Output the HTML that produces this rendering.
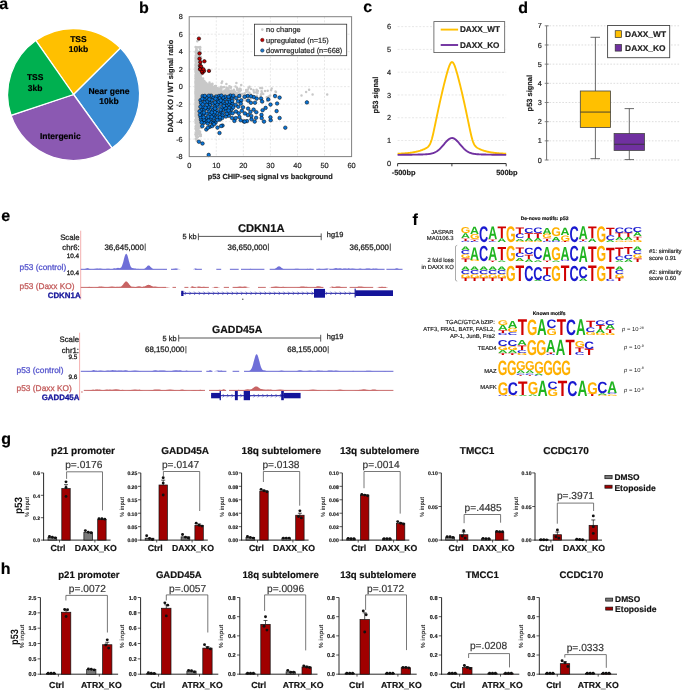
<!DOCTYPE html>
<html><head><meta charset="utf-8"><style>
html,body{margin:0;padding:0;background:#fff;}
svg{display:block;font-family:"Liberation Sans", sans-serif;will-change:transform;text-rendering:geometricPrecision;}
.bd{fill:#0A74D6;stroke:#000;stroke-width:0.5px;}
.rd{fill:#C00000;stroke:#000;stroke-width:0.6px;}
</style></head><body>
<svg width="685" height="690" viewBox="0 0 685 690">
<rect x="0" y="0" width="685" height="690" fill="#fff"/>
<text x="-0.80" y="9.00" font-size="16.0" font-weight="bold" fill="#000" stroke="#000" stroke-width="0.18">a</text>
<text x="139.00" y="12.80" font-size="16.0" font-weight="bold" fill="#000" stroke="#000" stroke-width="0.18">b</text>
<text x="363.30" y="12.40" font-size="16.0" font-weight="bold" fill="#000" stroke="#000" stroke-width="0.18">c</text>
<text x="518.30" y="13.10" font-size="16.0" font-weight="bold" fill="#000" stroke="#000" stroke-width="0.18">d</text>
<text x="1.30" y="221.40" font-size="16.0" font-weight="bold" fill="#000" stroke="#000" stroke-width="0.18">e</text>
<text x="412.60" y="224.60" font-size="16.0" font-weight="bold" fill="#000" stroke="#000" stroke-width="0.18">f</text>
<text x="1.20" y="443.90" font-size="16.0" font-weight="bold" fill="#000" stroke="#000" stroke-width="0.18">g</text>
<text x="0.80" y="574.10" font-size="16.0" font-weight="bold" fill="#000" stroke="#000" stroke-width="0.18">h</text>
<path d="M73.6,94.5 L35.74,40.44 A66.0,66.0 0 0 1 120.51,48.08 Z" fill="#FFC000" stroke="#fff" stroke-width="1.3" stroke-linejoin="round"/>
<path d="M73.6,94.5 L120.51,48.08 A66.0,66.0 0 0 1 112.11,148.10 Z" fill="#3A8DD4" stroke="#fff" stroke-width="1.3" stroke-linejoin="round"/>
<path d="M73.6,94.5 L112.11,148.10 A66.0,66.0 0 0 1 10.97,115.33 Z" fill="#8B59B2" stroke="#fff" stroke-width="1.3" stroke-linejoin="round"/>
<path d="M73.6,94.5 L10.97,115.33 A66.0,66.0 0 0 1 35.74,40.44 Z" fill="#00B050" stroke="#fff" stroke-width="1.3" stroke-linejoin="round"/>
<text x="78.40" y="42.30" font-size="8.5" font-weight="bold" text-anchor="middle" fill="#000" stroke="#000" stroke-width="0.18">TSS</text>
<text x="78.40" y="51.80" font-size="8.5" font-weight="bold" text-anchor="middle" fill="#000" stroke="#000" stroke-width="0.18">10kb</text>
<text x="35.20" y="80.00" font-size="8.5" font-weight="bold" text-anchor="middle" fill="#000" stroke="#000" stroke-width="0.18">TSS</text>
<text x="35.20" y="90.50" font-size="8.5" font-weight="bold" text-anchor="middle" fill="#000" stroke="#000" stroke-width="0.18">3kb</text>
<text x="109.00" y="94.30" font-size="8.5" font-weight="bold" text-anchor="middle" fill="#000" stroke="#000" stroke-width="0.18">Near gene</text>
<text x="109.00" y="104.00" font-size="8.5" font-weight="bold" text-anchor="middle" fill="#000" stroke="#000" stroke-width="0.18">10kb</text>
<text x="60.30" y="138.70" font-size="8.5" font-weight="bold" text-anchor="middle" fill="#000" stroke="#000" stroke-width="0.18">Intergenic</text>
<line x1="216.27" y1="16.70" x2="216.27" y2="156.60" stroke="#d9d9d9" stroke-width="0.6" stroke-dasharray="2,1.6"/>
<line x1="243.33" y1="16.70" x2="243.33" y2="156.60" stroke="#d9d9d9" stroke-width="0.6" stroke-dasharray="2,1.6"/>
<line x1="270.40" y1="16.70" x2="270.40" y2="156.60" stroke="#d9d9d9" stroke-width="0.6" stroke-dasharray="2,1.6"/>
<line x1="297.47" y1="16.70" x2="297.47" y2="156.60" stroke="#d9d9d9" stroke-width="0.6" stroke-dasharray="2,1.6"/>
<line x1="324.53" y1="16.70" x2="324.53" y2="156.60" stroke="#d9d9d9" stroke-width="0.6" stroke-dasharray="2,1.6"/>
<line x1="189.20" y1="139.11" x2="351.60" y2="139.11" stroke="#d9d9d9" stroke-width="0.6" stroke-dasharray="2,1.6"/>
<line x1="189.20" y1="121.63" x2="351.60" y2="121.63" stroke="#d9d9d9" stroke-width="0.6" stroke-dasharray="2,1.6"/>
<line x1="189.20" y1="104.14" x2="351.60" y2="104.14" stroke="#d9d9d9" stroke-width="0.6" stroke-dasharray="2,1.6"/>
<line x1="189.20" y1="86.65" x2="351.60" y2="86.65" stroke="#d9d9d9" stroke-width="0.6" stroke-dasharray="2,1.6"/>
<line x1="189.20" y1="69.16" x2="351.60" y2="69.16" stroke="#d9d9d9" stroke-width="0.6" stroke-dasharray="2,1.6"/>
<line x1="189.20" y1="51.67" x2="351.60" y2="51.67" stroke="#d9d9d9" stroke-width="0.6" stroke-dasharray="2,1.6"/>
<line x1="189.20" y1="34.19" x2="351.60" y2="34.19" stroke="#d9d9d9" stroke-width="0.6" stroke-dasharray="2,1.6"/>
<path d="M199.6 85.6h0M201.5 88.0h0M198.8 57.0h0M200.8 68.5h0M196.7 118.7h0M215.6 88.2h0M195.5 82.1h0M212.2 92.0h0M198.9 105.1h0M197.2 79.2h0M198.6 84.7h0M197.3 82.2h0M200.8 114.4h0M201.8 89.5h0M206.6 83.6h0M196.7 94.4h0M214.2 89.9h0M199.8 79.9h0M197.5 82.2h0M200.7 107.8h0M195.9 97.6h0M202.7 88.2h0M200.0 109.1h0M208.5 95.2h0M198.3 102.1h0M198.5 104.6h0M202.5 94.0h0M198.6 119.2h0M195.6 83.2h0M197.2 72.2h0M201.5 85.7h0M199.2 79.0h0M203.7 100.3h0M195.5 68.9h0M200.8 114.3h0M196.9 127.9h0M197.5 77.5h0M213.7 92.5h0M203.8 95.3h0M218.0 89.8h0M205.8 97.3h0M208.8 91.7h0M196.3 108.2h0M197.2 111.0h0M196.8 103.1h0M202.3 80.6h0M202.7 99.1h0M196.2 115.0h0M197.7 88.8h0M201.8 88.4h0M195.8 69.1h0M196.0 89.4h0M200.6 80.5h0M206.6 100.3h0M211.5 87.2h0M199.6 100.1h0M203.2 98.4h0M200.0 118.1h0M201.0 98.5h0M196.3 102.0h0M210.3 87.2h0M200.7 103.1h0M200.6 83.0h0M195.6 103.6h0M201.9 102.7h0M201.7 100.4h0M201.8 95.9h0M198.8 85.0h0M203.5 89.8h0M204.8 91.7h0M199.3 111.3h0M197.5 101.9h0M205.5 97.1h0M199.4 97.2h0M199.9 113.3h0M196.1 89.7h0M196.9 82.3h0M207.6 93.6h0M199.8 91.1h0M195.6 104.9h0M203.3 86.4h0M198.4 63.1h0M213.0 95.5h0M200.4 89.7h0M201.2 96.3h0M198.0 90.9h0M195.5 67.2h0M227.5 95.0h0M198.2 76.6h0M207.7 90.0h0M196.3 112.5h0M211.8 89.1h0M195.5 58.0h0M200.5 87.7h0M196.0 122.5h0M196.5 70.2h0M204.9 95.0h0M211.2 95.3h0M199.5 72.9h0M204.1 87.8h0M201.9 97.8h0M198.3 72.1h0M208.7 95.2h0M206.4 96.0h0M197.5 61.8h0M202.3 101.7h0M202.3 99.0h0M195.9 80.0h0M226.9 93.2h0M195.5 88.9h0M203.8 97.8h0M203.1 93.0h0M199.5 108.0h0M197.6 100.3h0M195.5 105.9h0M200.2 74.9h0M202.6 95.3h0M202.3 97.6h0M222.0 96.9h0M196.4 93.2h0M196.6 70.1h0M198.9 71.5h0M196.7 92.0h0M198.7 116.7h0M212.1 90.3h0M203.4 85.2h0M199.0 77.2h0M199.9 99.0h0M230.3 94.8h0M198.7 85.3h0M202.2 94.2h0M206.6 94.1h0M202.9 89.6h0M202.6 90.9h0M205.3 96.6h0M196.9 87.0h0M199.0 63.5h0M203.6 87.3h0M199.5 81.6h0M208.6 96.8h0M196.1 135.4h0M198.7 128.4h0M197.5 107.9h0M201.8 99.1h0M198.3 86.8h0M216.9 90.8h0M200.8 85.0h0M211.4 89.7h0M205.5 95.5h0M202.3 88.4h0M202.7 91.9h0M199.0 93.7h0M197.4 88.2h0M197.0 101.7h0M196.1 77.5h0M209.2 99.0h0M199.2 62.0h0M197.2 105.2h0M203.3 89.0h0M200.9 64.3h0M210.1 87.2h0M196.8 96.2h0M200.7 109.2h0M196.0 113.4h0M197.9 72.7h0M199.2 98.9h0M197.1 117.7h0M195.5 85.3h0M197.5 92.8h0M205.8 96.2h0M203.1 96.4h0M198.7 105.5h0M196.7 105.5h0M208.5 89.1h0M203.5 93.0h0M218.8 90.1h0M198.2 101.6h0M208.4 97.2h0M195.7 73.9h0M195.7 67.1h0M195.6 96.0h0M195.7 92.4h0M198.1 73.7h0M195.8 105.1h0M204.7 86.2h0M195.6 96.4h0M198.4 99.4h0M196.7 100.8h0M200.4 75.3h0M195.6 102.8h0M198.7 77.9h0M212.6 93.0h0M202.1 92.7h0M197.6 93.6h0M204.9 99.7h0M199.6 84.8h0M196.4 52.6h0M205.8 90.4h0M195.9 89.2h0M205.0 93.7h0M207.3 88.9h0M201.3 116.9h0M197.5 82.0h0M207.3 88.9h0M196.1 115.8h0M198.1 56.8h0M203.6 91.4h0M201.3 85.2h0M200.4 127.4h0M225.6 99.8h0M200.0 86.7h0M196.8 96.7h0M199.2 80.3h0M204.3 103.2h0M196.3 107.8h0M204.4 98.9h0M212.2 94.6h0M200.5 97.0h0M195.9 101.2h0M197.1 112.2h0M198.0 86.6h0M199.8 83.0h0M198.5 72.7h0M206.7 96.0h0M201.2 103.6h0M197.0 78.2h0M195.6 92.3h0M197.0 90.3h0M197.1 118.9h0M204.3 100.6h0M197.7 118.6h0M210.1 93.8h0M201.0 101.3h0M202.4 95.5h0M205.0 86.2h0M195.5 74.9h0M201.0 91.4h0M196.3 77.9h0M200.8 114.7h0M205.0 92.4h0M198.7 81.1h0M197.4 79.2h0M203.7 95.0h0M198.8 104.8h0M196.8 94.6h0M198.1 114.5h0M199.0 94.5h0M196.0 70.7h0M200.9 82.1h0M212.5 92.8h0M198.3 88.6h0M195.6 91.1h0M203.9 82.3h0M196.8 90.6h0M195.9 112.1h0M196.2 50.4h0M195.6 51.9h0M198.2 90.4h0M200.2 79.7h0M197.1 83.5h0M203.9 92.0h0M200.3 65.9h0M197.7 111.2h0M199.7 85.5h0M203.6 96.1h0M197.5 110.3h0M199.0 83.7h0M196.6 91.7h0M197.3 93.4h0M221.6 82.9h0M200.7 82.3h0M210.7 93.3h0M196.1 54.9h0M206.6 98.6h0M208.9 85.7h0M197.2 78.0h0M203.9 105.9h0M207.1 92.2h0M208.3 94.1h0M201.8 88.3h0M195.9 113.9h0M196.1 78.5h0M215.7 90.9h0M205.4 88.2h0M220.7 89.4h0M200.7 118.0h0M205.1 99.2h0M195.7 78.2h0M202.7 92.2h0M197.8 91.3h0M199.6 98.4h0M196.2 50.3h0M209.5 91.9h0M200.1 116.9h0M199.0 78.1h0M199.1 96.1h0M195.6 97.8h0M212.3 96.5h0M199.0 84.7h0M197.7 106.4h0M197.6 74.9h0M205.5 93.9h0M198.6 110.1h0M197.0 85.3h0M217.2 93.1h0M199.1 72.8h0M196.7 91.4h0M203.7 94.1h0M204.3 90.0h0M198.4 90.7h0M197.2 98.1h0M225.5 97.1h0M197.4 77.2h0M198.1 61.3h0M213.9 92.6h0M197.9 66.4h0M197.4 103.6h0M208.7 93.5h0M199.9 110.9h0M201.3 72.2h0M198.2 54.0h0M205.5 94.1h0M196.2 96.5h0M206.5 95.8h0M196.9 91.5h0M197.5 80.2h0M195.6 96.2h0M206.9 98.6h0M206.0 93.2h0M208.9 95.9h0M197.4 92.5h0M196.6 77.8h0M205.8 89.1h0M198.3 87.9h0M205.1 89.7h0M198.3 105.6h0M195.6 96.8h0M204.7 96.1h0M197.7 69.0h0M196.0 86.1h0M202.5 81.7h0M199.4 109.0h0M197.9 79.9h0M206.4 91.1h0M197.8 92.3h0M200.9 80.0h0M197.2 67.9h0M203.4 87.9h0M211.4 91.2h0M204.2 91.1h0M198.5 82.0h0M209.9 93.1h0M201.6 98.4h0M196.6 112.0h0M196.8 86.9h0M196.5 91.5h0M205.2 89.8h0M238.6 92.3h0M205.7 97.0h0M195.7 105.2h0M200.4 112.6h0M209.4 92.8h0M199.2 69.4h0M195.6 114.8h0M197.4 109.1h0M197.5 126.0h0M196.5 79.5h0M197.3 83.0h0M208.1 96.4h0M202.8 101.2h0M199.3 69.6h0M207.6 88.7h0M208.8 94.5h0M198.8 98.1h0M200.9 82.6h0M197.6 76.6h0M196.7 109.9h0M199.4 86.9h0M195.8 93.4h0M199.6 64.2h0M196.1 105.8h0M199.0 64.6h0M200.8 125.4h0M198.6 80.1h0M206.0 92.7h0M198.9 118.2h0M199.0 104.0h0M196.4 93.3h0M200.6 104.4h0M209.6 97.9h0M208.3 97.0h0M196.1 111.6h0M205.9 87.5h0M203.4 85.5h0M206.9 91.6h0M209.6 96.5h0M201.9 93.5h0M200.5 63.9h0M206.9 91.5h0M203.6 90.2h0M197.8 130.6h0M203.0 97.1h0M197.9 84.8h0M202.6 92.2h0M199.3 99.4h0M197.6 110.4h0M198.0 96.3h0M195.5 100.1h0M207.0 90.6h0M199.2 126.1h0M197.8 91.1h0M199.2 95.5h0M203.3 94.6h0M200.0 100.8h0M197.9 91.9h0M202.2 92.1h0M201.1 72.7h0M209.8 92.8h0M196.0 92.9h0M201.2 107.9h0M200.5 88.2h0M203.0 96.8h0M195.8 87.3h0M197.5 125.8h0M196.4 91.3h0M198.4 71.4h0M208.0 92.5h0M196.7 49.7h0M202.5 99.2h0M209.1 93.1h0M201.2 112.5h0M200.7 84.5h0M210.9 84.4h0M205.7 96.8h0M199.6 79.2h0M206.8 92.4h0M199.5 84.0h0M198.5 83.3h0M201.9 85.5h0M205.1 88.1h0M198.6 85.9h0M202.9 99.0h0M200.5 87.7h0M199.5 90.0h0M207.1 96.1h0M196.8 50.5h0M196.1 84.2h0M202.6 94.2h0M200.4 83.5h0M223.9 92.5h0M201.2 89.5h0M208.6 96.5h0M199.3 105.6h0M195.7 89.4h0M201.8 85.7h0M196.9 72.2h0M198.6 80.2h0M215.0 93.5h0M199.0 90.5h0M199.1 130.7h0M198.8 120.6h0M209.6 88.4h0M196.3 111.2h0M198.8 60.4h0M197.0 89.7h0M198.0 126.5h0M202.2 94.9h0M198.9 95.4h0M207.6 89.1h0M202.8 94.9h0M198.1 99.3h0M198.8 55.4h0M198.3 88.2h0M200.5 106.4h0M205.1 86.0h0M217.8 96.3h0M196.6 93.8h0M204.0 94.9h0M197.1 137.4h0M207.0 91.3h0M202.4 88.5h0M198.4 104.3h0M200.7 60.6h0M207.1 96.5h0M197.7 73.2h0M207.3 86.7h0M200.9 134.5h0M210.9 87.7h0M205.3 93.7h0M201.2 92.7h0M199.2 100.6h0M205.6 86.2h0M206.6 86.8h0M196.3 109.9h0M205.2 84.6h0M198.1 118.1h0M200.3 94.0h0M195.7 101.1h0M215.5 93.8h0M199.1 85.5h0M201.7 98.1h0M208.6 93.9h0M200.5 66.8h0M197.7 94.0h0M197.5 84.1h0M206.7 88.2h0M197.8 57.4h0M196.9 92.7h0M207.3 94.4h0M196.5 82.0h0M204.1 93.3h0M197.6 127.1h0M195.7 77.1h0M208.2 89.7h0M212.0 97.1h0M205.5 88.1h0M198.7 84.4h0M196.0 107.3h0M197.2 131.8h0M198.7 126.6h0M206.3 90.9h0M229.2 92.6h0M198.0 85.0h0M197.7 85.2h0M197.3 80.2h0M202.5 90.9h0M198.5 91.9h0M197.0 97.8h0M197.8 58.9h0M206.2 94.4h0M197.6 135.1h0M201.0 100.3h0M195.9 86.3h0M196.4 106.0h0M196.6 110.5h0M196.8 121.1h0M196.7 54.4h0M203.7 92.5h0M195.8 94.7h0M196.2 92.5h0M198.1 111.6h0M202.1 90.6h0M195.5 71.3h0M200.0 110.7h0M198.3 71.3h0M197.6 78.4h0M206.2 96.5h0M196.6 90.4h0M198.4 108.3h0M198.3 79.5h0M202.2 91.4h0M203.6 98.3h0M198.3 96.9h0M208.7 92.2h0M203.5 94.2h0M197.2 105.2h0M195.5 92.9h0M206.2 92.2h0M204.3 97.6h0M201.3 88.7h0M196.0 116.1h0M201.9 94.9h0M198.4 88.2h0M196.5 94.4h0M201.4 94.9h0M195.5 103.0h0M213.3 88.0h0M201.1 77.8h0M198.8 92.1h0M197.8 89.6h0M197.5 83.1h0M204.9 90.4h0M202.6 91.9h0M197.9 96.9h0M202.2 98.6h0M195.7 132.3h0M198.4 113.7h0M199.9 67.1h0M197.6 80.1h0M195.8 99.1h0M196.5 90.5h0M196.7 101.3h0M200.8 84.0h0M196.6 89.2h0M196.5 81.7h0M201.8 94.8h0M205.8 94.0h0M203.4 100.8h0M196.8 105.9h0M195.4 119.9h0M200.2 89.5h0M202.5 99.5h0M196.8 108.4h0M202.4 87.3h0M215.2 100.9h0M198.8 123.8h0M199.5 75.6h0M201.9 96.8h0M201.0 108.1h0M201.1 74.3h0M197.1 117.4h0M197.2 71.1h0M196.6 96.9h0M197.5 116.0h0M195.5 91.5h0M201.7 89.6h0M198.1 82.0h0M197.0 73.5h0M200.5 74.4h0M198.0 79.7h0M196.1 75.8h0M199.6 90.1h0M210.9 93.8h0M196.3 102.3h0M205.7 89.8h0M199.1 103.9h0M198.3 64.0h0M200.1 52.0h0M208.8 92.6h0M204.5 97.1h0M197.4 59.3h0M214.7 97.4h0M206.8 86.3h0M195.8 63.3h0M211.9 94.1h0M200.1 82.2h0M197.4 51.6h0M212.5 87.0h0M200.4 96.5h0M206.0 95.0h0M199.6 107.9h0M203.9 94.2h0M200.8 88.5h0M197.1 101.1h0M196.8 115.5h0M199.2 127.8h0M197.6 80.5h0M197.2 93.1h0M206.6 88.8h0M197.6 84.5h0M211.9 95.7h0M213.0 94.9h0M200.3 74.2h0M198.1 113.5h0M198.7 109.8h0M197.1 87.2h0M197.7 58.3h0M214.0 90.5h0M198.4 109.6h0M202.4 97.0h0M196.9 62.4h0M199.4 47.3h0M206.0 91.4h0M201.7 91.4h0M195.4 91.5h0M198.7 112.0h0M197.9 112.5h0M202.1 89.6h0M197.5 70.8h0M199.9 75.7h0M209.0 98.7h0M199.3 69.2h0M197.9 90.6h0M209.8 94.5h0M198.8 86.0h0M196.8 113.2h0M204.5 90.0h0M197.0 111.2h0M196.3 105.0h0M199.8 121.8h0M201.0 72.9h0M200.4 125.2h0M201.5 89.0h0M200.1 84.5h0M202.2 85.7h0M215.2 94.0h0M198.5 109.8h0M199.7 87.4h0M195.7 58.7h0M198.6 75.6h0M202.0 100.3h0M199.4 102.4h0M203.0 95.1h0M201.1 83.5h0M198.9 84.9h0M199.3 67.1h0M200.8 93.0h0M198.0 97.7h0M196.1 104.6h0M205.3 89.7h0M207.6 94.5h0M208.5 95.1h0M195.8 81.2h0M205.6 95.2h0M201.5 104.1h0M196.5 105.4h0M197.8 84.7h0M198.0 71.8h0M195.9 95.1h0M198.9 59.6h0M197.9 65.1h0M197.9 131.3h0M201.0 90.1h0M196.4 90.8h0M196.8 81.6h0M197.2 71.0h0M198.0 100.9h0M207.0 85.7h0M200.8 98.4h0M196.4 88.8h0M201.7 89.2h0M202.7 93.2h0M234.3 96.6h0M196.0 116.0h0M202.9 91.5h0M200.2 72.2h0M219.5 95.1h0M195.4 81.2h0M208.5 94.7h0M197.1 51.0h0M202.4 91.5h0M199.4 100.3h0M200.0 124.9h0M196.8 69.0h0M195.9 68.9h0M196.9 90.9h0M195.7 95.0h0M203.0 89.3h0M197.1 73.9h0M201.1 126.1h0M199.7 123.9h0M197.1 70.1h0M197.6 87.7h0M196.0 67.7h0M202.1 95.9h0M198.7 84.5h0M196.6 83.4h0M197.1 107.0h0M197.8 80.2h0M199.1 94.3h0M198.8 64.7h0M210.0 90.0h0M196.6 99.7h0M201.0 85.8h0M199.4 101.7h0M197.5 95.8h0M202.8 98.3h0M205.4 90.6h0M209.8 86.2h0M197.4 68.2h0M207.9 94.5h0M198.1 105.2h0M195.8 56.6h0M206.9 97.5h0M204.8 84.9h0M197.0 96.4h0M200.1 79.8h0M195.7 123.6h0M199.0 111.6h0M203.1 78.4h0M217.3 93.4h0M195.7 114.0h0M205.9 94.9h0M202.3 100.7h0M195.8 96.9h0M201.6 89.0h0M199.0 101.5h0M197.8 110.6h0M207.3 100.0h0M201.8 90.2h0M204.8 98.2h0M232.7 94.1h0M209.3 89.4h0M209.4 95.8h0M213.6 89.9h0M206.7 95.6h0M196.7 66.4h0M199.8 96.0h0M199.6 88.0h0M199.9 119.7h0M204.5 88.3h0M201.0 108.4h0M199.4 51.4h0M205.8 92.5h0M198.4 104.9h0M200.0 132.4h0M200.2 49.4h0M200.7 91.6h0M195.8 107.5h0M196.9 73.4h0M195.8 84.8h0M208.4 94.1h0M199.6 90.8h0M202.5 84.1h0M200.2 96.6h0M199.1 78.1h0M198.8 109.5h0M199.0 113.9h0M202.0 86.9h0M204.7 97.9h0M197.1 87.7h0M197.9 92.2h0M196.5 102.5h0M197.2 71.4h0M196.0 118.8h0M210.6 95.5h0M216.8 90.9h0M198.2 74.7h0M202.1 90.5h0M195.8 79.3h0M200.3 108.3h0M209.3 94.0h0M196.5 115.1h0M196.0 71.4h0M200.0 107.5h0M203.6 99.8h0M196.2 72.3h0M198.5 90.9h0M195.9 111.8h0M220.9 92.2h0M196.2 88.6h0M197.5 71.3h0M196.4 67.5h0M208.5 94.6h0M199.5 95.2h0M198.7 91.8h0M204.1 91.3h0M202.9 93.9h0M196.1 97.9h0M199.7 119.6h0M204.6 92.6h0M198.1 100.5h0M199.0 88.2h0M195.7 122.0h0M195.4 82.8h0M195.8 74.7h0M196.7 82.3h0M195.7 111.7h0M201.5 99.1h0M203.4 95.3h0M196.3 87.7h0M195.6 94.8h0M214.9 90.7h0M205.5 91.8h0M195.9 86.0h0M201.1 111.7h0M195.7 83.9h0M198.4 99.9h0M210.1 84.7h0M200.3 96.1h0M197.8 114.1h0M195.6 57.3h0M196.6 79.7h0M195.5 89.7h0M195.7 94.9h0M197.0 89.9h0M195.7 85.5h0M196.4 130.8h0M206.7 87.8h0M200.2 66.2h0M201.3 108.2h0M196.5 110.9h0M197.8 102.0h0M202.2 86.8h0M198.5 131.0h0M207.4 91.6h0M196.3 119.0h0M196.6 96.1h0M198.8 121.2h0M208.6 88.8h0M200.2 80.4h0M195.4 92.2h0M202.7 99.6h0M196.1 84.5h0M208.2 90.0h0M199.5 61.9h0M205.6 98.8h0M196.1 99.1h0M198.2 78.5h0M195.6 58.4h0M199.1 77.1h0M201.8 95.3h0M197.2 76.3h0M212.7 96.3h0M197.0 78.3h0M198.9 61.7h0M201.7 84.8h0M195.6 89.5h0M196.9 80.7h0M198.5 74.1h0M200.1 73.2h0M213.0 93.3h0M211.2 97.8h0M200.9 95.2h0M196.8 83.6h0M198.4 56.7h0M197.4 65.0h0M198.5 75.1h0M195.5 94.5h0M196.6 85.2h0M204.9 84.9h0M205.8 101.0h0M195.8 105.7h0M201.2 100.0h0M196.9 99.5h0M204.1 89.4h0M207.7 88.8h0M203.3 94.9h0M197.5 119.2h0M195.7 75.4h0M200.6 70.3h0M205.0 102.5h0M198.2 118.6h0M208.5 94.6h0M208.9 92.7h0M197.3 93.2h0M212.1 90.3h0M195.5 116.2h0M202.1 100.6h0M197.9 137.1h0M196.2 63.9h0M201.9 89.7h0M208.9 95.9h0M196.4 75.3h0M200.3 109.2h0M201.7 87.8h0M195.5 70.7h0M197.6 98.5h0M196.3 84.3h0M209.8 86.4h0M199.5 87.5h0M196.1 111.9h0M198.0 102.9h0M213.6 92.6h0M199.1 62.8h0M200.8 102.2h0M212.3 98.1h0M200.7 100.7h0M200.2 112.5h0M201.9 95.1h0M200.0 95.2h0M211.0 90.6h0M199.2 98.7h0M210.2 98.3h0M202.4 86.8h0M198.6 73.0h0M209.7 100.0h0M195.8 133.1h0M204.7 97.0h0M201.9 86.1h0M199.0 92.6h0M195.6 77.3h0M201.6 94.8h0M202.0 90.3h0M199.5 134.0h0M197.2 65.8h0M199.8 94.6h0M201.5 96.9h0M203.7 95.3h0M207.5 88.3h0M198.4 111.6h0M208.5 104.6h0M197.2 129.7h0M207.9 99.9h0M199.1 78.3h0M199.0 75.5h0M202.2 89.9h0M195.9 77.8h0M207.3 99.3h0M199.1 119.6h0M197.0 75.0h0M201.3 114.0h0M209.7 96.2h0M206.9 92.0h0M196.2 75.3h0M195.9 116.7h0M202.2 95.9h0M197.7 109.9h0M200.9 57.1h0M206.1 95.3h0M197.1 66.1h0M202.7 96.6h0M197.2 113.2h0M196.4 82.3h0M200.5 91.4h0M208.5 88.0h0M201.2 119.2h0M205.5 92.9h0M200.2 78.5h0M196.7 104.8h0M198.1 126.6h0M228.1 92.9h0M196.8 83.5h0M201.0 100.9h0M198.4 113.0h0M204.1 89.4h0M198.9 84.0h0M196.7 90.7h0M205.0 100.9h0M196.0 102.3h0M204.1 90.0h0M217.8 92.3h0M195.5 76.6h0M198.1 82.4h0M196.5 94.0h0M196.3 86.4h0M207.4 94.6h0M201.2 71.5h0M198.3 100.1h0M195.7 93.8h0M203.1 93.7h0M210.0 89.0h0M198.5 96.8h0M198.3 102.0h0M199.8 59.9h0M198.4 80.7h0M200.1 111.4h0M205.5 90.5h0M199.8 88.6h0M198.8 93.0h0M198.1 86.7h0M196.3 85.9h0M202.4 103.0h0M203.0 98.5h0M196.4 108.0h0M198.8 85.1h0M204.1 96.0h0M199.0 107.3h0M198.0 119.8h0M201.5 98.8h0M206.0 86.8h0M200.8 69.0h0M206.1 87.2h0M200.6 93.8h0M207.8 95.4h0M199.9 80.2h0M203.0 93.0h0M199.1 70.1h0M198.6 86.6h0M197.6 86.2h0M202.0 100.1h0M197.5 88.9h0M195.9 51.6h0M208.8 96.6h0M196.0 87.6h0M203.1 103.9h0M196.4 122.2h0M198.0 95.5h0M195.7 71.7h0M199.8 70.2h0M201.8 89.3h0M198.1 71.5h0M210.4 94.7h0M202.3 96.8h0M198.2 77.8h0M203.7 91.9h0M195.5 76.1h0M200.7 94.8h0M198.3 90.6h0M196.1 66.9h0M199.0 108.6h0M198.2 116.2h0M199.2 82.4h0M196.1 130.1h0M217.8 94.0h0M195.6 87.1h0M197.2 117.7h0M216.2 91.3h0M197.3 89.2h0M196.3 79.8h0M205.6 95.6h0M200.0 115.5h0M210.3 98.0h0M203.0 90.0h0M203.9 93.3h0M196.2 109.3h0M207.9 92.9h0M207.5 86.8h0M210.4 89.3h0M200.9 127.3h0M196.6 83.8h0M213.0 91.7h0M201.6 90.4h0M214.3 93.7h0M195.6 64.6h0M211.3 93.3h0M197.6 53.5h0M196.9 70.0h0M199.6 111.2h0M198.2 99.7h0M201.3 86.9h0M224.2 87.0h0M195.6 93.2h0M197.7 98.3h0M214.2 94.2h0M200.3 108.8h0M204.5 95.4h0M198.2 113.4h0M201.3 72.7h0M196.7 103.4h0M204.4 94.9h0M210.0 96.5h0M209.1 97.0h0M195.6 46.9h0M206.3 89.9h0M203.0 88.9h0M203.1 101.5h0M199.4 115.8h0M218.9 90.5h0M200.8 92.3h0M212.3 93.3h0M198.7 122.3h0M202.3 89.6h0M203.4 100.6h0M200.3 98.8h0M226.8 95.1h0M206.3 91.9h0M202.6 87.2h0M197.2 89.2h0M202.0 93.0h0M213.9 90.2h0M197.7 86.0h0M201.9 99.1h0M196.8 92.9h0M205.3 94.8h0M195.5 71.9h0M196.0 94.4h0M203.8 82.9h0M198.5 65.2h0M205.6 92.6h0M197.4 114.7h0M200.9 74.6h0M201.4 98.2h0M197.3 126.7h0M197.7 61.9h0M201.0 95.1h0M200.6 103.1h0M200.9 136.1h0M197.2 100.2h0M205.3 82.3h0M196.2 89.4h0M199.3 64.2h0M202.5 95.3h0M208.4 93.6h0M196.9 75.2h0M201.4 104.7h0M209.0 92.6h0M204.9 91.2h0M196.7 91.0h0M198.8 97.7h0M196.2 102.0h0M201.4 108.5h0M196.1 87.9h0M206.7 96.4h0M196.6 131.8h0M196.7 82.9h0M209.3 90.4h0M208.9 95.9h0M197.6 57.0h0M195.4 78.7h0M198.5 130.7h0M195.7 92.1h0M201.0 104.1h0M196.7 77.3h0M214.2 87.3h0M200.7 124.7h0M197.7 81.3h0M197.2 89.4h0M209.0 84.3h0M196.6 83.0h0M197.5 104.0h0M196.3 93.5h0M217.0 91.8h0M197.8 59.6h0M197.3 101.6h0M203.9 91.8h0M196.5 81.9h0M202.4 89.2h0M196.8 56.1h0M195.5 87.5h0M219.2 95.9h0M203.3 102.2h0M202.5 96.9h0M198.0 101.6h0M195.8 138.8h0M196.0 128.0h0M198.9 103.8h0M195.6 114.1h0M206.9 89.3h0M206.0 94.8h0M201.9 91.7h0M211.9 99.9h0M195.7 85.3h0M195.9 69.1h0M205.0 93.9h0M198.7 79.0h0M201.9 90.4h0M196.5 92.0h0M198.9 79.1h0M196.3 92.7h0M198.8 122.5h0M198.6 59.9h0M207.3 94.7h0M214.5 98.1h0M203.4 85.5h0M199.3 115.8h0M196.3 112.5h0M207.3 98.4h0M225.4 93.4h0M195.6 114.0h0M200.6 112.2h0M197.7 93.3h0M203.6 89.0h0M198.1 118.5h0M203.5 100.1h0M206.5 94.0h0M207.6 86.9h0M199.8 105.2h0M196.7 115.2h0M203.8 87.7h0M196.0 78.0h0M209.5 90.7h0M199.3 86.5h0M196.8 94.2h0M196.3 91.1h0M198.7 72.4h0M197.9 108.3h0M202.8 91.0h0M213.1 96.9h0M202.9 84.2h0M198.1 103.7h0M200.9 118.2h0M195.6 84.2h0M196.4 86.0h0M198.9 103.6h0M203.6 91.1h0M198.0 92.6h0M205.5 86.3h0M215.5 88.7h0M196.3 99.2h0M204.0 85.9h0M202.0 81.8h0M198.1 101.0h0M200.5 69.3h0M201.1 80.4h0M200.1 46.9h0M197.1 95.4h0M199.0 72.4h0M195.9 113.7h0M200.2 118.6h0M198.9 117.8h0M205.0 99.2h0M197.3 111.7h0M200.2 77.4h0M197.1 114.4h0M196.8 131.9h0M206.3 101.2h0M199.6 80.1h0M218.6 89.8h0M196.5 117.1h0M198.7 81.8h0M199.7 106.3h0M200.5 115.2h0M196.8 84.0h0M197.1 113.6h0M205.6 95.5h0M207.2 90.7h0M214.6 96.7h0M207.1 93.6h0M195.9 117.0h0M198.1 75.4h0M198.5 107.7h0M196.5 100.3h0M202.6 96.2h0M204.4 90.4h0M214.3 92.3h0M199.8 77.4h0M203.4 96.1h0M204.0 93.6h0M203.3 93.3h0M197.2 111.5h0M206.1 88.7h0M201.4 73.5h0M199.0 95.4h0M195.5 83.5h0M214.7 89.0h0M200.5 97.1h0M198.3 56.4h0M196.3 110.5h0M199.5 106.3h0M205.6 92.9h0M205.2 92.0h0M197.4 127.9h0M207.3 88.8h0M195.8 106.2h0M199.7 102.2h0M196.0 73.2h0M201.5 103.3h0M197.1 99.9h0M197.4 84.7h0M196.4 81.7h0M197.5 91.5h0M201.6 98.6h0M201.6 88.6h0M197.1 52.1h0M199.2 96.4h0M202.6 86.7h0M200.5 97.0h0M216.0 86.1h0M214.1 88.3h0M196.2 65.0h0M204.7 87.2h0M208.0 89.9h0M208.3 91.4h0M209.4 92.0h0M199.0 102.5h0M199.4 89.8h0M197.6 98.9h0M196.5 98.9h0M211.8 91.9h0M203.7 90.9h0M199.1 108.3h0M197.2 105.2h0M195.6 98.0h0M200.8 65.2h0M201.0 108.8h0M232.0 91.5h0M201.6 95.3h0M196.6 94.3h0M196.0 50.8h0M209.4 93.7h0M196.4 113.2h0M198.4 79.8h0M195.7 92.3h0M196.0 79.1h0M203.0 102.5h0M199.0 97.1h0M201.8 98.4h0M208.8 92.3h0M199.2 107.7h0M203.7 83.4h0M204.6 89.3h0M197.5 91.2h0M212.7 89.6h0M206.8 89.6h0M204.6 87.0h0M198.9 96.5h0M210.5 91.9h0M201.8 93.2h0M203.7 111.3h0M198.6 91.7h0M198.4 103.1h0M198.8 67.3h0M196.3 64.6h0M200.2 83.1h0M196.7 63.7h0M200.4 99.2h0M205.7 92.3h0M198.9 71.3h0M200.6 68.5h0M214.3 90.9h0M198.0 95.0h0M201.8 87.1h0M198.7 103.2h0M200.7 77.5h0M196.8 96.3h0M197.1 75.8h0M215.6 90.3h0M213.3 93.8h0M205.5 90.8h0M197.0 77.2h0M199.4 109.0h0M197.4 96.3h0M196.0 74.2h0M199.8 94.3h0M197.8 58.1h0M205.7 95.5h0M198.5 61.8h0M198.3 131.2h0M231.7 91.6h0M197.8 94.1h0M207.1 88.5h0M206.6 90.8h0M202.4 94.4h0M199.5 83.5h0M196.4 86.1h0M198.2 98.4h0M196.1 91.4h0M198.1 116.1h0M203.2 85.6h0M222.6 93.5h0M200.8 94.5h0M196.8 91.5h0M199.3 107.4h0M195.6 105.2h0M195.5 128.8h0M201.2 72.8h0M198.1 104.8h0M197.9 112.0h0M196.4 134.5h0M201.5 95.8h0M210.0 95.1h0M195.6 75.0h0M201.5 98.5h0M196.1 103.3h0M204.5 102.8h0M199.7 62.3h0M200.7 104.3h0M199.4 112.9h0M200.2 93.5h0M202.4 81.9h0M197.9 137.1h0M196.0 99.0h0M200.9 61.7h0M196.6 69.5h0M196.6 106.4h0M196.2 103.5h0M197.9 73.4h0M200.9 80.2h0M209.3 90.7h0M216.2 93.6h0M199.4 96.3h0M199.4 110.2h0M201.8 92.1h0M197.9 107.1h0M199.8 102.1h0M196.2 105.7h0M209.0 91.1h0M195.6 84.9h0M197.0 89.4h0M199.1 97.3h0M214.5 89.2h0M207.3 90.3h0M221.9 91.4h0M198.2 101.6h0M196.8 90.5h0M198.3 83.6h0M197.5 90.4h0M201.9 90.2h0M208.7 98.8h0M196.4 107.0h0M197.9 97.0h0M210.7 93.6h0M212.7 95.6h0M203.1 88.9h0M196.9 123.2h0M197.4 113.3h0M198.3 100.4h0M196.7 90.0h0M196.6 92.7h0M199.0 87.2h0M195.5 69.9h0M196.7 59.1h0M215.3 90.5h0M201.3 108.2h0M197.8 83.6h0M196.9 47.6h0M201.9 89.0h0M212.5 93.5h0M196.6 74.0h0M197.4 80.3h0M215.1 88.8h0M206.1 86.3h0M201.0 100.9h0M195.7 89.7h0M207.2 86.9h0M200.3 111.6h0M197.5 71.7h0M197.5 93.4h0M196.3 126.6h0M198.4 84.9h0M195.8 110.3h0M199.3 103.0h0M196.1 90.2h0M199.9 57.0h0M196.0 105.3h0M196.2 58.5h0M215.3 93.7h0M195.6 60.8h0M197.8 96.7h0M202.5 92.2h0M203.6 97.2h0M204.9 97.3h0M200.0 75.1h0M205.0 94.8h0M198.7 100.5h0M198.2 63.0h0M201.3 104.1h0M201.1 118.4h0M196.1 67.4h0M202.6 97.7h0M196.1 112.9h0M202.9 89.8h0M208.2 92.4h0M197.7 65.2h0M198.4 65.6h0M210.9 90.5h0M210.5 96.9h0M202.9 91.2h0M197.6 119.3h0M200.9 90.2h0M197.1 108.8h0M208.8 92.4h0M201.6 90.6h0M199.2 90.0h0M197.7 65.3h0M198.1 133.5h0M197.1 107.6h0M215.1 91.0h0M200.0 86.1h0M200.0 49.1h0M197.5 53.9h0M210.8 96.2h0M195.4 109.9h0M218.5 90.9h0M198.0 122.2h0M196.4 114.0h0M197.1 105.6h0M198.4 119.4h0M197.4 81.1h0M195.5 102.3h0M199.9 96.1h0M197.9 76.1h0M198.9 78.6h0M198.7 53.4h0M207.1 85.6h0M199.3 94.0h0M196.8 107.1h0M197.8 90.8h0M200.0 96.1h0M199.2 102.1h0M202.4 104.8h0M196.0 62.7h0M208.0 88.0h0M203.3 91.1h0M201.2 67.3h0M207.0 88.6h0M196.8 109.3h0M199.7 102.0h0M198.5 113.7h0M197.6 71.5h0M197.6 58.2h0M198.9 99.1h0M197.2 93.2h0M200.7 99.2h0M202.8 99.1h0M203.5 90.9h0M198.3 89.1h0M209.9 88.6h0M204.3 91.2h0M202.9 88.3h0M195.8 77.9h0M205.2 92.1h0M200.5 96.2h0M196.9 67.7h0M197.2 83.8h0M197.0 105.9h0M195.5 65.2h0M214.3 91.7h0M199.0 106.6h0M217.7 90.0h0M196.5 92.9h0M205.9 92.3h0M207.5 86.1h0M196.2 59.4h0M202.2 85.1h0M197.8 74.9h0M196.7 107.8h0M198.0 109.3h0M198.0 91.6h0M197.7 76.0h0M213.2 103.1h0M208.3 91.6h0M231.0 98.3h0M196.9 108.8h0M202.4 92.1h0M198.3 124.7h0M205.3 91.9h0M197.6 128.3h0M199.8 91.2h0M200.4 105.8h0M200.6 99.5h0M199.4 109.8h0M204.0 94.6h0M201.8 95.2h0M200.9 112.0h0M197.1 101.2h0M202.4 101.0h0M200.4 99.3h0M201.4 87.0h0M195.6 98.4h0M201.8 92.6h0M200.8 52.7h0M195.5 82.9h0M201.4 87.8h0M198.3 88.3h0M199.6 100.9h0M197.7 72.1h0M195.6 95.6h0M210.4 92.1h0M204.3 81.0h0M197.1 87.6h0M197.3 89.0h0M196.6 88.6h0M197.7 67.2h0M205.1 93.8h0M221.8 92.2h0M220.2 92.9h0M207.9 94.3h0M195.5 113.7h0M196.2 59.1h0M201.4 81.2h0M197.7 110.4h0M203.6 84.7h0M203.0 96.8h0M221.4 92.9h0M195.9 112.5h0M196.4 86.5h0M197.7 108.7h0M210.7 91.3h0M196.5 71.8h0M199.0 118.4h0M198.2 98.0h0M197.4 113.4h0M200.2 95.9h0M196.5 102.2h0M198.6 115.1h0M195.6 61.4h0M198.4 123.1h0M197.0 84.6h0M201.2 96.8h0M202.4 95.5h0M196.6 140.5h0M195.6 115.5h0M198.1 94.9h0M198.8 82.4h0M203.5 89.0h0M199.2 98.3h0M200.3 68.6h0M197.7 81.6h0M197.9 99.2h0M209.8 96.1h0M201.3 97.7h0M196.8 74.0h0M198.0 75.2h0M198.1 81.2h0M196.7 107.4h0M204.6 96.9h0M196.0 76.0h0M198.1 113.8h0M198.1 100.7h0M206.4 85.7h0M198.8 127.1h0M196.9 91.7h0M201.9 91.9h0M207.7 89.8h0M199.3 98.5h0M199.4 125.7h0M196.3 75.5h0M199.1 69.2h0M202.2 92.6h0M195.7 85.5h0M200.4 104.1h0M199.5 125.3h0M206.0 91.6h0M198.5 54.3h0M202.2 93.1h0M196.5 113.2h0M198.8 84.4h0M195.7 78.7h0M196.0 127.9h0M200.8 89.3h0M221.6 94.0h0M199.3 58.3h0M200.6 56.8h0M197.5 104.5h0M196.1 115.1h0M195.6 126.6h0M204.9 84.0h0M195.6 83.1h0M200.9 99.9h0M200.4 80.1h0M195.5 68.3h0M213.7 94.4h0M196.7 66.9h0M200.5 81.2h0M197.2 135.2h0M200.9 117.8h0M196.4 121.7h0M212.9 99.0h0M199.0 83.7h0M199.0 115.2h0M199.5 120.1h0M200.0 107.1h0M198.3 75.5h0M236.7 94.7h0M198.8 78.5h0M196.9 114.3h0M196.0 103.3h0M212.1 91.7h0M217.9 98.8h0M196.6 77.6h0M199.6 118.5h0M201.7 92.7h0M206.6 95.0h0M199.3 93.5h0M198.2 100.2h0M196.0 136.2h0M205.5 97.4h0M209.4 91.0h0M195.8 77.7h0M201.4 101.0h0M207.5 92.4h0M195.5 100.4h0M196.9 93.9h0M210.1 94.1h0M196.6 91.7h0M205.2 97.2h0M219.4 89.9h0M195.9 68.4h0M206.8 85.4h0M208.6 96.3h0M205.0 87.8h0M199.1 91.9h0M202.9 91.4h0M197.4 102.9h0M199.3 126.3h0M196.3 86.4h0M211.2 90.8h0M196.8 125.8h0M197.7 75.4h0M202.9 100.3h0M209.0 92.9h0M200.7 66.6h0M201.0 84.5h0M201.5 94.8h0M199.9 110.5h0M197.6 98.0h0M222.7 93.7h0M199.4 77.0h0M208.1 91.9h0M199.2 94.4h0M213.4 91.2h0M209.5 94.5h0M216.8 89.1h0M199.8 111.0h0M196.7 53.7h0M199.2 93.0h0M197.5 104.9h0M195.9 81.2h0M202.2 91.2h0M198.6 92.4h0M198.1 101.8h0M195.8 75.9h0M210.3 93.0h0M196.1 126.0h0M200.0 64.1h0M208.8 86.2h0M205.1 91.6h0M200.3 116.3h0M196.7 76.9h0M200.5 81.1h0M215.2 91.2h0M199.3 113.6h0M199.3 120.7h0M202.1 83.5h0M197.0 114.3h0M201.7 84.0h0M202.3 85.8h0M202.0 96.9h0M198.8 111.2h0M199.6 69.2h0M198.9 72.6h0M197.8 92.2h0M206.5 97.3h0M196.4 113.2h0M195.6 100.5h0M203.2 99.5h0M204.1 84.8h0M195.8 106.4h0M202.8 94.6h0M203.0 92.8h0M199.4 76.2h0M213.6 93.8h0M200.0 91.2h0M196.1 78.5h0M200.1 131.5h0M202.0 79.3h0M213.4 89.6h0M199.0 85.3h0M199.6 111.2h0M217.6 93.8h0M197.0 103.9h0M202.6 101.3h0M196.9 80.8h0M195.5 91.5h0M195.8 95.9h0M197.6 115.5h0M196.2 84.0h0M222.2 95.3h0M202.1 89.7h0M202.0 95.4h0M197.2 98.4h0M197.7 93.6h0M207.5 94.1h0M196.5 100.6h0M201.7 95.3h0M203.5 88.2h0M198.9 77.3h0M206.2 88.3h0M198.5 77.1h0M198.9 84.1h0M197.4 89.2h0M196.1 91.6h0M207.2 93.7h0M203.4 94.7h0M202.1 93.0h0M198.7 113.7h0M211.1 99.6h0M201.3 122.8h0M215.8 91.9h0M196.5 69.7h0M197.8 84.8h0M201.8 96.4h0M204.1 98.7h0M198.9 91.1h0M197.4 90.4h0M200.0 79.5h0M199.3 89.9h0M200.7 100.8h0M211.7 98.8h0M196.6 62.1h0M197.5 84.9h0M208.9 96.4h0M195.8 106.7h0M204.4 88.8h0M199.4 110.3h0M198.7 91.6h0M199.2 83.2h0M200.0 99.2h0M196.5 99.7h0M195.5 104.7h0M196.7 104.8h0M202.2 95.8h0M197.7 69.1h0M198.5 89.4h0M210.9 100.5h0M198.1 101.7h0M198.0 127.6h0M197.0 90.4h0M200.8 107.4h0M199.5 95.0h0M203.9 97.2h0M201.2 80.1h0M200.1 69.0h0M196.9 79.5h0M206.3 91.8h0M206.1 97.2h0M205.9 88.5h0M201.8 91.7h0M203.4 98.2h0M196.1 73.5h0M196.9 91.0h0M205.5 89.8h0M198.0 121.3h0M199.9 73.8h0M204.2 88.4h0M195.9 84.9h0M202.1 87.9h0M210.5 87.2h0M195.8 58.5h0M201.6 81.2h0M200.1 56.5h0M200.9 108.8h0M211.1 88.8h0M202.3 90.8h0M196.6 88.9h0M201.7 83.9h0M198.7 105.3h0M202.0 89.7h0M196.1 105.9h0M196.1 99.3h0M197.1 85.2h0M195.9 55.5h0M204.2 86.8h0M199.0 69.9h0M213.1 88.4h0M204.2 94.7h0M201.4 88.1h0M211.8 91.7h0M208.7 93.3h0M201.4 95.8h0M201.9 96.0h0M207.2 93.9h0M199.4 81.9h0M214.1 92.8h0M217.3 92.4h0M203.1 90.9h0M215.4 90.4h0M195.8 93.9h0M207.0 99.3h0M195.9 129.2h0M201.1 127.0h0M195.9 63.5h0M198.3 60.5h0M202.7 82.0h0M202.0 88.8h0M204.4 96.4h0M202.7 89.7h0M209.5 94.4h0M197.5 116.4h0M197.8 102.2h0M204.9 92.9h0M197.1 89.1h0M195.7 99.6h0M199.8 118.9h0M196.5 86.0h0M199.6 71.4h0M201.7 80.7h0M197.8 93.3h0M203.6 99.7h0M199.3 132.8h0M197.5 60.2h0M197.1 69.8h0M196.2 118.0h0M196.8 99.1h0M203.0 85.9h0M200.5 105.7h0M200.8 94.3h0M196.0 115.4h0M208.3 92.3h0M199.3 84.0h0M224.0 96.4h0M199.8 124.9h0M196.8 111.0h0M199.6 100.0h0M199.3 111.7h0M203.2 102.4h0M195.9 86.4h0M197.3 51.0h0M199.4 80.7h0M197.1 68.5h0M197.3 85.3h0M202.2 94.2h0M200.8 68.9h0M196.7 93.8h0M195.8 97.1h0M195.6 77.2h0M210.5 95.6h0M198.8 101.0h0M197.3 99.9h0M197.2 109.4h0M197.3 91.4h0M200.2 93.9h0M195.7 82.9h0M206.8 97.7h0M201.3 103.9h0M203.2 93.6h0M201.7 96.5h0M200.5 59.5h0M197.4 97.7h0M208.1 93.6h0M195.5 64.5h0M205.0 90.4h0M195.5 70.9h0M196.5 90.7h0M208.8 99.1h0M203.8 89.5h0M198.5 125.7h0M208.3 95.0h0M201.0 68.1h0M204.1 88.9h0M207.7 97.2h0M197.1 119.0h0M197.9 82.6h0M202.1 87.0h0M198.3 92.5h0M199.8 127.5h0M202.0 86.3h0M205.8 88.6h0M197.8 91.4h0M201.9 90.6h0M197.0 82.8h0M200.9 100.9h0M197.3 102.6h0M197.2 95.9h0M197.2 76.7h0M195.8 85.8h0M198.1 87.5h0M197.9 82.0h0M197.1 66.9h0M200.7 74.9h0M198.1 69.7h0M199.8 109.1h0M195.5 87.4h0M209.1 92.2h0M217.0 92.4h0M203.0 86.9h0M210.0 89.7h0M197.6 120.8h0M197.4 88.9h0M206.7 85.1h0M217.1 91.4h0M196.7 67.9h0M197.4 91.4h0M195.6 119.7h0M219.7 89.6h0M199.0 96.3h0M195.5 86.7h0M203.7 85.1h0M204.8 95.6h0M195.5 82.8h0M205.0 100.0h0M197.0 99.4h0M201.3 96.1h0M200.5 84.4h0M202.3 93.8h0M200.8 99.6h0M195.7 72.4h0M195.9 77.4h0M219.4 102.9h0M197.6 96.8h0M203.2 91.3h0M199.7 63.4h0M198.9 102.7h0M209.3 92.0h0M205.4 94.1h0M197.7 81.0h0M196.7 117.9h0M197.4 92.9h0M200.8 66.5h0M196.8 56.9h0M195.5 108.8h0M196.1 68.0h0M196.9 113.6h0M202.8 91.8h0M200.3 119.3h0M196.2 90.5h0M197.3 98.1h0M200.1 70.7h0M202.8 88.9h0M219.8 95.7h0M198.1 115.5h0M199.6 87.0h0M200.5 83.7h0M203.3 86.6h0M202.3 92.5h0M197.5 83.9h0M203.5 80.9h0M195.8 67.6h0M199.9 87.1h0M197.0 81.9h0M203.3 100.4h0M197.9 76.8h0M197.5 62.8h0M200.3 85.7h0M200.3 82.4h0M198.8 97.5h0M201.7 93.1h0M210.3 88.8h0M200.5 65.9h0M203.3 90.4h0M217.8 93.2h0M207.8 99.0h0M200.6 74.3h0M201.0 74.9h0M208.0 87.5h0M197.4 70.1h0M217.7 91.6h0M195.8 99.5h0M198.9 80.2h0M201.6 98.0h0M203.9 94.6h0M196.2 91.2h0M206.3 92.1h0M201.2 75.1h0M199.8 85.8h0M199.3 88.3h0M196.6 138.2h0M195.8 84.4h0M202.9 85.9h0M206.0 97.2h0M201.3 73.8h0M195.7 127.1h0M214.9 93.7h0M200.1 77.9h0M207.2 95.9h0M230.9 87.1h0M195.7 105.9h0M197.0 111.4h0M207.5 90.9h0M205.3 85.6h0M202.2 93.6h0M209.7 89.2h0M207.0 96.3h0M202.9 100.4h0M202.0 84.5h0M197.3 126.6h0M201.3 109.2h0M196.3 98.7h0M197.7 76.8h0M198.7 86.1h0M196.6 68.8h0M201.1 58.2h0M196.1 105.8h0M197.0 81.8h0M201.9 104.9h0M214.8 91.8h0M195.5 106.4h0M199.4 107.1h0M198.6 97.8h0M195.6 92.3h0M196.9 111.8h0M213.2 95.5h0M196.4 90.6h0M221.2 89.5h0M201.5 91.2h0M197.0 84.3h0M207.5 93.0h0M218.9 91.6h0M240.9 90.2h0M197.1 101.1h0M195.8 106.2h0M207.7 91.4h0M208.4 102.0h0M196.7 82.0h0M196.1 112.2h0M205.8 84.7h0M197.9 95.7h0M199.9 65.7h0M199.0 95.8h0M198.9 89.3h0M196.9 90.9h0M196.0 86.7h0M217.4 93.4h0M195.5 108.1h0M203.7 87.4h0M207.5 93.8h0M205.9 91.6h0M197.8 88.4h0M199.2 106.0h0M202.0 96.0h0M201.8 89.6h0M198.8 113.3h0M197.7 104.3h0M211.1 92.8h0M206.2 91.8h0M198.2 103.6h0M197.4 117.4h0M200.2 92.2h0M209.5 98.6h0M198.5 114.3h0M218.5 90.7h0M196.9 85.9h0M202.6 95.4h0M196.0 121.6h0M199.0 83.9h0M196.1 56.1h0M198.0 86.0h0M196.9 89.4h0M196.2 108.7h0M200.1 127.3h0M198.6 83.0h0M209.5 92.2h0M196.2 95.3h0M199.4 112.3h0M206.0 92.9h0M197.4 102.3h0M203.4 89.0h0M221.4 96.0h0M201.9 89.9h0M204.8 95.7h0M203.6 90.5h0M201.1 87.2h0M195.9 106.8h0M196.6 88.6h0M201.5 87.8h0M201.2 101.6h0M202.4 92.3h0M195.4 134.6h0M198.3 104.8h0M197.5 126.2h0M197.5 107.5h0M200.3 47.6h0M207.9 92.2h0M197.7 79.2h0M200.7 61.7h0M196.2 117.3h0M196.9 107.0h0M210.1 87.8h0M196.3 106.4h0M201.8 91.4h0M201.8 89.3h0M202.1 86.7h0M205.1 91.3h0M196.4 101.5h0M197.0 76.1h0M202.2 94.9h0M196.4 101.4h0M196.8 114.2h0M202.3 96.3h0M201.8 103.1h0M196.4 123.1h0M195.6 60.1h0M200.9 96.7h0M197.0 69.2h0M201.4 91.8h0M197.0 106.5h0M199.0 108.1h0M195.9 125.9h0M196.9 83.2h0M207.8 94.7h0M207.9 94.7h0M199.6 94.2h0M201.8 85.1h0M199.4 82.0h0M199.8 122.5h0M197.1 76.0h0M199.5 105.1h0M195.7 99.3h0M195.5 109.5h0M202.4 91.3h0M200.3 86.7h0M200.8 80.4h0M196.9 110.3h0M199.2 126.3h0M200.6 105.0h0M196.8 93.8h0M205.5 99.0h0M211.5 92.6h0M198.6 82.6h0M200.0 110.1h0M200.1 78.8h0M197.9 110.9h0M199.2 78.6h0M196.9 108.8h0M203.2 100.4h0M195.6 122.7h0M195.5 108.4h0M201.8 104.5h0M197.8 96.6h0M208.6 87.6h0M203.0 80.3h0M204.4 94.0h0M209.1 89.2h0M197.2 103.0h0M203.9 97.5h0M209.2 87.1h0M224.7 94.1h0M195.7 98.5h0M195.9 104.5h0M196.3 68.9h0M198.4 119.4h0M197.9 121.5h0M204.1 96.3h0M196.3 48.5h0M197.2 113.4h0M200.1 136.0h0M197.6 63.8h0M198.7 119.4h0M197.6 76.6h0M197.1 104.3h0M197.5 104.0h0M201.5 106.0h0M207.9 89.9h0M207.0 95.6h0M196.4 118.5h0M197.3 108.4h0M201.0 98.1h0M203.1 87.1h0M199.2 105.5h0M196.3 114.0h0M196.0 112.8h0M200.6 83.8h0M201.7 97.6h0M198.5 123.7h0M212.1 94.0h0M196.9 61.7h0M198.2 97.9h0M199.5 71.8h0M205.0 90.8h0M202.9 97.4h0M208.7 91.6h0M198.8 106.6h0M197.8 83.2h0M197.7 74.4h0M197.4 105.3h0M195.8 112.6h0M217.5 95.9h0M199.0 102.2h0M221.4 89.5h0M199.4 93.8h0M198.8 64.4h0M201.8 91.4h0M198.4 77.3h0M201.3 102.0h0M196.7 79.2h0M200.1 70.7h0M219.4 90.5h0M200.3 113.6h0M203.8 89.3h0M208.4 92.7h0M197.8 92.9h0M200.7 112.0h0M197.7 68.1h0M200.3 84.1h0M202.7 85.0h0M196.3 99.2h0M199.8 70.2h0M202.6 91.5h0M218.1 94.3h0M197.1 96.1h0M205.3 88.4h0M197.8 100.8h0M196.8 116.2h0M199.1 81.2h0M201.3 108.5h0M195.9 94.6h0M196.7 88.7h0M195.8 110.3h0M202.7 96.9h0M197.1 71.2h0M202.3 84.8h0M198.9 71.7h0M197.9 93.2h0M216.4 91.3h0M196.6 58.5h0M206.5 97.3h0M196.8 95.2h0M197.5 70.7h0M206.1 89.4h0M202.2 99.2h0M197.1 88.2h0M210.2 97.9h0M198.4 94.0h0M208.0 92.3h0M196.5 58.1h0M197.9 99.3h0M205.3 85.0h0M202.2 96.0h0M207.3 95.0h0M197.4 71.9h0M204.2 91.6h0M207.6 91.1h0M202.5 92.0h0M202.1 93.8h0M198.0 107.3h0M204.1 90.8h0M206.6 92.4h0M200.5 106.9h0M201.9 96.0h0M212.2 96.3h0M196.4 115.9h0M201.0 65.1h0M198.5 78.6h0M196.7 99.8h0M198.1 89.2h0M207.2 92.8h0M196.8 74.4h0M201.6 90.6h0M201.4 96.5h0M197.9 120.4h0M196.0 52.1h0M200.6 84.4h0M200.8 77.1h0M196.2 96.8h0M200.2 102.2h0M199.5 97.0h0M198.9 101.5h0M218.2 98.6h0M210.1 91.4h0M232.8 91.9h0M195.9 99.4h0M195.7 103.6h0M199.3 96.2h0M234.1 100.0h0M206.4 93.5h0M200.8 108.3h0M205.4 91.1h0M199.7 82.1h0M199.3 89.6h0M196.2 106.2h0M196.1 97.2h0M204.3 96.8h0M198.0 82.8h0M196.0 80.0h0M196.1 97.5h0M195.9 92.7h0M208.8 100.6h0M199.2 117.8h0M198.7 62.7h0M198.9 76.9h0M198.7 74.0h0M195.9 80.6h0M199.2 103.4h0M203.4 90.4h0M201.4 92.7h0M195.5 92.8h0M198.6 94.9h0M212.6 94.6h0M203.8 93.2h0M201.2 74.4h0M205.0 91.6h0M205.8 92.8h0M196.9 89.8h0M201.5 89.1h0M213.6 92.8h0M198.3 117.1h0M198.3 59.0h0M197.6 119.1h0M218.6 88.6h0M207.9 94.1h0M198.2 96.3h0M203.1 89.5h0M211.0 91.5h0M214.4 88.8h0M195.8 89.8h0M199.0 113.4h0M212.3 92.2h0M199.2 111.7h0M196.5 83.2h0M203.8 102.6h0M195.8 96.5h0M214.6 92.0h0M204.5 95.2h0M228.0 99.8h0M196.5 117.4h0M201.0 94.1h0M196.8 79.9h0M199.7 76.4h0M200.4 84.6h0M196.6 104.1h0M197.3 87.0h0M195.4 93.6h0M196.6 102.6h0M200.9 71.9h0M196.8 89.7h0M195.5 90.1h0M199.5 76.7h0M198.5 102.1h0M199.5 93.9h0M207.8 98.0h0M200.0 74.2h0M198.0 57.9h0M197.3 83.9h0M209.0 97.1h0M196.1 111.9h0M203.6 92.6h0M198.2 100.7h0M205.5 90.5h0M197.1 103.4h0M208.3 89.5h0M196.6 92.7h0M205.3 82.8h0M197.1 105.1h0M202.6 103.4h0M198.7 96.5h0M199.5 85.5h0M199.4 67.4h0M196.1 83.0h0M226.8 87.7h0M201.3 88.1h0M197.5 120.8h0M197.9 85.7h0M200.0 109.6h0M200.6 94.5h0M202.9 93.7h0M198.5 90.1h0M198.9 119.1h0M220.4 96.1h0M204.4 91.3h0M201.3 87.0h0M200.0 107.7h0M198.2 105.1h0M218.2 95.5h0M197.9 91.1h0M212.4 83.7h0M209.0 100.6h0M196.9 96.8h0M198.1 99.3h0M198.8 66.9h0M196.6 93.4h0M204.3 99.6h0M199.2 101.8h0M198.6 76.2h0M196.4 82.7h0M196.2 90.2h0M199.3 80.5h0M198.3 94.9h0M196.5 90.7h0M205.1 96.6h0M206.3 85.6h0M208.2 94.6h0M200.2 88.5h0M208.3 88.2h0M195.9 53.2h0M205.9 93.8h0M199.6 90.0h0M198.4 82.8h0M211.9 97.0h0M196.2 66.9h0M195.9 95.9h0M203.6 94.5h0M205.0 82.8h0M199.0 67.4h0M199.8 107.8h0M200.2 80.6h0M207.6 99.7h0M201.0 80.2h0M196.0 88.3h0M197.0 101.8h0M210.0 95.0h0M201.0 97.7h0M198.6 93.3h0M195.7 91.1h0M195.6 112.3h0M195.7 55.5h0M200.0 118.6h0M208.6 88.1h0M202.1 91.6h0M196.7 103.9h0M201.7 93.0h0M195.5 82.1h0M206.7 94.6h0M212.3 95.1h0M196.1 81.3h0M197.0 112.7h0M195.4 99.9h0M195.8 85.0h0M198.1 119.6h0M198.9 69.8h0M196.6 82.6h0M204.6 95.3h0M202.2 95.3h0M195.8 102.0h0M197.7 92.6h0M199.4 112.2h0M195.6 79.2h0M198.0 92.4h0M209.8 93.0h0M198.8 79.9h0M202.3 100.8h0M205.3 99.0h0M201.3 90.4h0M206.4 91.2h0M197.4 63.4h0M195.8 71.8h0M195.7 78.7h0M202.1 84.7h0M196.1 84.9h0M196.4 98.1h0M198.1 112.6h0M200.8 80.0h0M202.0 87.7h0M195.8 120.2h0M197.6 71.6h0M196.4 112.1h0M195.7 87.9h0M197.0 62.1h0M195.7 85.1h0M199.9 109.8h0M199.6 87.3h0M199.8 98.0h0M196.9 88.3h0M205.7 86.4h0M198.5 111.8h0M203.6 93.0h0M199.2 103.0h0M198.2 99.3h0M197.2 87.7h0M198.9 96.9h0M195.5 71.8h0M196.2 76.2h0M196.7 99.4h0M197.0 114.7h0M201.2 127.7h0M205.1 94.7h0M196.6 115.3h0M212.2 96.6h0M217.1 94.8h0M228.5 88.3h0M231.3 90.4h0M231.3 93.2h0M224.2 98.8h0M206.6 95.0h0M206.2 96.0h0M206.6 87.7h0M212.0 94.3h0M226.4 84.0h0M211.2 91.6h0M206.3 96.5h0M224.2 93.0h0M213.8 97.1h0M211.9 91.8h0M210.3 101.9h0M208.8 88.9h0M207.7 92.8h0M209.1 90.6h0M243.0 98.6h0M207.6 84.6h0M250.9 98.6h0M209.8 98.7h0M223.6 95.0h0M208.2 92.4h0M208.5 99.5h0M209.7 94.3h0M215.0 91.9h0M212.7 97.7h0M246.1 90.1h0M211.2 94.4h0M220.7 98.4h0M218.1 96.4h0M227.0 97.1h0M263.2 94.0h0M216.7 91.2h0M215.3 93.8h0M211.1 92.5h0M217.5 93.8h0M233.4 91.6h0M227.0 89.3h0M208.9 99.9h0M234.4 93.2h0M251.0 94.5h0M217.0 87.9h0M238.7 89.7h0M209.2 98.9h0M223.9 95.9h0M227.9 100.9h0M206.8 92.2h0M209.5 92.7h0M274.5 95.0h0M249.2 99.7h0M206.9 92.1h0M221.7 97.4h0M232.6 91.2h0M217.3 97.2h0M207.3 85.6h0M205.5 88.1h0M210.0 88.2h0M220.3 101.0h0M219.2 89.7h0M216.2 89.1h0M243.3 96.6h0M240.9 93.9h0M206.4 95.6h0M227.6 90.4h0M206.0 84.9h0M218.8 98.2h0M209.1 98.8h0M208.3 91.7h0M211.3 97.8h0M224.7 90.7h0M207.5 95.1h0M216.0 91.9h0M219.4 90.1h0M213.7 92.9h0M228.0 89.8h0M211.1 97.8h0M209.4 98.3h0M212.5 93.0h0M222.7 98.1h0M210.2 93.9h0M218.6 91.6h0M230.4 93.8h0M214.6 92.1h0M210.5 92.6h0M223.9 103.4h0M206.3 94.6h0M218.9 95.6h0M237.1 88.2h0M216.3 88.6h0M205.9 95.9h0M207.3 90.0h0M237.3 94.7h0M240.0 91.1h0M221.6 98.8h0M211.7 91.0h0M226.6 90.7h0M207.7 99.5h0M215.2 91.9h0M226.5 88.3h0M220.3 94.0h0M251.0 89.0h0M209.5 97.4h0M206.7 97.9h0M205.8 98.9h0M253.5 90.1h0M213.7 102.2h0M227.7 90.9h0M217.4 94.2h0M215.2 92.7h0M210.5 95.5h0M213.8 90.9h0M256.6 89.7h0M216.1 89.1h0M226.2 89.4h0M224.4 90.4h0M211.4 95.9h0M219.4 94.4h0M208.5 100.1h0M206.5 94.7h0M208.6 94.5h0M262.1 88.3h0M210.5 86.4h0M206.7 98.3h0M213.1 100.3h0M206.2 96.5h0M211.9 92.8h0M211.3 86.5h0M207.1 98.8h0M217.6 99.0h0M207.1 98.6h0M210.8 88.7h0M206.5 96.3h0M217.0 95.0h0M209.7 98.4h0M217.6 91.5h0M260.8 95.2h0M213.9 93.8h0M230.2 96.6h0M222.8 96.1h0M211.6 89.0h0M213.4 96.0h0M246.2 91.1h0M230.5 95.5h0M221.0 98.1h0M210.5 92.5h0M230.3 97.4h0M211.6 93.5h0M213.0 89.6h0M210.1 94.9h0M247.0 96.5h0M210.3 89.4h0M213.0 94.3h0M223.5 96.6h0M219.2 93.8h0M210.4 90.9h0M216.2 92.3h0M228.0 91.7h0M235.6 94.0h0M208.6 98.5h0M216.7 93.8h0M207.3 100.8h0M213.4 92.0h0M222.9 97.8h0M206.8 87.8h0M218.2 93.0h0M214.3 93.1h0M217.7 95.2h0M223.1 93.5h0M238.4 96.6h0M256.8 95.8h0M208.5 93.8h0M211.4 93.7h0M213.4 104.6h0M205.7 88.5h0M209.1 96.6h0M221.0 90.3h0M205.7 89.1h0M254.0 92.4h0M216.2 95.7h0M209.1 91.6h0M215.0 95.5h0M215.2 98.1h0M232.0 104.1h0M216.5 91.2h0M225.5 93.4h0M260.3 88.1h0M242.5 94.1h0M217.3 92.8h0M209.4 93.2h0M245.4 95.0h0M209.1 91.8h0M210.6 91.7h0M220.4 91.7h0M245.2 97.5h0M206.4 94.9h0M205.8 86.5h0M220.7 93.1h0M224.8 96.4h0M229.5 99.6h0M207.9 88.8h0M227.6 89.7h0M222.3 92.3h0M217.5 95.5h0M209.9 91.3h0M228.6 89.4h0M206.4 93.3h0M215.5 93.7h0M217.0 93.8h0M210.8 97.3h0M218.3 92.7h0M266.7 97.3h0M209.2 96.4h0M218.1 98.3h0M239.2 95.4h0M212.6 94.8h0M224.6 95.7h0M208.2 93.6h0M230.7 93.4h0M240.5 89.7h0M233.8 94.2h0M210.2 92.2h0M209.9 88.8h0M208.8 98.8h0M244.8 97.5h0M206.0 98.2h0M227.4 94.9h0M221.6 92.4h0M252.6 96.0h0M213.2 94.3h0M213.7 93.4h0M239.3 102.6h0M237.1 88.7h0M246.8 91.7h0M218.6 95.8h0M214.2 90.9h0M222.8 91.9h0M218.7 92.5h0M215.0 93.0h0M236.2 92.8h0M218.2 96.4h0M237.1 95.3h0M237.0 93.6h0M221.1 86.8h0M229.8 91.5h0M231.2 98.3h0M212.3 93.9h0M218.6 93.4h0M231.8 91.7h0M263.0 102.2h0M205.7 96.5h0M230.9 87.8h0M206.2 92.9h0M216.3 87.8h0M206.0 93.0h0M226.4 94.1h0M221.2 96.8h0M223.5 96.3h0M206.1 95.2h0M216.4 89.4h0M213.9 89.9h0M210.4 88.8h0M217.1 94.1h0M211.1 96.1h0M213.4 92.5h0M216.4 92.5h0M209.7 91.8h0M275.5 91.6h0M247.4 91.3h0M209.5 82.5h0M214.7 93.3h0M271.7 88.5h0M271.1 90.2h0M209.6 92.7h0M225.5 90.4h0M239.9 97.1h0M215.8 98.3h0M219.2 91.0h0M230.5 91.0h0M238.8 97.3h0M206.3 91.5h0M217.2 94.5h0M256.6 91.0h0M210.7 96.7h0M216.3 96.0h0M217.2 91.7h0M207.7 88.6h0M234.5 95.2h0M208.4 86.7h0M261.9 92.7h0M206.4 93.6h0M217.9 89.4h0M215.1 97.1h0M214.8 95.1h0M216.7 93.0h0M210.2 91.4h0M237.2 89.9h0M221.1 100.9h0M233.9 89.7h0M229.5 95.5h0M209.4 96.7h0M215.5 97.7h0M213.6 93.6h0M207.1 93.7h0M205.7 98.6h0M211.7 95.8h0M205.9 95.4h0M214.0 100.0h0M268.6 96.5h0M208.1 89.9h0M267.7 90.7h0M218.1 95.1h0M225.7 90.8h0M221.5 94.7h0M218.9 97.3h0M212.6 94.0h0M218.2 96.8h0M208.4 90.4h0M213.6 96.8h0M209.5 93.0h0M210.4 89.4h0M212.8 94.2h0M208.4 96.9h0M237.9 90.2h0M276.0 92.1h0M207.1 89.4h0M206.2 94.3h0M218.2 92.2h0M206.8 94.5h0M208.2 91.8h0M261.3 93.7h0M247.1 95.4h0M222.3 98.4h0M208.0 96.8h0M231.2 95.4h0M220.4 92.0h0M224.8 94.6h0M205.6 90.7h0M208.8 93.0h0M206.2 95.5h0M221.1 87.8h0M206.8 95.8h0M249.4 92.7h0M211.3 96.4h0M228.4 95.6h0M211.5 92.9h0M206.5 93.6h0M214.7 86.3h0M235.7 98.1h0M207.8 96.5h0M211.2 93.6h0M261.6 91.2h0M239.9 88.7h0M216.0 97.4h0M248.6 87.7h0M220.2 98.3h0M217.1 93.0h0M206.6 94.0h0M219.2 88.4h0M245.5 100.4h0M215.1 90.4h0M274.1 95.0h0M207.9 93.5h0M205.9 92.8h0M216.3 96.6h0M221.0 94.0h0M232.5 96.6h0M230.0 93.5h0M218.6 88.6h0M209.4 96.9h0M206.4 89.9h0M213.8 88.6h0M213.2 94.7h0M223.1 87.2h0M257.5 93.0h0M237.1 88.1h0M235.7 94.4h0M215.7 95.2h0M206.9 90.3h0M244.9 93.3h0M211.1 95.7h0M256.2 92.6h0M218.9 94.1h0M214.1 96.4h0M228.1 96.2h0M257.9 90.9h0M214.6 86.8h0M224.3 91.0h0M212.9 99.0h0M236.7 95.0h0M206.3 94.7h0M207.0 88.1h0M206.4 96.1h0M250.0 99.7h0M206.7 90.2h0M211.3 97.6h0M205.9 100.5h0M208.2 93.4h0M233.2 97.0h0M216.8 88.1h0M211.4 95.8h0M229.9 93.1h0M212.2 94.1h0M208.7 96.3h0M206.3 99.7h0M223.8 92.7h0M214.2 97.0h0M249.5 86.7h0M235.1 91.7h0M209.5 96.0h0M228.3 98.2h0M211.1 93.9h0M260.6 96.4h0M217.1 98.7h0M218.7 91.3h0M212.0 96.8h0M223.3 91.5h0M221.4 96.0h0M211.9 92.3h0M216.6 92.7h0M210.6 89.5h0M207.5 90.3h0M221.5 97.4h0M216.0 90.2h0M229.4 86.2h0M224.2 97.1h0M253.6 90.8h0M243.9 94.0h0M208.0 92.1h0M236.4 83.0h0M209.6 103.3h0M234.6 97.7h0M217.3 93.3h0M213.3 98.0h0M229.7 94.4h0M220.2 90.0h0M213.9 93.7h0M206.6 97.5h0M247.8 89.7h0M205.9 91.9h0M206.7 96.8h0M207.6 91.7h0M220.5 101.9h0M267.1 101.0h0M216.9 92.9h0M233.6 94.7h0M240.5 89.0h0M244.4 94.1h0M213.7 100.3h0M212.4 84.4h0M209.0 93.5h0M226.1 92.9h0M221.0 99.3h0M235.5 86.4h0M209.2 87.4h0M237.1 87.9h0M235.0 91.7h0M208.3 89.7h0M215.0 90.2h0M209.2 99.2h0M208.6 88.2h0M205.8 98.5h0M211.1 91.0h0M216.7 103.3h0M211.4 90.2h0M228.6 100.4h0M210.2 89.7h0M205.8 91.7h0M211.2 92.1h0M260.9 94.9h0M219.6 92.6h0M218.1 89.9h0M208.8 96.8h0M233.4 98.0h0M217.7 89.4h0M219.3 102.3h0M213.6 88.9h0M208.0 102.4h0M240.6 94.0h0M216.9 88.4h0M208.2 88.8h0M218.3 99.4h0M270.2 95.5h0M205.7 94.4h0M233.4 99.8h0M205.7 91.8h0M210.7 97.6h0M215.7 86.0h0M205.5 96.5h0M211.0 85.9h0M219.3 91.2h0M207.9 89.4h0M198.1 47.3h0M197.3 41.2h0M301.5 95.4h0M306.1 91.9h0M309.1 89.7h0M312.6 94.5h0M327.2 94.5h0M222.2 81.4h0M241.2 84.9h0M265.0 91.0h0M196.8 130.4h0M196.5 139.1h0M198.7 126.0h0" stroke="#c8c8c8" stroke-width="2.5" stroke-linecap="round" fill="none"/>
<circle class="bd" cx="211.7" cy="107.7" r="1.8"/>
<circle class="bd" cx="214.1" cy="120.8" r="1.8"/>
<circle class="bd" cx="219.9" cy="119.6" r="1.8"/>
<circle class="bd" cx="206.1" cy="120.9" r="1.8"/>
<circle class="bd" cx="201.0" cy="119.7" r="1.8"/>
<circle class="bd" cx="220.9" cy="112.3" r="1.8"/>
<circle class="bd" cx="204.8" cy="99.4" r="1.8"/>
<circle class="bd" cx="220.6" cy="103.9" r="1.8"/>
<circle class="bd" cx="200.5" cy="100.2" r="1.8"/>
<circle class="bd" cx="219.2" cy="114.3" r="1.8"/>
<circle class="bd" cx="203.1" cy="115.1" r="1.8"/>
<circle class="bd" cx="228.8" cy="115.8" r="1.8"/>
<circle class="bd" cx="223.6" cy="109.5" r="1.8"/>
<circle class="bd" cx="232.0" cy="97.8" r="1.8"/>
<circle class="bd" cx="226.3" cy="111.1" r="1.8"/>
<circle class="bd" cx="224.1" cy="103.5" r="1.8"/>
<circle class="bd" cx="227.0" cy="105.6" r="1.8"/>
<circle class="bd" cx="209.4" cy="102.6" r="1.8"/>
<circle class="bd" cx="207.1" cy="101.6" r="1.8"/>
<circle class="bd" cx="232.3" cy="103.3" r="1.8"/>
<circle class="bd" cx="210.7" cy="122.0" r="1.8"/>
<circle class="bd" cx="201.0" cy="102.9" r="1.8"/>
<circle class="bd" cx="201.6" cy="113.2" r="1.8"/>
<circle class="bd" cx="219.0" cy="96.0" r="1.8"/>
<circle class="bd" cx="231.6" cy="109.3" r="1.8"/>
<circle class="bd" cx="217.4" cy="100.0" r="1.8"/>
<circle class="bd" cx="225.9" cy="116.5" r="1.8"/>
<circle class="bd" cx="201.5" cy="109.7" r="1.8"/>
<circle class="bd" cx="206.5" cy="113.6" r="1.8"/>
<circle class="bd" cx="222.9" cy="113.3" r="1.8"/>
<circle class="bd" cx="231.1" cy="106.2" r="1.8"/>
<circle class="bd" cx="208.1" cy="109.2" r="1.8"/>
<circle class="bd" cx="215.2" cy="116.3" r="1.8"/>
<circle class="bd" cx="207.7" cy="123.5" r="1.8"/>
<circle class="bd" cx="217.1" cy="117.5" r="1.8"/>
<circle class="bd" cx="212.7" cy="110.4" r="1.8"/>
<circle class="bd" cx="230.5" cy="95.6" r="1.8"/>
<circle class="bd" cx="212.9" cy="97.7" r="1.8"/>
<circle class="bd" cx="215.2" cy="106.1" r="1.8"/>
<circle class="bd" cx="213.4" cy="114.5" r="1.8"/>
<circle class="bd" cx="224.7" cy="99.2" r="1.8"/>
<circle class="bd" cx="229.2" cy="108.0" r="1.8"/>
<circle class="bd" cx="206.7" cy="97.6" r="1.8"/>
<circle class="bd" cx="225.2" cy="96.6" r="1.8"/>
<circle class="bd" cx="221.8" cy="107.7" r="1.8"/>
<circle class="bd" cx="204.4" cy="109.8" r="1.8"/>
<circle class="bd" cx="203.1" cy="107.0" r="1.8"/>
<circle class="bd" cx="230.3" cy="112.8" r="1.8"/>
<circle class="bd" cx="209.4" cy="111.5" r="1.8"/>
<circle class="bd" cx="203.9" cy="122.8" r="1.8"/>
<circle class="bd" cx="211.7" cy="100.1" r="1.8"/>
<circle class="bd" cx="228.9" cy="103.7" r="1.8"/>
<circle class="bd" cx="222.5" cy="115.6" r="1.8"/>
<circle class="bd" cx="227.1" cy="102.1" r="1.8"/>
<circle class="bd" cx="204.4" cy="102.5" r="1.8"/>
<circle class="bd" cx="219.9" cy="98.1" r="1.8"/>
<circle class="bd" cx="232.6" cy="113.2" r="1.8"/>
<circle class="bd" cx="209.9" cy="105.0" r="1.8"/>
<circle class="bd" cx="206.5" cy="117.9" r="1.8"/>
<circle class="bd" cx="223.1" cy="97.6" r="1.8"/>
<circle class="bd" cx="200.7" cy="117.2" r="1.8"/>
<circle class="bd" cx="200.4" cy="106.8" r="1.8"/>
<circle class="bd" cx="202.6" cy="96.1" r="1.8"/>
<circle class="bd" cx="217.8" cy="106.8" r="1.8"/>
<circle class="bd" cx="209.3" cy="99.3" r="1.8"/>
<circle class="bd" cx="210.5" cy="119.1" r="1.8"/>
<circle class="bd" cx="228.8" cy="99.4" r="1.8"/>
<circle class="bd" cx="203.9" cy="112.6" r="1.8"/>
<circle class="bd" cx="216.1" cy="96.5" r="1.8"/>
<circle class="bd" cx="220.6" cy="109.8" r="1.8"/>
<circle class="bd" cx="222.9" cy="101.5" r="1.8"/>
<circle class="bd" cx="213.1" cy="103.5" r="1.8"/>
<circle class="bd" cx="225.6" cy="108.0" r="1.8"/>
<circle class="bd" cx="216.8" cy="110.7" r="1.8"/>
<circle class="bd" cx="230.0" cy="101.7" r="1.8"/>
<circle class="bd" cx="211.1" cy="95.7" r="1.8"/>
<circle class="bd" cx="210.2" cy="114.6" r="1.8"/>
<circle class="bd" cx="208.8" cy="95.7" r="1.8"/>
<circle class="bd" cx="204.0" cy="119.8" r="1.8"/>
<circle class="bd" cx="222.2" cy="118.0" r="1.8"/>
<circle class="bd" cx="215.5" cy="122.7" r="1.8"/>
<circle class="bd" cx="217.2" cy="104.4" r="1.8"/>
<circle class="bd" cx="215.0" cy="108.6" r="1.8"/>
<circle class="bd" cx="215.1" cy="102.4" r="1.8"/>
<circle class="bd" cx="208.6" cy="120.5" r="1.8"/>
<circle class="bd" cx="213.5" cy="118.2" r="1.8"/>
<circle class="bd" cx="223.9" cy="106.0" r="1.8"/>
<circle class="bd" cx="208.3" cy="106.8" r="1.8"/>
<circle class="bd" cx="217.3" cy="120.1" r="1.8"/>
<circle class="bd" cx="215.4" cy="98.7" r="1.8"/>
<circle class="bd" cx="218.8" cy="101.8" r="1.8"/>
<circle class="bd" cx="213.1" cy="123.1" r="1.8"/>
<circle class="bd" cx="202.3" cy="98.8" r="1.8"/>
<circle class="bd" cx="217.0" cy="113.2" r="1.8"/>
<circle class="bd" cx="206.8" cy="105.1" r="1.8"/>
<circle class="bd" cx="233.3" cy="107.4" r="1.8"/>
<circle class="bd" cx="226.9" cy="113.8" r="1.8"/>
<circle class="bd" cx="221.4" cy="95.6" r="1.8"/>
<circle class="bd" cx="220.0" cy="117.3" r="1.8"/>
<circle class="bd" cx="208.5" cy="116.8" r="1.8"/>
<circle class="bd" cx="228.6" cy="96.8" r="1.8"/>
<circle class="bd" cx="228.6" cy="110.6" r="1.8"/>
<circle class="bd" cx="214.8" cy="112.2" r="1.8"/>
<circle class="bd" cx="211.7" cy="116.9" r="1.8"/>
<circle class="bd" cx="220.8" cy="100.5" r="1.8"/>
<circle class="bd" cx="204.8" cy="95.9" r="1.8"/>
<circle class="bd" cx="205.5" cy="107.8" r="1.8"/>
<circle class="bd" cx="199.6" cy="111.3" r="1.8"/>
<circle class="bd" cx="202.7" cy="104.4" r="1.8"/>
<circle class="bd" cx="201.6" cy="122.5" r="1.8"/>
<circle class="bd" cx="211.8" cy="112.5" r="1.8"/>
<circle class="bd" cx="232.2" cy="100.9" r="1.8"/>
<circle class="bd" cx="203.6" cy="117.3" r="1.8"/>
<circle class="bd" cx="233.3" cy="95.7" r="1.8"/>
<circle class="bd" cx="199.9" cy="114.9" r="1.8"/>
<circle class="bd" cx="238.3" cy="106.8" r="1.8"/>
<circle class="bd" cx="262.6" cy="110.2" r="1.8"/>
<circle class="bd" cx="275.1" cy="96.1" r="1.8"/>
<circle class="bd" cx="236.2" cy="98.1" r="1.8"/>
<circle class="bd" cx="239.4" cy="117.0" r="1.8"/>
<circle class="bd" cx="241.9" cy="110.8" r="1.8"/>
<circle class="bd" cx="247.0" cy="121.1" r="1.8"/>
<circle class="bd" cx="261.1" cy="98.5" r="1.8"/>
<circle class="bd" cx="253.6" cy="109.6" r="1.8"/>
<circle class="bd" cx="234.4" cy="120.9" r="1.8"/>
<circle class="bd" cx="243.9" cy="121.5" r="1.8"/>
<circle class="bd" cx="247.7" cy="95.9" r="1.8"/>
<circle class="bd" cx="240.7" cy="120.3" r="1.8"/>
<circle class="bd" cx="239.3" cy="95.9" r="1.8"/>
<circle class="bd" cx="256.1" cy="117.8" r="1.8"/>
<circle class="bd" cx="232.0" cy="118.0" r="1.8"/>
<circle class="bd" cx="279.6" cy="97.6" r="1.8"/>
<circle class="bd" cx="251.5" cy="119.3" r="1.8"/>
<circle class="bd" cx="236.0" cy="111.5" r="1.8"/>
<circle class="bd" cx="235.7" cy="118.1" r="1.8"/>
<circle class="bd" cx="247.8" cy="115.1" r="1.8"/>
<circle class="bd" cx="241.2" cy="100.4" r="1.8"/>
<circle class="bd" cx="240.8" cy="103.6" r="1.8"/>
<circle class="bd" cx="244.9" cy="113.4" r="1.8"/>
<circle class="bd" cx="253.8" cy="97.1" r="1.8"/>
<circle class="bd" cx="270.7" cy="120.2" r="1.8"/>
<circle class="bd" cx="238.0" cy="101.3" r="1.8"/>
<circle class="bd" cx="251.3" cy="116.0" r="1.8"/>
<circle class="bd" cx="238.7" cy="113.3" r="1.8"/>
<circle class="bd" cx="264.0" cy="121.6" r="1.8"/>
<circle class="bd" cx="248.1" cy="108.6" r="1.8"/>
<circle class="bd" cx="243.0" cy="107.3" r="1.8"/>
<circle class="bd" cx="250.9" cy="102.8" r="1.8"/>
<circle class="bd" cx="279.6" cy="118.0" r="1.8"/>
<circle class="bd" cx="248.1" cy="100.6" r="1.8"/>
<circle class="bd" cx="256.3" cy="112.2" r="1.8"/>
<circle class="bd" cx="244.7" cy="96.8" r="1.8"/>
<circle class="bd" cx="262.1" cy="101.5" r="1.8"/>
<circle class="bd" cx="256.7" cy="98.6" r="1.8"/>
<circle class="bd" cx="265.6" cy="107.9" r="1.8"/>
<circle class="bd" cx="270.5" cy="104.6" r="1.8"/>
<circle class="bd" cx="277.1" cy="103.5" r="1.8"/>
<circle class="bd" cx="235.6" cy="104.7" r="1.8"/>
<circle class="bd" cx="255.0" cy="102.7" r="1.8"/>
<circle class="bd" cx="268.3" cy="99.4" r="1.8"/>
<circle class="bd" cx="261.5" cy="114.9" r="1.8"/>
<circle class="bd" cx="250.9" cy="96.2" r="1.8"/>
<circle class="bd" cx="250.4" cy="111.9" r="1.8"/>
<circle class="bd" cx="202.3" cy="126.2" r="1.8"/>
<circle class="bd" cx="217.5" cy="127.6" r="1.8"/>
<circle class="bd" cx="222.5" cy="125.6" r="1.8"/>
<circle class="bd" cx="210.0" cy="126.7" r="1.8"/>
<circle class="bd" cx="198.9" cy="141.7" r="1.8"/>
<circle class="bd" cx="202.5" cy="143.5" r="1.8"/>
<circle class="bd" cx="208.7" cy="154.9" r="1.8"/>
<circle class="bd" cx="219.5" cy="133.0" r="1.8"/>
<circle class="bd" cx="221.1" cy="126.0" r="1.8"/>
<circle class="bd" cx="285.3" cy="127.7" r="1.8"/>
<circle class="bd" cx="306.9" cy="102.4" r="1.8"/>
<circle class="bd" cx="244.7" cy="121.6" r="1.8"/>
<circle class="bd" cx="254.7" cy="121.6" r="1.8"/>
<circle class="bd" cx="261.7" cy="118.1" r="1.8"/>
<circle class="bd" cx="270.4" cy="117.3" r="1.8"/>
<circle class="bd" cx="276.6" cy="111.1" r="1.8"/>
<circle class="bd" cx="206.3" cy="129.5" r="1.8"/>
<circle class="bd" cx="207.9" cy="127.7" r="1.8"/>
<circle class="bd" cx="212.2" cy="126.0" r="1.8"/>
<circle class="bd" cx="214.1" cy="124.2" r="1.8"/>
<circle class="rd" cx="198.9" cy="38.6" r="1.72"/>
<circle class="rd" cx="199.5" cy="53.4" r="1.72"/>
<circle class="rd" cx="199.5" cy="58.7" r="1.72"/>
<circle class="rd" cx="200.3" cy="62.2" r="1.72"/>
<circle class="rd" cx="204.4" cy="61.3" r="1.72"/>
<circle class="rd" cx="200.0" cy="65.7" r="1.72"/>
<circle class="rd" cx="200.6" cy="68.3" r="1.72"/>
<circle class="rd" cx="201.4" cy="70.0" r="1.72"/>
<circle class="rd" cx="202.5" cy="72.7" r="1.72"/>
<circle class="rd" cx="204.1" cy="70.9" r="1.72"/>
<circle class="rd" cx="209.0" cy="70.9" r="1.72"/>
<circle class="rd" cx="201.9" cy="71.3" r="1.72"/>
<circle class="rd" cx="201.1" cy="66.5" r="1.72"/>
<circle class="rd" cx="203.3" cy="69.2" r="1.72"/>
<circle class="rd" cx="200.0" cy="69.2" r="1.72"/>
<rect x="189.20" y="16.70" width="162.40" height="139.90" fill="none" stroke="#808080" stroke-width="1.0"/>
<text x="182.70" y="159.20" font-size="7.3" text-anchor="end" fill="#222" stroke="#222" stroke-width="0.18">-8</text>
<text x="182.70" y="141.71" font-size="7.3" text-anchor="end" fill="#222" stroke="#222" stroke-width="0.18">-6</text>
<text x="182.70" y="124.23" font-size="7.3" text-anchor="end" fill="#222" stroke="#222" stroke-width="0.18">-4</text>
<text x="182.70" y="106.74" font-size="7.3" text-anchor="end" fill="#222" stroke="#222" stroke-width="0.18">-2</text>
<text x="182.70" y="89.25" font-size="7.3" text-anchor="end" fill="#222" stroke="#222" stroke-width="0.18">0</text>
<text x="182.70" y="71.76" font-size="7.3" text-anchor="end" fill="#222" stroke="#222" stroke-width="0.18">2</text>
<text x="182.70" y="54.27" font-size="7.3" text-anchor="end" fill="#222" stroke="#222" stroke-width="0.18">4</text>
<text x="182.70" y="36.79" font-size="7.3" text-anchor="end" fill="#222" stroke="#222" stroke-width="0.18">6</text>
<text x="182.70" y="19.30" font-size="7.3" text-anchor="end" fill="#222" stroke="#222" stroke-width="0.18">8</text>
<text x="189.20" y="168.20" font-size="7.4" text-anchor="middle" fill="#222" stroke="#222" stroke-width="0.18">0</text>
<text x="216.27" y="168.20" font-size="7.4" text-anchor="middle" fill="#222" stroke="#222" stroke-width="0.18">10</text>
<text x="243.33" y="168.20" font-size="7.4" text-anchor="middle" fill="#222" stroke="#222" stroke-width="0.18">20</text>
<text x="270.40" y="168.20" font-size="7.4" text-anchor="middle" fill="#222" stroke="#222" stroke-width="0.18">30</text>
<text x="297.47" y="168.20" font-size="7.4" text-anchor="middle" fill="#222" stroke="#222" stroke-width="0.18">40</text>
<text x="324.53" y="168.20" font-size="7.4" text-anchor="middle" fill="#222" stroke="#222" stroke-width="0.18">50</text>
<text x="351.60" y="168.20" font-size="7.4" text-anchor="middle" fill="#222" stroke="#222" stroke-width="0.18">60</text>
<text x="270.30" y="178.60" font-size="7.36" font-weight="bold" text-anchor="middle" fill="#222" stroke="#222" stroke-width="0.18">p53 CHIP-seq signal vs background</text>
<text transform="translate(172.80,86.20) rotate(-90)" x="0" y="0" font-size="7.4" font-weight="bold" text-anchor="middle" fill="#222" stroke="#222" stroke-width="0.18">DAXX KO / WT signal ratio</text>
<rect x="254.40" y="24.20" width="92.30" height="31.50" fill="#fff" stroke="#333" stroke-width="0.8"/>
<circle cx="262.30" cy="29.60" r="1.3" fill="#c8c8c8" stroke="none" stroke-width="0.5"/>
<circle cx="262.30" cy="40.00" r="1.75" fill="#C00000" stroke="#300000" stroke-width="0.45"/>
<circle cx="262.30" cy="50.50" r="1.75" fill="#1F77C8" stroke="#102030" stroke-width="0.45"/>
<text x="266.10" y="32.20" font-size="7.4" fill="#222" stroke="#222" stroke-width="0.18">no change</text>
<text x="266.10" y="42.60" font-size="7.4" fill="#222" stroke="#222" stroke-width="0.18">upregulated (n=15)</text>
<text x="266.10" y="53.10" font-size="7.4" fill="#222" stroke="#222" stroke-width="0.18">downregulated (n=668)</text>
<line x1="397.60" y1="140.52" x2="506.20" y2="140.52" stroke="#d9d9d9" stroke-width="0.6" stroke-dasharray="2,1.6"/>
<line x1="397.60" y1="117.74" x2="506.20" y2="117.74" stroke="#d9d9d9" stroke-width="0.6" stroke-dasharray="2,1.6"/>
<line x1="397.60" y1="94.96" x2="506.20" y2="94.96" stroke="#d9d9d9" stroke-width="0.6" stroke-dasharray="2,1.6"/>
<line x1="397.60" y1="72.18" x2="506.20" y2="72.18" stroke="#d9d9d9" stroke-width="0.6" stroke-dasharray="2,1.6"/>
<line x1="397.60" y1="49.40" x2="506.20" y2="49.40" stroke="#d9d9d9" stroke-width="0.6" stroke-dasharray="2,1.6"/>
<line x1="397.60" y1="26.62" x2="506.20" y2="26.62" stroke="#d9d9d9" stroke-width="0.6" stroke-dasharray="2,1.6"/>
<text x="391.20" y="165.90" font-size="7.4" text-anchor="end" fill="#222" stroke="#222" stroke-width="0.18">0</text>
<text x="391.20" y="143.12" font-size="7.4" text-anchor="end" fill="#222" stroke="#222" stroke-width="0.18">1</text>
<text x="391.20" y="120.34" font-size="7.4" text-anchor="end" fill="#222" stroke="#222" stroke-width="0.18">2</text>
<text x="391.20" y="97.56" font-size="7.4" text-anchor="end" fill="#222" stroke="#222" stroke-width="0.18">3</text>
<text x="391.20" y="74.78" font-size="7.4" text-anchor="end" fill="#222" stroke="#222" stroke-width="0.18">4</text>
<text x="391.20" y="52.00" font-size="7.4" text-anchor="end" fill="#222" stroke="#222" stroke-width="0.18">5</text>
<text x="391.20" y="29.22" font-size="7.4" text-anchor="end" fill="#222" stroke="#222" stroke-width="0.18">6</text>
<path d="M397.60,153.71 L398.05,153.70 L398.50,153.68 L398.96,153.67 L399.41,153.65 L399.86,153.63 L400.31,153.61 L400.77,153.58 L401.22,153.56 L401.67,153.53 L402.12,153.51 L402.58,153.48 L403.03,153.45 L403.48,153.42 L403.94,153.38 L404.39,153.35 L404.84,153.32 L405.29,153.28 L405.75,153.24 L406.20,153.20 L406.65,153.16 L407.10,153.12 L407.56,153.07 L408.01,153.02 L408.46,152.98 L408.91,152.92 L409.37,152.87 L409.82,152.82 L410.27,152.76 L410.72,152.70 L411.18,152.64 L411.63,152.57 L412.08,152.50 L412.53,152.43 L412.99,152.36 L413.44,152.28 L413.89,152.20 L414.34,152.12 L414.80,152.03 L415.25,151.94 L415.70,151.85 L416.15,151.75 L416.61,151.65 L417.06,151.54 L417.51,151.43 L417.96,151.31 L418.42,151.19 L418.87,151.07 L419.32,150.93 L419.77,150.80 L420.23,150.66 L420.68,150.51 L421.13,150.35 L421.58,150.19 L422.04,150.02 L422.49,149.85 L422.94,149.67 L423.39,149.48 L423.85,149.28 L424.30,149.07 L424.75,148.86 L425.20,148.63 L425.66,148.40 L426.11,148.15 L426.56,147.89 L427.01,147.60 L427.47,147.27 L427.92,146.90 L428.37,146.47 L428.82,145.95 L429.28,145.33 L429.73,144.59 L430.18,143.71 L430.63,142.66 L431.09,141.44 L431.54,140.04 L431.99,138.48 L432.44,136.76 L432.89,134.91 L433.35,132.94 L433.80,130.90 L434.25,128.79 L434.71,126.64 L435.16,124.47 L435.61,122.29 L436.06,120.11 L436.51,117.94 L436.97,115.78 L437.42,113.63 L437.87,111.51 L438.32,109.39 L438.78,107.30 L439.23,105.22 L439.68,103.17 L440.13,101.13 L440.59,99.11 L441.04,97.11 L441.49,95.14 L441.94,93.18 L442.40,91.25 L442.85,89.34 L443.30,87.46 L443.75,85.60 L444.21,83.77 L444.66,81.96 L445.11,80.19 L445.56,78.44 L446.02,76.73 L446.47,75.06 L446.92,73.43 L447.38,71.84 L447.83,70.32 L448.28,68.86 L448.73,67.49 L449.19,66.22 L449.64,65.08 L450.09,64.09 L450.54,63.27 L451.00,62.64 L451.45,62.24 L451.90,62.07 L452.35,62.13 L452.81,62.44 L453.26,62.97 L453.71,63.70 L454.16,64.62 L454.62,65.70 L455.07,66.92 L455.52,68.25 L455.97,69.67 L456.43,71.16 L456.88,72.72 L457.33,74.33 L457.78,75.99 L458.24,77.68 L458.69,79.41 L459.14,81.17 L459.59,82.97 L460.05,84.79 L460.50,86.63 L460.95,88.51 L461.40,90.40 L461.86,92.33 L462.31,94.27 L462.76,96.24 L463.21,98.23 L463.67,100.24 L464.12,102.26 L464.57,104.31 L465.02,106.38 L465.48,108.47 L465.93,110.57 L466.38,112.69 L466.83,114.83 L467.28,116.98 L467.74,119.15 L468.19,121.33 L468.64,123.51 L469.10,125.68 L469.55,127.84 L470.00,129.97 L470.45,132.04 L470.90,134.04 L471.36,135.94 L471.81,137.72 L472.26,139.35 L472.72,140.82 L473.17,142.12 L473.62,143.25 L474.07,144.20 L474.52,145.01 L474.98,145.68 L475.43,146.24 L475.88,146.71 L476.33,147.11 L476.79,147.45 L477.24,147.76 L477.69,148.04 L478.14,148.29 L478.60,148.53 L479.05,148.76 L479.50,148.98 L479.95,149.19 L480.41,149.39 L480.86,149.58 L481.31,149.77 L481.76,149.95 L482.22,150.12 L482.67,150.28 L483.12,150.44 L483.57,150.59 L484.03,150.74 L484.48,150.87 L484.93,151.01 L485.38,151.14 L485.84,151.26 L486.29,151.38 L486.74,151.49 L487.19,151.60 L487.65,151.70 L488.10,151.80 L488.55,151.90 L489.00,151.99 L489.46,152.08 L489.91,152.17 L490.36,152.25 L490.81,152.33 L491.27,152.40 L491.72,152.47 L492.17,152.54 L492.62,152.61 L493.08,152.67 L493.53,152.73 L493.98,152.79 L494.44,152.85 L494.89,152.90 L495.34,152.95 L495.79,153.00 L496.25,153.05 L496.70,153.10 L497.15,153.14 L497.60,153.18 L498.06,153.22 L498.51,153.26 L498.96,153.30 L499.41,153.34 L499.87,153.37 L500.32,153.40 L500.77,153.43 L501.22,153.46 L501.68,153.49 L502.13,153.52 L502.58,153.55 L503.03,153.57 L503.49,153.60 L503.94,153.62 L504.39,153.64 L504.84,153.66 L505.29,153.67 L505.75,153.69 L506.20,153.70" fill="none" stroke="#FFC000" stroke-width="1.9" stroke-linejoin="round"/>
<path d="M397.60,154.86 L398.05,154.86 L398.50,154.85 L398.96,154.85 L399.41,154.85 L399.86,154.84 L400.31,154.84 L400.77,154.83 L401.22,154.83 L401.67,154.82 L402.12,154.82 L402.58,154.81 L403.03,154.81 L403.48,154.80 L403.94,154.80 L404.39,154.79 L404.84,154.79 L405.29,154.78 L405.75,154.78 L406.20,154.77 L406.65,154.76 L407.10,154.76 L407.56,154.75 L408.01,154.75 L408.46,154.74 L408.91,154.73 L409.37,154.73 L409.82,154.72 L410.27,154.71 L410.72,154.70 L411.18,154.70 L411.63,154.69 L412.08,154.68 L412.53,154.67 L412.99,154.67 L413.44,154.66 L413.89,154.65 L414.34,154.64 L414.80,154.63 L415.25,154.63 L415.70,154.62 L416.15,154.61 L416.61,154.60 L417.06,154.59 L417.51,154.58 L417.96,154.57 L418.42,154.56 L418.87,154.55 L419.32,154.54 L419.77,154.53 L420.23,154.51 L420.68,154.50 L421.13,154.49 L421.58,154.48 L422.04,154.46 L422.49,154.45 L422.94,154.43 L423.39,154.41 L423.85,154.39 L424.30,154.37 L424.75,154.35 L425.20,154.33 L425.66,154.30 L426.11,154.27 L426.56,154.24 L427.01,154.21 L427.47,154.17 L427.92,154.12 L428.37,154.07 L428.82,154.02 L429.28,153.96 L429.73,153.90 L430.18,153.82 L430.63,153.74 L431.09,153.65 L431.54,153.55 L431.99,153.43 L432.44,153.31 L432.89,153.17 L433.35,153.02 L433.80,152.86 L434.25,152.68 L434.71,152.48 L435.16,152.27 L435.61,152.03 L436.06,151.78 L436.51,151.51 L436.97,151.21 L437.42,150.90 L437.87,150.57 L438.32,150.21 L438.78,149.83 L439.23,149.44 L439.68,149.02 L440.13,148.58 L440.59,148.12 L441.04,147.65 L441.49,147.16 L441.94,146.66 L442.40,146.14 L442.85,145.62 L443.30,145.09 L443.75,144.55 L444.21,144.02 L444.66,143.48 L445.11,142.95 L445.56,142.43 L446.02,141.92 L446.47,141.43 L446.92,140.96 L447.38,140.51 L447.83,140.09 L448.28,139.70 L448.73,139.34 L449.19,139.02 L449.64,138.74 L450.09,138.50 L450.54,138.31 L451.00,138.17 L451.45,138.08 L451.90,138.04 L452.35,138.06 L452.81,138.13 L453.26,138.24 L453.71,138.41 L454.16,138.63 L454.62,138.89 L455.07,139.19 L455.52,139.53 L455.97,139.91 L456.43,140.32 L456.88,140.76 L457.33,141.22 L457.78,141.70 L458.24,142.21 L458.69,142.72 L459.14,143.25 L459.59,143.78 L460.05,144.32 L460.50,144.85 L460.95,145.38 L461.40,145.91 L461.86,146.43 L462.31,146.94 L462.76,147.44 L463.21,147.92 L463.67,148.38 L464.12,148.83 L464.57,149.25 L465.02,149.66 L465.48,150.05 L465.93,150.41 L466.38,150.76 L466.83,151.08 L467.28,151.38 L467.74,151.66 L468.19,151.92 L468.64,152.16 L469.10,152.39 L469.55,152.59 L470.00,152.78 L470.45,152.95 L470.90,153.11 L471.36,153.25 L471.81,153.38 L472.26,153.50 L472.72,153.60 L473.17,153.70 L473.62,153.79 L474.07,153.86 L474.52,153.93 L474.98,154.00 L475.43,154.05 L475.88,154.10 L476.33,154.15 L476.79,154.19 L477.24,154.23 L477.69,154.26 L478.14,154.29 L478.60,154.32 L479.05,154.34 L479.50,154.36 L479.95,154.39 L480.41,154.40 L480.86,154.42 L481.31,154.44 L481.76,154.45 L482.22,154.47 L482.67,154.48 L483.12,154.50 L483.57,154.51 L484.03,154.52 L484.48,154.53 L484.93,154.54 L485.38,154.55 L485.84,154.57 L486.29,154.58 L486.74,154.59 L487.19,154.59 L487.65,154.60 L488.10,154.61 L488.55,154.62 L489.00,154.63 L489.46,154.64 L489.91,154.65 L490.36,154.66 L490.81,154.66 L491.27,154.67 L491.72,154.68 L492.17,154.69 L492.62,154.69 L493.08,154.70 L493.53,154.71 L493.98,154.72 L494.44,154.72 L494.89,154.73 L495.34,154.74 L495.79,154.74 L496.25,154.75 L496.70,154.76 L497.15,154.76 L497.60,154.77 L498.06,154.77 L498.51,154.78 L498.96,154.78 L499.41,154.79 L499.87,154.80 L500.32,154.80 L500.77,154.81 L501.22,154.81 L501.68,154.82 L502.13,154.82 L502.58,154.83 L503.03,154.83 L503.49,154.84 L503.94,154.84 L504.39,154.84 L504.84,154.85 L505.29,154.85 L505.75,154.85 L506.20,154.86" fill="none" stroke="#7030A0" stroke-width="1.9" stroke-linejoin="round"/>
<line x1="397.60" y1="163.60" x2="506.20" y2="163.60" stroke="#222" stroke-width="1.0"/>
<line x1="397.60" y1="163.60" x2="397.60" y2="166.30" stroke="#222" stroke-width="0.9"/>
<line x1="451.90" y1="163.60" x2="451.90" y2="166.30" stroke="#222" stroke-width="0.9"/>
<line x1="506.20" y1="163.60" x2="506.20" y2="166.30" stroke="#222" stroke-width="0.9"/>
<text x="403.60" y="174.60" font-size="7.4" font-weight="bold" text-anchor="middle" fill="#222" stroke="#222" stroke-width="0.18">-500bp</text>
<text x="506.90" y="174.60" font-size="7.4" font-weight="bold" text-anchor="middle" fill="#222" stroke="#222" stroke-width="0.18">500bp</text>
<text transform="translate(377.80,95.10) rotate(-90)" x="0" y="0" font-size="7.5" font-weight="bold" text-anchor="middle" fill="#222" stroke="#222" stroke-width="0.18">p53 signal</text>
<rect x="433.90" y="21.60" width="70.80" height="31.00" fill="#fff" stroke="#555" stroke-width="0.8"/>
<line x1="440.70" y1="29.60" x2="458.10" y2="29.60" stroke="#FFC000" stroke-width="1.9"/>
<line x1="440.70" y1="45.00" x2="458.10" y2="45.00" stroke="#7030A0" stroke-width="1.9"/>
<text x="459.90" y="32.30" font-size="8.2" font-weight="bold" fill="#222" stroke="#222" stroke-width="0.18">DAXX_WT</text>
<text x="459.90" y="47.60" font-size="8.2" font-weight="bold" fill="#222" stroke="#222" stroke-width="0.18">DAXX_KO</text>
<line x1="546.30" y1="160.00" x2="680.00" y2="160.00" stroke="#cfcfcf" stroke-width="0.7" stroke-dasharray="1.6,1.6"/>
<line x1="544.70" y1="160.00" x2="548.70" y2="160.00" stroke="#666" stroke-width="0.8"/>
<text x="541.90" y="162.60" font-size="7.3" text-anchor="end" fill="#222" stroke="#222" stroke-width="0.18">0</text>
<line x1="546.30" y1="140.83" x2="680.00" y2="140.83" stroke="#cfcfcf" stroke-width="0.7" stroke-dasharray="1.6,1.6"/>
<line x1="544.70" y1="140.83" x2="548.70" y2="140.83" stroke="#666" stroke-width="0.8"/>
<text x="541.90" y="143.43" font-size="7.3" text-anchor="end" fill="#222" stroke="#222" stroke-width="0.18">1</text>
<line x1="546.30" y1="121.66" x2="680.00" y2="121.66" stroke="#cfcfcf" stroke-width="0.7" stroke-dasharray="1.6,1.6"/>
<line x1="544.70" y1="121.66" x2="548.70" y2="121.66" stroke="#666" stroke-width="0.8"/>
<text x="541.90" y="124.26" font-size="7.3" text-anchor="end" fill="#222" stroke="#222" stroke-width="0.18">2</text>
<line x1="546.30" y1="102.49" x2="680.00" y2="102.49" stroke="#cfcfcf" stroke-width="0.7" stroke-dasharray="1.6,1.6"/>
<line x1="544.70" y1="102.49" x2="548.70" y2="102.49" stroke="#666" stroke-width="0.8"/>
<text x="541.90" y="105.09" font-size="7.3" text-anchor="end" fill="#222" stroke="#222" stroke-width="0.18">3</text>
<line x1="546.30" y1="83.32" x2="680.00" y2="83.32" stroke="#cfcfcf" stroke-width="0.7" stroke-dasharray="1.6,1.6"/>
<line x1="544.70" y1="83.32" x2="548.70" y2="83.32" stroke="#666" stroke-width="0.8"/>
<text x="541.90" y="85.92" font-size="7.3" text-anchor="end" fill="#222" stroke="#222" stroke-width="0.18">4</text>
<line x1="546.30" y1="64.15" x2="680.00" y2="64.15" stroke="#cfcfcf" stroke-width="0.7" stroke-dasharray="1.6,1.6"/>
<line x1="544.70" y1="64.15" x2="548.70" y2="64.15" stroke="#666" stroke-width="0.8"/>
<text x="541.90" y="66.75" font-size="7.3" text-anchor="end" fill="#222" stroke="#222" stroke-width="0.18">5</text>
<line x1="546.30" y1="44.98" x2="680.00" y2="44.98" stroke="#cfcfcf" stroke-width="0.7" stroke-dasharray="1.6,1.6"/>
<line x1="544.70" y1="44.98" x2="548.70" y2="44.98" stroke="#666" stroke-width="0.8"/>
<text x="541.90" y="47.58" font-size="7.3" text-anchor="end" fill="#222" stroke="#222" stroke-width="0.18">6</text>
<line x1="546.30" y1="25.81" x2="680.00" y2="25.81" stroke="#cfcfcf" stroke-width="0.7" stroke-dasharray="1.6,1.6"/>
<line x1="544.70" y1="25.81" x2="548.70" y2="25.81" stroke="#666" stroke-width="0.8"/>
<text x="541.90" y="28.41" font-size="7.3" text-anchor="end" fill="#222" stroke="#222" stroke-width="0.18">7</text>
<line x1="546.60" y1="25.81" x2="546.60" y2="160.00" stroke="#707070" stroke-width="1.0"/>
<line x1="595.40" y1="37.31" x2="595.40" y2="158.66" stroke="#444" stroke-width="0.8"/>
<line x1="590.50" y1="37.31" x2="600.00" y2="37.31" stroke="#444" stroke-width="0.8"/>
<line x1="590.50" y1="158.66" x2="600.00" y2="158.66" stroke="#444" stroke-width="0.8"/>
<rect x="580.30" y="90.99" width="30.30" height="36.42" fill="#FFC000" stroke="#444" stroke-width="0.8"/>
<line x1="580.30" y1="112.07" x2="610.60" y2="112.07" stroke="#333" stroke-width="0.9"/>
<line x1="629.30" y1="108.62" x2="629.30" y2="159.62" stroke="#444" stroke-width="0.8"/>
<line x1="624.60" y1="108.62" x2="634.00" y2="108.62" stroke="#444" stroke-width="0.8"/>
<line x1="624.60" y1="159.62" x2="634.00" y2="159.62" stroke="#444" stroke-width="0.8"/>
<rect x="614.10" y="133.55" width="30.40" height="16.87" fill="#7030A0" stroke="#444" stroke-width="0.8"/>
<line x1="614.10" y1="144.28" x2="644.50" y2="144.28" stroke="#333" stroke-width="0.9"/>
<text transform="translate(531.60,93.20) rotate(-90)" x="0" y="0" font-size="7.45" font-weight="bold" text-anchor="middle" fill="#222" stroke="#222" stroke-width="0.18">p53 signal</text>
<rect x="607.60" y="25.50" width="62.10" height="32.20" fill="#fff" stroke="#444" stroke-width="0.9"/>
<rect x="615.20" y="30.70" width="6.30" height="6.80" fill="#FFC000" stroke="#333" stroke-width="0.7"/>
<rect x="615.20" y="44.50" width="6.30" height="6.60" fill="#7030A0" stroke="#333" stroke-width="0.7"/>
<text x="625.10" y="37.20" font-size="8.4" font-weight="bold" fill="#222" stroke="#222" stroke-width="0.18">DAXX_WT</text>
<text x="625.10" y="50.80" font-size="8.4" font-weight="bold" fill="#222" stroke="#222" stroke-width="0.18">DAXX_KO</text>
<line x1="80.70" y1="230.70" x2="80.70" y2="299.50" stroke="#f4a8a8" stroke-width="0.9"/>
<text x="79.70" y="240.00" font-size="7.8" text-anchor="end" fill="#222" stroke="#222" stroke-width="0.28">Scale</text>
<text x="79.70" y="249.90" font-size="7.8" text-anchor="end" fill="#222" stroke="#222" stroke-width="0.28">chr6:</text>
<text x="79.20" y="257.80" font-size="6.4" text-anchor="end" fill="#222" stroke="#222" stroke-width="0.28">10.4</text>
<text x="79.20" y="275.30" font-size="6.4" text-anchor="end" fill="#222" stroke="#222" stroke-width="0.28">10.4</text>
<text x="19.60" y="270.00" font-size="8.3" fill="#5454cc" stroke="#5454cc" stroke-width="0.28">p53 (control)</text>
<text x="19.60" y="288.50" font-size="8.3" fill="#c25a5a" stroke="#c25a5a" stroke-width="0.28">p53 (Daxx KO)</text>
<text x="80.60" y="297.80" font-size="7.9" font-weight="bold" text-anchor="end" fill="#14149a" stroke="#14149a" stroke-width="0.28">CDKN1A</text>
<text x="261.20" y="232.20" font-size="11.2" font-weight="bold" text-anchor="middle" fill="#111" stroke="#111" stroke-width="0.18">CDKN1A</text>
<text x="182.60" y="238.70" font-size="7.4" fill="#222" stroke="#222" stroke-width="0.28">5 kb</text>
<line x1="198.40" y1="236.40" x2="321.20" y2="236.40" stroke="#444" stroke-width="0.9"/>
<line x1="198.40" y1="233.40" x2="198.40" y2="240.20" stroke="#444" stroke-width="0.9"/>
<line x1="321.20" y1="233.40" x2="321.20" y2="240.20" stroke="#444" stroke-width="0.9"/>
<text x="326.80" y="237.40" font-size="7.4" fill="#222" stroke="#222" stroke-width="0.28">hg19</text>
<text x="143.90" y="249.80" font-size="7.9" text-anchor="end" fill="#222" stroke="#222" stroke-width="0.28">36,645,000</text>
<line x1="145.20" y1="243.50" x2="145.20" y2="250.80" stroke="#222" stroke-width="0.8"/>
<text x="267.10" y="249.80" font-size="7.9" text-anchor="end" fill="#222" stroke="#222" stroke-width="0.28">36,650,000</text>
<line x1="268.40" y1="243.50" x2="268.40" y2="250.80" stroke="#222" stroke-width="0.8"/>
<text x="389.00" y="249.80" font-size="7.9" text-anchor="end" fill="#222" stroke="#222" stroke-width="0.28">36,655,000</text>
<line x1="390.30" y1="243.50" x2="390.30" y2="250.80" stroke="#222" stroke-width="0.8"/>
<line x1="80.80" y1="269.30" x2="167.00" y2="269.30" stroke="#5454cc" stroke-width="0.9"/>
<line x1="171.00" y1="269.30" x2="177.50" y2="269.30" stroke="#5454cc" stroke-width="0.9"/>
<line x1="194.90" y1="269.30" x2="201.90" y2="269.30" stroke="#5454cc" stroke-width="0.9"/>
<line x1="216.30" y1="269.30" x2="221.20" y2="269.30" stroke="#5454cc" stroke-width="0.9"/>
<line x1="229.90" y1="269.30" x2="238.70" y2="269.30" stroke="#5454cc" stroke-width="0.9"/>
<line x1="241.00" y1="269.30" x2="264.40" y2="269.30" stroke="#5454cc" stroke-width="0.9"/>
<line x1="269.70" y1="269.30" x2="313.70" y2="269.30" stroke="#5454cc" stroke-width="0.9"/>
<line x1="316.30" y1="269.30" x2="327.70" y2="269.30" stroke="#5454cc" stroke-width="0.9"/>
<line x1="329.40" y1="269.30" x2="384.60" y2="269.30" stroke="#5454cc" stroke-width="0.9"/>
<line x1="386.40" y1="269.30" x2="402.50" y2="269.30" stroke="#5454cc" stroke-width="0.9"/>
<path d="M118.9,269.3L118.9,269.1L119.3,269.0L119.7,268.8L120.1,268.6L120.5,268.2L121.0,267.7L121.4,267.1L121.8,266.2L122.2,265.2L122.6,263.9L123.1,262.5L123.5,260.9L123.9,259.3L124.3,257.7L124.7,256.3L125.2,255.1L125.6,254.2L126.0,253.8L126.4,253.8L126.8,254.2L127.3,255.1L127.7,256.3L128.1,257.7L128.5,259.3L128.9,260.9L129.4,262.5L129.8,263.9L130.2,265.2L130.6,266.2L131.0,267.1L131.5,267.7L131.9,268.2L132.3,268.6L132.7,268.8L133.1,269.0L133.6,269.1L133.6,269.3ZM109.7,269.3L109.7,269.3L110.6,269.3L111.6,269.2L112.5,269.2L113.5,269.1L114.4,269.0L115.4,268.9L116.3,268.8L117.2,268.6L118.2,268.4L119.1,268.2L120.1,267.9L121.0,267.6L122.0,267.4L122.9,267.1L123.8,266.9L124.8,266.8L125.7,266.7L126.7,266.7L127.6,266.8L128.6,266.9L129.5,267.1L130.4,267.4L131.4,267.6L132.3,267.9L133.3,268.2L134.2,268.4L135.2,268.6L136.1,268.8L137.0,268.9L138.0,269.0L138.9,269.1L139.9,269.2L140.8,269.2L141.8,269.3L142.7,269.3L142.7,269.3ZM142.3,269.3L142.3,269.3L142.7,269.2L143.0,269.2L143.4,269.1L143.7,269.0L144.1,268.9L144.5,268.8L144.8,268.5L145.2,268.3L145.5,268.0L145.9,267.6L146.3,267.3L146.6,266.9L147.0,266.5L147.3,266.1L147.7,265.8L148.1,265.6L148.4,265.5L148.8,265.5L149.1,265.6L149.5,265.8L149.9,266.1L150.2,266.5L150.6,266.9L150.9,267.3L151.3,267.6L151.7,268.0L152.0,268.3L152.4,268.5L152.7,268.8L153.1,268.9L153.5,269.0L153.8,269.1L154.2,269.2L154.5,269.2L154.9,269.3L154.9,269.3ZM272.4,269.3L272.4,269.3L272.8,269.2L273.2,269.2L273.5,269.2L273.9,269.1L274.3,269.0L274.7,268.9L275.0,268.7L275.4,268.5L275.8,268.3L276.2,268.0L276.5,267.7L276.9,267.4L277.3,267.1L277.7,266.8L278.1,266.6L278.4,266.4L278.8,266.3L279.2,266.3L279.6,266.4L279.9,266.6L280.3,266.8L280.7,267.1L281.1,267.4L281.5,267.7L281.8,268.0L282.2,268.3L282.6,268.5L283.0,268.7L283.3,268.9L283.7,269.0L284.1,269.1L284.5,269.2L284.8,269.2L285.2,269.2L285.6,269.3L285.6,269.3ZM94.0,269.3L94.0,269.3L95.5,269.2L97.0,269.0L98.5,268.7L100.0,268.5L101.5,268.7L103.0,269.0L104.5,269.2L106.0,269.3L106.0,269.3ZM103.5,269.3L103.5,269.3L104.6,269.3L105.8,269.1L106.9,268.8L108.0,268.7L109.1,268.8L110.2,269.1L111.4,269.3L112.5,269.3L112.5,269.3ZM330.0,269.3L330.0,269.3L331.5,269.2L333.0,268.9L334.5,268.4L336.0,268.1L337.5,268.4L339.0,268.9L340.5,269.2L342.0,269.3L342.0,269.3ZM335.5,269.3L335.5,269.3L336.6,269.2L337.8,269.0L338.9,268.5L340.0,268.3L341.1,268.5L342.2,269.0L343.4,269.2L344.5,269.3L344.5,269.3ZM362.0,269.3L362.0,269.3L363.5,269.2L365.0,269.0L366.5,268.6L368.0,268.4L369.5,268.6L371.0,269.0L372.5,269.2L374.0,269.3L374.0,269.3ZM371.5,269.3L371.5,269.3L372.6,269.2L373.8,269.0L374.9,268.7L376.0,268.5L377.1,268.7L378.2,269.0L379.4,269.2L380.5,269.3L380.5,269.3ZM112.0,269.3L112.0,269.3L113.5,269.2L115.0,268.8L116.5,268.2L118.0,267.8L119.5,268.2L121.0,268.8L122.5,269.2L124.0,269.3L124.0,269.3ZM109.4,269.3L109.4,269.3L110.7,269.2L112.0,269.1L113.4,268.7L114.7,268.6L116.0,268.7L117.3,269.1L118.6,269.2L120.0,269.3L120.0,269.3ZM81.5,269.3L81.5,269.3L83.2,269.3L84.9,269.2L86.6,269.0L88.4,268.9L90.1,269.0L91.8,269.2L93.5,269.3L95.2,269.3L95.2,269.3ZM92.4,269.3L92.4,269.3L94.1,269.3L95.9,269.2L97.6,269.0L99.4,268.9L101.1,269.0L102.8,269.2L104.6,269.3L106.3,269.3L106.3,269.3ZM291.9,269.3L291.9,269.3L293.1,269.2L294.3,269.1L295.6,268.8L296.8,268.7L298.0,268.8L299.2,269.1L300.4,269.2L301.6,269.3L301.6,269.3ZM304.5,269.3L304.5,269.3L305.3,269.3L306.0,269.1L306.8,268.9L307.6,268.8L308.3,268.9L309.1,269.1L309.9,269.3L310.6,269.3L310.6,269.3ZM340.0,269.3L340.0,269.3L341.2,269.2L342.4,269.0L343.6,268.6L344.8,268.4L346.1,268.6L347.3,269.0L348.5,269.2L349.7,269.3L349.7,269.3ZM345.3,269.3L345.3,269.3L347.1,269.2L348.9,269.0L350.6,268.7L352.4,268.5L354.2,268.7L356.0,269.0L357.7,269.2L359.5,269.3L359.5,269.3ZM130.0,269.3L130.0,269.3L131.1,269.2L132.3,269.0L133.5,268.7L134.7,268.5L135.9,268.7L137.0,269.0L138.2,269.2L139.4,269.3L139.4,269.3ZM191.8,269.3L191.8,269.3L192.6,269.2L193.5,269.0L194.4,268.7L195.3,268.5L196.2,268.7L197.1,269.0L197.9,269.2L198.8,269.3L198.8,269.3ZM345.6,269.3L345.6,269.3L346.3,269.2L347.1,268.9L347.8,268.5L348.6,268.2L349.3,268.5L350.1,268.9L350.8,269.2L351.6,269.3L351.6,269.3ZM247.9,269.3L247.9,269.3L248.6,269.3L249.3,269.1L250.0,268.9L250.7,268.8L251.4,268.9L252.1,269.1L252.8,269.3L253.5,269.3L253.5,269.3ZM370.2,269.3L370.2,269.3L370.9,269.2L371.7,269.1L372.5,268.8L373.3,268.6L374.1,268.8L374.8,269.1L375.6,269.2L376.4,269.3L376.4,269.3ZM303.6,269.3L303.6,269.3L305.3,269.3L307.0,269.1L308.6,268.9L310.3,268.8L312.0,268.9L313.7,269.1L315.4,269.3L317.1,269.3L317.1,269.3ZM134.7,269.3L134.7,269.3L135.5,269.3L136.3,269.2L137.2,269.1L138.0,269.0L138.9,269.1L139.7,269.2L140.5,269.3L141.4,269.3L141.4,269.3ZM169.2,269.3L169.2,269.3L170.8,269.2L172.5,269.1L174.2,268.8L175.9,268.6L177.6,268.8L179.3,269.1L181.0,269.2L182.7,269.3L182.7,269.3ZM316.8,269.3L316.8,269.3L317.4,269.3L318.0,269.1L318.6,268.8L319.3,268.7L319.9,268.8L320.5,269.1L321.1,269.3L321.7,269.3L321.7,269.3ZM118.3,269.3L118.3,269.3L119.5,269.2L120.6,268.9L121.8,268.4L122.9,268.1L124.1,268.4L125.2,268.9L126.4,269.2L127.5,269.3L127.5,269.3ZM315.0,269.3L315.0,269.3L315.7,269.3L316.3,269.2L316.9,269.0L317.6,269.0L318.2,269.0L318.9,269.2L319.5,269.3L320.2,269.3L320.2,269.3ZM356.2,269.3L356.2,269.3L357.2,269.2L358.2,269.0L359.1,268.7L360.1,268.5L361.1,268.7L362.0,269.0L363.0,269.2L364.0,269.3L364.0,269.3ZM161.2,269.3L161.2,269.3L162.0,269.3L162.8,269.2L163.6,269.0L164.4,268.9L165.2,269.0L166.0,269.2L166.9,269.3L167.7,269.3L167.7,269.3ZM82.6,269.3L82.6,269.3L83.8,269.2L85.0,269.0L86.1,268.5L87.3,268.2L88.4,268.5L89.6,269.0L90.8,269.2L91.9,269.3L91.9,269.3ZM111.0,269.3L111.0,269.3L111.8,269.2L112.6,269.0L113.5,268.6L114.3,268.3L115.2,268.6L116.0,269.0L116.8,269.2L117.7,269.3L117.7,269.3ZM90.4,269.3L90.4,269.3L92.1,269.2L93.8,269.0L95.4,268.7L97.1,268.5L98.8,268.7L100.5,269.0L102.1,269.2L103.8,269.3L103.8,269.3ZM84.6,269.3L84.6,269.3L85.4,269.2L86.2,269.0L87.1,268.5L87.9,268.3L88.7,268.5L89.6,269.0L90.4,269.2L91.2,269.3L91.2,269.3ZM101.5,269.3L101.5,269.3L102.4,269.3L103.4,269.2L104.3,269.1L105.3,269.0L106.2,269.1L107.2,269.2L108.1,269.3L109.1,269.3L109.1,269.3ZM320.6,269.3L320.6,269.3L322.2,269.2L323.8,269.1L325.5,268.7L327.1,268.6L328.7,268.7L330.3,269.1L332.0,269.2L333.6,269.3L333.6,269.3ZM134.4,269.3L134.4,269.3L135.3,269.3L136.2,269.1L137.1,268.9L138.0,268.7L138.9,268.9L139.9,269.1L140.8,269.3L141.7,269.3L141.7,269.3ZM392.7,269.3L392.7,269.3L393.8,269.2L394.8,268.9L395.8,268.4L396.8,268.2L397.8,268.4L398.8,268.9L399.8,269.2L400.8,269.3L400.8,269.3Z" fill="#6f6fd8" stroke="none"/>
<line x1="80.80" y1="287.40" x2="166.10" y2="287.40" stroke="#c25a5a" stroke-width="0.9"/>
<line x1="172.50" y1="287.40" x2="176.00" y2="287.40" stroke="#c25a5a" stroke-width="0.9"/>
<line x1="184.40" y1="287.40" x2="188.40" y2="287.40" stroke="#c25a5a" stroke-width="0.9"/>
<line x1="191.40" y1="287.40" x2="195.80" y2="287.40" stroke="#c25a5a" stroke-width="0.9"/>
<line x1="197.50" y1="287.40" x2="208.90" y2="287.40" stroke="#c25a5a" stroke-width="0.9"/>
<line x1="214.20" y1="287.40" x2="217.70" y2="287.40" stroke="#c25a5a" stroke-width="0.9"/>
<line x1="223.80" y1="287.40" x2="229.00" y2="287.40" stroke="#c25a5a" stroke-width="0.9"/>
<line x1="232.60" y1="287.40" x2="246.60" y2="287.40" stroke="#c25a5a" stroke-width="0.9"/>
<line x1="258.00" y1="287.40" x2="265.80" y2="287.40" stroke="#c25a5a" stroke-width="0.9"/>
<line x1="271.10" y1="287.40" x2="323.30" y2="287.40" stroke="#c25a5a" stroke-width="0.9"/>
<line x1="332.00" y1="287.40" x2="346.90" y2="287.40" stroke="#c25a5a" stroke-width="0.9"/>
<line x1="349.60" y1="287.40" x2="373.20" y2="287.40" stroke="#c25a5a" stroke-width="0.9"/>
<line x1="378.50" y1="287.40" x2="386.00" y2="287.40" stroke="#c25a5a" stroke-width="0.9"/>
<path d="M118.4,287.4L118.4,287.3L118.8,287.3L119.3,287.2L119.7,287.1L120.2,287.0L120.6,286.8L121.1,286.5L121.5,286.2L122.0,285.8L122.4,285.3L122.9,284.8L123.3,284.2L123.7,283.6L124.2,282.9L124.6,282.4L125.1,281.9L125.5,281.6L126.0,281.4L126.4,281.4L126.9,281.6L127.3,281.9L127.8,282.4L128.2,282.9L128.7,283.6L129.1,284.2L129.5,284.8L130.0,285.3L130.4,285.8L130.9,286.2L131.3,286.5L131.8,286.8L132.2,287.0L132.7,287.1L133.1,287.2L133.6,287.3L134.0,287.3L134.0,287.4ZM108.2,287.4L108.2,287.4L112.7,287.3L117.2,287.1L121.7,286.6L126.2,286.4L130.7,286.6L135.2,287.1L139.7,287.3L144.2,287.4L144.2,287.4ZM140.2,287.4L140.2,287.4L140.7,287.4L141.2,287.3L141.6,287.3L142.1,287.2L142.6,287.1L143.1,287.0L143.6,286.9L144.0,286.7L144.5,286.5L145.0,286.3L145.5,286.0L146.0,285.7L146.4,285.5L146.9,285.2L147.4,285.0L147.9,284.9L148.4,284.8L148.8,284.8L149.3,284.9L149.8,285.0L150.3,285.2L150.8,285.5L151.2,285.7L151.7,286.0L152.2,286.3L152.7,286.5L153.2,286.7L153.6,286.9L154.1,287.0L154.6,287.1L155.1,287.2L155.6,287.3L156.0,287.3L156.5,287.4L157.0,287.4L157.0,287.4ZM104.5,287.4L104.5,287.4L106.4,287.3L108.2,287.1L110.1,286.7L112.0,286.5L113.9,286.7L115.8,287.1L117.6,287.3L119.5,287.4L119.5,287.4ZM111.0,287.4L111.0,287.4L112.5,287.3L114.0,287.2L115.5,286.9L117.0,286.7L118.5,286.9L120.0,287.2L121.5,287.3L123.0,287.4L123.0,287.4ZM149.0,287.4L149.0,287.4L150.5,287.3L152.0,287.1L153.5,286.8L155.0,286.6L156.5,286.8L158.0,287.1L159.5,287.3L161.0,287.4L161.0,287.4ZM234.0,287.4L234.0,287.4L235.5,287.3L237.0,287.1L238.5,286.7L240.0,286.5L241.5,286.7L243.0,287.1L244.5,287.3L246.0,287.4L246.0,287.4ZM268.5,287.4L268.5,287.4L270.4,287.3L272.2,287.1L274.1,286.7L276.0,286.5L277.9,286.7L279.8,287.1L281.6,287.3L283.5,287.4L283.5,287.4ZM332.0,287.4L332.0,287.4L333.5,287.3L335.0,287.1L336.5,286.6L338.0,286.4L339.5,286.6L341.0,287.1L342.5,287.3L344.0,287.4L344.0,287.4ZM355.0,287.4L355.0,287.4L356.5,287.3L358.0,287.1L359.5,286.8L361.0,286.6L362.5,286.8L364.0,287.1L365.5,287.3L367.0,287.4L367.0,287.4ZM376.0,287.4L376.0,287.4L377.5,287.3L379.0,287.2L380.5,286.9L382.0,286.7L383.5,286.9L385.0,287.2L386.5,287.3L388.0,287.4L388.0,287.4ZM197.8,287.4L197.8,287.4L199.3,287.4L200.8,287.2L202.3,287.0L203.8,286.8L205.3,287.0L206.8,287.2L208.3,287.4L209.7,287.4L209.7,287.4ZM86.0,287.4L86.0,287.4L87.0,287.4L88.1,287.3L89.2,287.1L90.3,287.0L91.4,287.1L92.5,287.3L93.5,287.4L94.6,287.4L94.6,287.4ZM133.0,287.4L133.0,287.4L134.5,287.3L136.0,287.1L137.5,286.6L139.0,286.3L140.5,286.6L141.9,287.1L143.4,287.3L144.9,287.4L144.9,287.4ZM239.1,287.4L239.1,287.4L240.5,287.3L242.0,287.1L243.4,286.7L244.8,286.5L246.2,286.7L247.7,287.1L249.1,287.3L250.5,287.4L250.5,287.4ZM314.2,287.4L314.2,287.4L315.0,287.3L315.8,287.0L316.6,286.5L317.3,286.3L318.1,286.5L318.9,287.0L319.7,287.3L320.5,287.4L320.5,287.4ZM276.1,287.4L276.1,287.4L277.2,287.4L278.3,287.3L279.4,287.1L280.6,287.0L281.7,287.1L282.8,287.3L284.0,287.4L285.1,287.4L285.1,287.4ZM312.5,287.4L312.5,287.4L314.1,287.3L315.6,287.0L317.1,286.6L318.6,286.3L320.1,286.6L321.6,287.0L323.1,287.3L324.6,287.4L324.6,287.4ZM86.0,287.4L86.0,287.4L86.8,287.4L87.6,287.2L88.4,286.9L89.2,286.8L90.0,286.9L90.8,287.2L91.6,287.4L92.4,287.4L92.4,287.4ZM382.1,287.4L382.1,287.4L383.0,287.4L383.9,287.3L384.8,287.1L385.7,287.0L386.6,287.1L387.5,287.3L388.4,287.4L389.3,287.4L389.3,287.4ZM159.0,287.4L159.0,287.4L160.6,287.4L162.3,287.3L163.9,287.1L165.6,287.0L167.2,287.1L168.9,287.3L170.5,287.4L172.1,287.4L172.1,287.4ZM278.2,287.4L278.2,287.4L279.4,287.4L280.6,287.3L281.8,287.1L283.0,287.0L284.2,287.1L285.4,287.3L286.6,287.4L287.8,287.4L287.8,287.4ZM96.0,287.4L96.0,287.4L96.8,287.3L97.7,287.1L98.6,286.8L99.5,286.6L100.3,286.8L101.2,287.1L102.1,287.3L103.0,287.4L103.0,287.4ZM84.9,287.4L84.9,287.4L86.2,287.4L87.4,287.3L88.7,287.1L90.0,287.0L91.2,287.1L92.5,287.3L93.8,287.4L95.0,287.4L95.0,287.4ZM277.7,287.4L277.7,287.4L279.0,287.4L280.4,287.2L281.8,287.0L283.2,286.8L284.5,287.0L285.9,287.2L287.3,287.4L288.6,287.4L288.6,287.4ZM160.4,287.4L160.4,287.4L161.4,287.4L162.4,287.3L163.4,287.1L164.3,287.0L165.3,287.1L166.3,287.3L167.3,287.4L168.3,287.4L168.3,287.4ZM189.4,287.4L189.4,287.4L190.2,287.3L190.9,287.0L191.7,286.6L192.4,286.3L193.1,286.6L193.9,287.0L194.6,287.3L195.4,287.4L195.4,287.4ZM94.2,287.4L94.2,287.4L96.0,287.3L97.7,287.1L99.5,286.8L101.2,286.6L103.0,286.8L104.8,287.1L106.5,287.3L108.3,287.4L108.3,287.4ZM356.0,287.4L356.0,287.4L356.7,287.3L357.3,287.1L358.0,286.7L358.7,286.5L359.4,286.7L360.1,287.1L360.7,287.3L361.4,287.4L361.4,287.4ZM329.0,287.4L329.0,287.4L329.7,287.3L330.5,287.1L331.3,286.7L332.1,286.5L332.8,286.7L333.6,287.1L334.4,287.3L335.1,287.4L335.1,287.4ZM209.7,287.4L209.7,287.4L211.2,287.4L212.8,287.3L214.4,287.1L215.9,287.1L217.5,287.1L219.1,287.3L220.6,287.4L222.2,287.4L222.2,287.4ZM296.5,287.4L296.5,287.4L298.0,287.3L299.5,287.1L301.0,286.6L302.5,286.4L304.0,286.6L305.6,287.1L307.1,287.3L308.6,287.4L308.6,287.4ZM140.6,287.4L140.6,287.4L141.5,287.3L142.4,287.1L143.3,286.6L144.2,286.4L145.1,286.6L146.0,287.1L146.9,287.3L147.8,287.4L147.8,287.4ZM108.7,287.4L108.7,287.4L109.9,287.3L111.1,287.2L112.3,286.9L113.5,286.7L114.7,286.9L115.9,287.2L117.1,287.3L118.3,287.4L118.3,287.4ZM143.3,287.4L143.3,287.4L144.7,287.3L146.0,287.1L147.3,286.8L148.6,286.6L149.9,286.8L151.3,287.1L152.6,287.3L153.9,287.4L153.9,287.4ZM133.6,287.4L133.6,287.4L134.6,287.3L135.7,287.1L136.7,286.8L137.7,286.5L138.7,286.8L139.8,287.1L140.8,287.3L141.8,287.4L141.8,287.4ZM300.1,287.4L300.1,287.4L301.7,287.4L303.2,287.2L304.8,287.0L306.3,286.8L307.9,287.0L309.5,287.2L311.0,287.4L312.6,287.4L312.6,287.4ZM193.2,287.4L193.2,287.4L194.6,287.3L196.0,287.1L197.4,286.8L198.8,286.6L200.2,286.8L201.6,287.1L203.0,287.3L204.4,287.4L204.4,287.4ZM231.2,287.4L231.2,287.4L233.0,287.4L234.8,287.2L236.5,287.0L238.3,286.9L240.1,287.0L241.9,287.2L243.6,287.4L245.4,287.4L245.4,287.4Z" fill="#c86464" stroke="none"/>
<line x1="181.40" y1="293.30" x2="355.00" y2="293.30" stroke="#14149a" stroke-width="1.0"/>
<path d="M184.70,291.60 L186.30,293.30 L184.70,295.00 M189.40,291.60 L191.00,293.30 L189.40,295.00 M194.10,291.60 L195.70,293.30 L194.10,295.00 M198.80,291.60 L200.40,293.30 L198.80,295.00 M203.50,291.60 L205.10,293.30 L203.50,295.00 M208.20,291.60 L209.80,293.30 L208.20,295.00 M212.90,291.60 L214.50,293.30 L212.90,295.00 M217.60,291.60 L219.20,293.30 L217.60,295.00 M222.30,291.60 L223.90,293.30 L222.30,295.00 M227.00,291.60 L228.60,293.30 L227.00,295.00 M231.70,291.60 L233.30,293.30 L231.70,295.00 M236.40,291.60 L238.00,293.30 L236.40,295.00 M241.10,291.60 L242.70,293.30 L241.10,295.00 M245.80,291.60 L247.40,293.30 L245.80,295.00 M250.50,291.60 L252.10,293.30 L250.50,295.00 M255.20,291.60 L256.80,293.30 L255.20,295.00 M259.90,291.60 L261.50,293.30 L259.90,295.00 M264.60,291.60 L266.20,293.30 L264.60,295.00 M269.30,291.60 L270.90,293.30 L269.30,295.00 M274.00,291.60 L275.60,293.30 L274.00,295.00 M278.70,291.60 L280.30,293.30 L278.70,295.00 M283.40,291.60 L285.00,293.30 L283.40,295.00 M288.10,291.60 L289.70,293.30 L288.10,295.00 M292.80,291.60 L294.40,293.30 L292.80,295.00 M297.50,291.60 L299.10,293.30 L297.50,295.00 M302.20,291.60 L303.80,293.30 L302.20,295.00 M306.90,291.60 L308.50,293.30 L306.90,295.00 M311.60,291.60 L313.20,293.30 L311.60,295.00 M316.30,291.60 L317.90,293.30 L316.30,295.00 M321.00,291.60 L322.60,293.30 L321.00,295.00 M325.70,291.60 L327.30,293.30 L325.70,295.00 M330.40,291.60 L332.00,293.30 L330.40,295.00 M335.10,291.60 L336.70,293.30 L335.10,295.00 M339.80,291.60 L341.40,293.30 L339.80,295.00 M344.50,291.60 L346.10,293.30 L344.50,295.00 M349.20,291.60 L350.80,293.30 L349.20,295.00 " fill="none" stroke="#3a3ac0" stroke-width="0.65"/>
<rect x="181.20" y="290.80" width="2.30" height="5.20" fill="#14149a" stroke="none" stroke-width="1"/>
<rect x="314.00" y="288.90" width="11.00" height="8.80" fill="#14149a" stroke="none" stroke-width="1"/>
<rect x="354.60" y="288.60" width="1.10" height="8.90" fill="#14149a" stroke="none" stroke-width="1"/>
<rect x="355.20" y="290.30" width="37.80" height="5.70" fill="#14149a" stroke="none" stroke-width="1"/>
<circle cx="242.80" cy="299.30" r="0.7" fill="#444" stroke="none" stroke-width="0.5"/>
<line x1="79.60" y1="332.70" x2="79.60" y2="399.50" stroke="#f4a8a8" stroke-width="0.9"/>
<text x="79.00" y="342.10" font-size="7.8" text-anchor="end" fill="#222" stroke="#222" stroke-width="0.28">Scale</text>
<text x="79.00" y="352.60" font-size="7.8" text-anchor="end" fill="#222" stroke="#222" stroke-width="0.28">chr1:</text>
<text x="77.30" y="359.40" font-size="6.4" text-anchor="end" fill="#222" stroke="#222" stroke-width="0.28">9.5</text>
<text x="77.30" y="378.70" font-size="6.4" text-anchor="end" fill="#222" stroke="#222" stroke-width="0.28">9.6</text>
<text x="16.60" y="372.50" font-size="8.35" fill="#5454cc" stroke="#5454cc" stroke-width="0.28">p53 (control)</text>
<text x="16.60" y="391.10" font-size="8.35" fill="#c25a5a" stroke="#c25a5a" stroke-width="0.28">p53 (Daxx KO)</text>
<text x="79.40" y="400.00" font-size="7.9" font-weight="bold" text-anchor="end" fill="#14149a" stroke="#14149a" stroke-width="0.28">GADD45A</text>
<text x="237.20" y="332.60" font-size="10.5" font-weight="bold" text-anchor="middle" fill="#111" stroke="#111" stroke-width="0.18">GADD45A</text>
<text x="162.60" y="341.40" font-size="7.4" fill="#222" stroke="#222" stroke-width="0.28">5 kb</text>
<line x1="178.70" y1="338.00" x2="320.70" y2="338.00" stroke="#444" stroke-width="0.9"/>
<line x1="178.70" y1="334.80" x2="178.70" y2="341.60" stroke="#444" stroke-width="0.9"/>
<line x1="320.70" y1="334.80" x2="320.70" y2="341.60" stroke="#444" stroke-width="0.9"/>
<text x="326.80" y="339.30" font-size="7.4" fill="#222" stroke="#222" stroke-width="0.28">hg19</text>
<text x="184.50" y="352.40" font-size="7.9" text-anchor="end" fill="#222" stroke="#222" stroke-width="0.28">68,150,000</text>
<line x1="185.90" y1="346.00" x2="185.90" y2="353.40" stroke="#222" stroke-width="0.8"/>
<text x="326.80" y="352.40" font-size="7.9" text-anchor="end" fill="#222" stroke="#222" stroke-width="0.28">68,155,000</text>
<line x1="328.20" y1="346.00" x2="328.20" y2="353.40" stroke="#222" stroke-width="0.8"/>
<line x1="80.80" y1="371.30" x2="201.90" y2="371.30" stroke="#5454cc" stroke-width="0.9"/>
<line x1="206.30" y1="371.30" x2="212.40" y2="371.30" stroke="#5454cc" stroke-width="0.9"/>
<line x1="217.70" y1="371.30" x2="226.40" y2="371.30" stroke="#5454cc" stroke-width="0.9"/>
<line x1="232.60" y1="371.30" x2="239.20" y2="371.30" stroke="#5454cc" stroke-width="0.9"/>
<line x1="244.00" y1="371.30" x2="393.40" y2="371.30" stroke="#5454cc" stroke-width="0.9"/>
<path d="M248.7,371.3L248.7,371.1L249.1,371.0L249.6,370.8L250.0,370.5L250.5,370.1L250.9,369.6L251.4,368.8L251.8,367.9L252.3,366.7L252.7,365.4L253.2,363.8L253.6,362.1L254.1,360.3L254.6,358.5L255.0,356.9L255.5,355.6L255.9,354.7L256.4,354.2L256.8,354.2L257.3,354.7L257.7,355.6L258.2,356.9L258.6,358.5L259.1,360.3L259.6,362.1L260.0,363.8L260.5,365.4L260.9,366.7L261.4,367.9L261.8,368.8L262.3,369.6L262.7,370.1L263.2,370.5L263.6,370.8L264.1,371.0L264.6,371.1L264.6,371.3ZM104.0,371.3L104.0,371.3L106.2,371.2L108.5,371.0L110.8,370.5L113.0,370.3L115.2,370.5L117.5,371.0L119.8,371.2L122.0,371.3L122.0,371.3ZM112.5,371.3L112.5,371.3L114.4,371.2L116.2,371.0L118.1,370.6L120.0,370.4L121.9,370.6L123.8,371.0L125.6,371.2L127.5,371.3L127.5,371.3ZM126.0,371.3L126.0,371.3L128.2,371.2L130.5,371.0L132.8,370.7L135.0,370.5L137.2,370.7L139.5,371.0L141.8,371.2L144.0,371.3L144.0,371.3ZM153.0,371.3L153.0,371.3L155.2,371.2L157.5,371.0L159.8,370.6L162.0,370.4L164.2,370.6L166.5,371.0L168.8,371.2L171.0,371.3L171.0,371.3ZM167.0,371.3L167.0,371.3L169.2,371.2L171.5,371.0L173.8,370.5L176.0,370.3L178.2,370.5L180.5,371.0L182.8,371.2L185.0,371.3L185.0,371.3ZM174.0,371.3L174.0,371.3L175.5,371.2L177.0,371.0L178.5,370.7L180.0,370.5L181.5,370.7L183.0,371.0L184.5,371.2L186.0,371.3L186.0,371.3ZM294.0,371.3L294.0,371.3L295.5,371.2L297.0,371.0L298.5,370.5L300.0,370.3L301.5,370.5L303.0,371.0L304.5,371.2L306.0,371.3L306.0,371.3ZM304.0,371.3L304.0,371.3L305.5,371.3L307.0,371.1L308.5,370.8L310.0,370.7L311.5,370.8L313.0,371.1L314.5,371.3L316.0,371.3L316.0,371.3ZM103.8,371.3L103.8,371.3L105.1,371.3L106.3,371.1L107.6,370.9L108.8,370.7L110.1,370.9L111.4,371.1L112.6,371.3L113.9,371.3L113.9,371.3ZM82.9,371.3L82.9,371.3L84.5,371.3L86.1,371.2L87.6,371.0L89.2,370.9L90.7,371.0L92.3,371.2L93.9,371.3L95.4,371.3L95.4,371.3ZM323.6,371.3L323.6,371.3L325.2,371.2L326.9,371.0L328.6,370.6L330.3,370.4L332.0,370.6L333.7,371.0L335.3,371.2L337.0,371.3L337.0,371.3ZM316.5,371.3L316.5,371.3L317.9,371.3L319.3,371.1L320.7,370.9L322.0,370.7L323.4,370.9L324.8,371.1L326.2,371.3L327.5,371.3L327.5,371.3ZM175.8,371.3L175.8,371.3L176.9,371.2L177.9,371.0L179.0,370.6L180.1,370.3L181.1,370.6L182.2,371.0L183.3,371.2L184.3,371.3L184.3,371.3ZM119.8,371.3L119.8,371.3L121.2,371.2L122.7,370.9L124.1,370.5L125.5,370.2L127.0,370.5L128.4,370.9L129.8,371.2L131.2,371.3L131.2,371.3ZM312.7,371.3L312.7,371.3L314.3,371.2L315.8,371.0L317.3,370.7L318.9,370.5L320.4,370.7L322.0,371.0L323.5,371.2L325.0,371.3L325.0,371.3ZM218.5,371.3L218.5,371.3L219.2,371.2L219.9,371.0L220.6,370.7L221.2,370.5L221.9,370.7L222.6,371.0L223.3,371.2L223.9,371.3L223.9,371.3ZM257.7,371.3L257.7,371.3L259.2,371.2L260.6,371.0L262.1,370.5L263.5,370.3L265.0,370.5L266.4,371.0L267.9,371.2L269.3,371.3L269.3,371.3ZM329.3,371.3L329.3,371.3L331.0,371.2L332.6,371.1L334.3,370.7L335.9,370.6L337.6,370.7L339.3,371.1L340.9,371.2L342.6,371.3L342.6,371.3ZM108.2,371.3L108.2,371.3L109.3,371.2L110.3,370.9L111.4,370.5L112.4,370.2L113.5,370.5L114.5,370.9L115.6,371.2L116.6,371.3L116.6,371.3ZM102.8,371.3L102.8,371.3L103.9,371.2L105.1,371.0L106.2,370.7L107.4,370.4L108.5,370.7L109.6,371.0L110.8,371.2L111.9,371.3L111.9,371.3ZM207.2,371.3L207.2,371.3L207.9,371.2L208.7,371.0L209.5,370.5L210.2,370.2L211.0,370.5L211.8,371.0L212.5,371.2L213.3,371.3L213.3,371.3ZM276.6,371.3L276.6,371.3L277.9,371.2L279.1,371.1L280.3,370.8L281.6,370.6L282.8,370.8L284.1,371.1L285.3,371.2L286.5,371.3L286.5,371.3ZM242.4,371.3L242.4,371.3L243.6,371.3L244.8,371.2L246.1,371.0L247.3,370.9L248.5,371.0L249.7,371.2L250.9,371.3L252.1,371.3L252.1,371.3ZM350.7,371.3L350.7,371.3L351.3,371.3L351.9,371.2L352.5,371.0L353.1,370.8L353.8,371.0L354.4,371.2L355.0,371.3L355.6,371.3L355.6,371.3ZM93.4,371.3L93.4,371.3L95.2,371.2L97.0,371.1L98.8,370.8L100.5,370.6L102.3,370.8L104.1,371.1L105.8,371.2L107.6,371.3L107.6,371.3ZM88.7,371.3L88.7,371.3L90.0,371.2L91.2,370.9L92.5,370.4L93.7,370.1L95.0,370.4L96.2,370.9L97.4,371.2L98.7,371.3L98.7,371.3ZM112.5,371.3L112.5,371.3L113.3,371.2L114.2,371.1L115.0,370.8L115.9,370.6L116.7,370.8L117.6,371.1L118.4,371.2L119.3,371.3L119.3,371.3ZM306.2,371.3L306.2,371.3L307.1,371.2L308.1,371.0L309.0,370.7L310.0,370.5L310.9,370.7L311.9,371.0L312.8,371.2L313.7,371.3L313.7,371.3ZM149.3,371.3L149.3,371.3L150.8,371.2L152.3,370.9L153.8,370.5L155.4,370.2L156.9,370.5L158.4,370.9L159.9,371.2L161.4,371.3L161.4,371.3ZM211.9,371.3L211.9,371.3L213.4,371.2L214.9,371.1L216.3,370.8L217.8,370.6L219.3,370.8L220.8,371.1L222.3,371.2L223.8,371.3L223.8,371.3ZM381.7,371.3L381.7,371.3L382.5,371.3L383.3,371.2L384.1,371.0L384.9,370.9L385.6,371.0L386.4,371.2L387.2,371.3L388.0,371.3L388.0,371.3ZM183.8,371.3L183.8,371.3L184.5,371.2L185.2,371.1L185.9,370.7L186.6,370.5L187.2,370.7L187.9,371.1L188.6,371.2L189.3,371.3L189.3,371.3ZM92.2,371.3L92.2,371.3L93.2,371.3L94.3,371.1L95.4,370.9L96.4,370.8L97.5,370.9L98.5,371.1L99.6,371.3L100.7,371.3L100.7,371.3ZM314.8,371.3L314.8,371.3L315.4,371.2L316.0,371.0L316.7,370.7L317.3,370.5L317.9,370.7L318.6,371.0L319.2,371.2L319.8,371.3L319.8,371.3ZM87.3,371.3L87.3,371.3L89.0,371.2L90.6,371.1L92.3,370.8L93.9,370.6L95.6,370.8L97.2,371.1L98.9,371.2L100.5,371.3L100.5,371.3ZM361.9,371.3L361.9,371.3L363.6,371.2L365.3,371.1L366.9,370.8L368.6,370.7L370.3,370.8L371.9,371.1L373.6,371.2L375.2,371.3L375.2,371.3Z" fill="#6f6fd8" stroke="none"/>
<line x1="81.00" y1="392.00" x2="82.80" y2="392.00" stroke="#c25a5a" stroke-width="0.8"/>
<line x1="83.80" y1="390.40" x2="205.00" y2="390.40" stroke="#c25a5a" stroke-width="0.9"/>
<line x1="209.00" y1="390.40" x2="226.00" y2="390.40" stroke="#c25a5a" stroke-width="0.9"/>
<line x1="229.00" y1="390.40" x2="393.40" y2="390.40" stroke="#c25a5a" stroke-width="0.9"/>
<path d="M247.2,390.4L247.2,390.4L247.7,390.3L248.2,390.3L248.7,390.2L249.3,390.1L249.8,390.0L250.3,389.8L250.8,389.6L251.3,389.3L251.8,389.0L252.3,388.6L252.9,388.2L253.4,387.8L253.9,387.4L254.4,387.1L254.9,386.8L255.4,386.5L255.9,386.4L256.5,386.4L257.0,386.5L257.5,386.8L258.0,387.1L258.5,387.4L259.0,387.8L259.5,388.2L260.1,388.6L260.6,389.0L261.1,389.3L261.6,389.6L262.1,389.8L262.6,390.0L263.1,390.1L263.7,390.2L264.2,390.3L264.7,390.3L265.2,390.4L265.2,390.4ZM252.5,390.4L252.5,390.4L254.8,390.3L257.0,390.0L259.2,389.4L261.5,389.1L263.8,389.4L266.0,390.0L268.2,390.3L270.5,390.4L270.5,390.4ZM107.0,390.4L107.0,390.4L109.2,390.3L111.5,390.0L113.8,389.5L116.0,389.2L118.2,389.5L120.5,390.0L122.8,390.3L125.0,390.4L125.0,390.4ZM101.0,390.4L101.0,390.4L102.5,390.3L104.0,390.1L105.5,389.8L107.0,389.6L108.5,389.8L110.0,390.1L111.5,390.3L113.0,390.4L113.0,390.4ZM126.0,390.4L126.0,390.4L128.2,390.3L130.5,390.1L132.8,389.7L135.0,389.5L137.2,389.7L139.5,390.1L141.8,390.3L144.0,390.4L144.0,390.4ZM148.0,390.4L148.0,390.4L150.2,390.3L152.5,390.1L154.8,389.6L157.0,389.4L159.2,389.6L161.5,390.1L163.8,390.3L166.0,390.4L166.0,390.4ZM161.0,390.4L161.0,390.4L163.2,390.3L165.5,390.1L167.8,389.8L170.0,389.6L172.2,389.8L174.5,390.1L176.8,390.3L179.0,390.4L179.0,390.4ZM259.0,390.4L259.0,390.4L261.2,390.3L263.5,390.1L265.8,389.7L268.0,389.5L270.2,389.7L272.5,390.1L274.8,390.3L277.0,390.4L277.0,390.4ZM271.0,390.4L271.0,390.4L273.2,390.3L275.5,390.1L277.8,389.8L280.0,389.6L282.2,389.8L284.5,390.1L286.8,390.3L289.0,390.4L289.0,390.4ZM304.0,390.4L304.0,390.4L306.2,390.3L308.5,390.1L310.8,389.8L313.0,389.6L315.2,389.8L317.5,390.1L319.8,390.3L322.0,390.4L322.0,390.4ZM334.0,390.4L334.0,390.4L335.5,390.3L337.0,390.1L338.5,389.7L340.0,389.5L341.5,389.7L343.0,390.1L344.5,390.3L346.0,390.4L346.0,390.4ZM354.0,390.4L354.0,390.4L355.5,390.3L357.0,390.2L358.5,389.9L360.0,389.7L361.5,389.9L363.0,390.2L364.5,390.3L366.0,390.4L366.0,390.4ZM366.0,390.4L366.0,390.4L367.5,390.3L369.0,390.2L370.5,389.9L372.0,389.7L373.4,389.9L374.9,390.2L376.4,390.3L377.9,390.4L377.9,390.4ZM189.2,390.4L189.2,390.4L190.5,390.4L191.8,390.3L193.1,390.1L194.4,390.0L195.6,390.1L196.9,390.3L198.2,390.4L199.5,390.4L199.5,390.4ZM103.7,390.4L103.7,390.4L105.2,390.3L106.8,390.1L108.4,389.7L110.0,389.5L111.5,389.7L113.1,390.1L114.7,390.3L116.2,390.4L116.2,390.4ZM364.8,390.4L364.8,390.4L365.6,390.3L366.3,390.2L367.1,389.9L367.8,389.7L368.5,389.9L369.3,390.2L370.0,390.3L370.8,390.4L370.8,390.4ZM356.8,390.4L356.8,390.4L358.6,390.3L360.4,390.0L362.1,389.6L363.9,389.3L365.7,389.6L367.4,390.0L369.2,390.3L370.9,390.4L370.9,390.4ZM266.3,390.4L266.3,390.4L267.4,390.3L268.4,390.1L269.5,389.7L270.5,389.5L271.6,389.7L272.6,390.1L273.7,390.3L274.7,390.4L274.7,390.4ZM133.4,390.4L133.4,390.4L134.8,390.4L136.3,390.2L137.8,390.0L139.2,389.8L140.7,390.0L142.1,390.2L143.6,390.4L145.1,390.4L145.1,390.4ZM177.3,390.4L177.3,390.4L178.5,390.3L179.7,390.1L180.9,389.7L182.1,389.5L183.3,389.7L184.5,390.1L185.7,390.3L187.0,390.4L187.0,390.4ZM220.5,390.4L220.5,390.4L221.3,390.3L222.1,390.0L222.9,389.5L223.7,389.2L224.5,389.5L225.3,390.0L226.1,390.3L226.9,390.4L226.9,390.4ZM231.3,390.4L231.3,390.4L233.0,390.4L234.8,390.3L236.5,390.1L238.2,390.0L239.9,390.1L241.7,390.3L243.4,390.4L245.1,390.4L245.1,390.4ZM235.4,390.4L235.4,390.4L236.3,390.4L237.1,390.2L237.9,389.9L238.7,389.8L239.5,389.9L240.3,390.2L241.1,390.4L241.9,390.4L241.9,390.4ZM267.6,390.4L267.6,390.4L268.3,390.3L269.1,390.2L269.8,389.9L270.6,389.7L271.3,389.9L272.1,390.2L272.8,390.3L273.6,390.4L273.6,390.4ZM88.4,390.4L88.4,390.4L89.7,390.3L91.0,390.2L92.3,389.9L93.6,389.7L94.9,389.9L96.2,390.2L97.5,390.3L98.8,390.4L98.8,390.4ZM241.0,390.4L241.0,390.4L242.7,390.3L244.4,390.0L246.1,389.6L247.8,389.3L249.5,389.6L251.2,390.0L252.9,390.3L254.6,390.4L254.6,390.4ZM369.4,390.4L369.4,390.4L370.6,390.3L371.8,390.1L373.0,389.6L374.1,389.4L375.3,389.6L376.5,390.1L377.6,390.3L378.8,390.4L378.8,390.4ZM245.0,390.4L245.0,390.4L246.1,390.3L247.1,390.2L248.2,389.9L249.3,389.7L250.4,389.9L251.5,390.2L252.5,390.3L253.6,390.4L253.6,390.4ZM92.8,390.4L92.8,390.4L93.7,390.3L94.6,390.1L95.5,389.6L96.4,389.4L97.3,389.6L98.2,390.1L99.1,390.3L100.0,390.4L100.0,390.4ZM86.8,390.4L86.8,390.4L88.3,390.3L89.8,390.2L91.2,389.9L92.7,389.7L94.1,389.9L95.6,390.2L97.1,390.3L98.5,390.4L98.5,390.4ZM214.2,390.4L214.2,390.4L215.6,390.4L217.0,390.2L218.4,389.9L219.7,389.8L221.1,389.9L222.5,390.2L223.9,390.4L225.3,390.4L225.3,390.4ZM127.8,390.4L127.8,390.4L129.1,390.4L130.5,390.3L131.8,390.2L133.1,390.1L134.4,390.2L135.7,390.3L137.0,390.4L138.3,390.4L138.3,390.4ZM246.9,390.4L246.9,390.4L248.0,390.3L249.1,390.0L250.2,389.6L251.3,389.3L252.4,389.6L253.5,390.0L254.6,390.3L255.7,390.4L255.7,390.4ZM326.1,390.4L326.1,390.4L326.8,390.4L327.4,390.3L328.0,390.2L328.7,390.1L329.3,390.2L329.9,390.3L330.6,390.4L331.2,390.4L331.2,390.4ZM269.2,390.4L269.2,390.4L269.9,390.4L270.6,390.2L271.2,390.0L271.9,389.9L272.6,390.0L273.3,390.2L274.0,390.4L274.6,390.4L274.6,390.4ZM118.4,390.4L118.4,390.4L119.4,390.3L120.4,390.2L121.5,389.9L122.5,389.8L123.5,389.9L124.5,390.2L125.5,390.3L126.5,390.4L126.5,390.4ZM257.2,390.4L257.2,390.4L258.3,390.3L259.3,390.0L260.4,389.6L261.4,389.3L262.4,389.6L263.5,390.0L264.5,390.3L265.6,390.4L265.6,390.4ZM137.1,390.4L137.1,390.4L137.7,390.3L138.3,390.1L138.9,389.8L139.5,389.6L140.1,389.8L140.7,390.1L141.3,390.3L141.9,390.4L141.9,390.4ZM196.0,390.4L196.0,390.4L197.1,390.4L198.1,390.2L199.2,390.0L200.2,389.8L201.3,390.0L202.4,390.2L203.4,390.4L204.5,390.4L204.5,390.4ZM93.8,390.4L93.8,390.4L95.1,390.3L96.5,390.1L97.8,389.8L99.2,389.6L100.5,389.8L101.9,390.1L103.2,390.3L104.6,390.4L104.6,390.4Z" fill="#c86464" stroke="none"/>
<line x1="211.20" y1="395.70" x2="284.00" y2="395.70" stroke="#14149a" stroke-width="1.0"/>
<path d="M222.70,394.00 L224.30,395.70 L222.70,397.40 M227.10,394.00 L228.70,395.70 L227.10,397.40 M231.50,394.00 L233.10,395.70 L231.50,397.40 M235.90,394.00 L237.50,395.70 L235.90,397.40 M240.30,394.00 L241.90,395.70 L240.30,397.40 M244.70,394.00 L246.30,395.70 L244.70,397.40 M249.10,394.00 L250.70,395.70 L249.10,397.40 M253.50,394.00 L255.10,395.70 L253.50,397.40 M257.90,394.00 L259.50,395.70 L257.90,397.40 M262.30,394.00 L263.90,395.70 L262.30,397.40 M266.70,394.00 L268.30,395.70 L266.70,397.40 M271.10,394.00 L272.70,395.70 L271.10,397.40 M275.50,394.00 L277.10,395.70 L275.50,397.40 M279.90,394.00 L281.50,395.70 L279.90,397.40 " fill="none" stroke="#3a3ac0" stroke-width="0.65"/>
<rect x="211.10" y="392.90" width="9.20" height="5.40" fill="#14149a" stroke="none" stroke-width="1"/>
<rect x="219.60" y="391.00" width="1.30" height="9.20" fill="#14149a" stroke="none" stroke-width="1"/>
<rect x="234.90" y="391.00" width="2.90" height="9.20" fill="#14149a" stroke="none" stroke-width="1"/>
<rect x="243.70" y="391.00" width="6.30" height="9.20" fill="#14149a" stroke="none" stroke-width="1"/>
<rect x="281.20" y="391.00" width="2.60" height="9.20" fill="#14149a" stroke="none" stroke-width="1"/>
<rect x="283.60" y="392.90" width="17.00" height="5.40" fill="#14149a" stroke="none" stroke-width="1"/>
<text transform="translate(461.36,241.80) scale(1.2735,0.1819)" x="-0.410" y="-0.098" font-size="10" font-weight="bold" fill="#1A1AD0">C</text>
<text transform="translate(461.36,240.51) scale(1.4138,0.3276)" x="-0.112" y="0.000" font-size="10" font-weight="bold" fill="#D00000">T</text>
<text transform="translate(461.36,238.26) scale(1.2410,0.7020)" x="-0.249" y="0.000" font-size="10" font-weight="bold" fill="#1FB41F">A</text>
<text transform="translate(461.36,233.43) scale(1.2338,0.8641)" x="-0.410" y="-0.098" font-size="10" font-weight="bold" fill="#FFB000">G</text>
<text transform="translate(470.41,241.80) scale(1.2735,0.1592)" x="-0.410" y="-0.098" font-size="10" font-weight="bold" fill="#1A1AD0">C</text>
<text transform="translate(470.41,240.67) scale(1.4138,0.1872)" x="-0.112" y="0.000" font-size="10" font-weight="bold" fill="#D00000">T</text>
<text transform="translate(470.41,239.38) scale(1.2338,0.7277)" x="-0.410" y="-0.098" font-size="10" font-weight="bold" fill="#FFB000">G</text>
<text transform="translate(470.41,234.23) scale(1.2410,1.0531)" x="-0.249" y="0.000" font-size="10" font-weight="bold" fill="#1FB41F">A</text>
<text transform="translate(479.46,241.80) scale(1.2735,2.2740)" x="-0.410" y="-0.098" font-size="10" font-weight="bold" fill="#1A1AD0">C</text>
<text transform="translate(488.51,241.80) scale(1.2735,0.1364)" x="-0.410" y="-0.098" font-size="10" font-weight="bold" fill="#1A1AD0">C</text>
<text transform="translate(488.51,240.83) scale(1.4138,0.2340)" x="-0.112" y="0.000" font-size="10" font-weight="bold" fill="#D00000">T</text>
<text transform="translate(488.51,239.22) scale(1.2410,1.8253)" x="-0.249" y="0.000" font-size="10" font-weight="bold" fill="#1FB41F">A</text>
<text transform="translate(497.56,241.80) scale(1.2410,0.5616)" x="-0.249" y="0.000" font-size="10" font-weight="bold" fill="#1FB41F">A</text>
<text transform="translate(497.56,237.94) scale(1.4138,1.6849)" x="-0.112" y="0.000" font-size="10" font-weight="bold" fill="#D00000">T</text>
<text transform="translate(506.61,241.80) scale(1.2338,2.2740)" x="-0.410" y="-0.098" font-size="10" font-weight="bold" fill="#FFB000">G</text>
<text transform="translate(515.66,241.80) scale(1.2338,0.1819)" x="-0.410" y="-0.098" font-size="10" font-weight="bold" fill="#FFB000">G</text>
<text transform="translate(515.66,240.51) scale(1.2410,0.3042)" x="-0.249" y="0.000" font-size="10" font-weight="bold" fill="#1FB41F">A</text>
<text transform="translate(515.66,238.42) scale(1.2735,0.6822)" x="-0.410" y="-0.098" font-size="10" font-weight="bold" fill="#1A1AD0">C</text>
<text transform="translate(515.66,233.59) scale(1.4138,0.9360)" x="-0.112" y="0.000" font-size="10" font-weight="bold" fill="#D00000">T</text>
<text transform="translate(524.71,241.80) scale(1.2338,0.1819)" x="-0.410" y="-0.098" font-size="10" font-weight="bold" fill="#FFB000">G</text>
<text transform="translate(524.71,240.51) scale(1.2410,0.4212)" x="-0.249" y="0.000" font-size="10" font-weight="bold" fill="#1FB41F">A</text>
<text transform="translate(524.71,237.61) scale(1.4138,0.7020)" x="-0.112" y="0.000" font-size="10" font-weight="bold" fill="#D00000">T</text>
<text transform="translate(524.71,232.78) scale(1.2735,0.7277)" x="-0.410" y="-0.098" font-size="10" font-weight="bold" fill="#1A1AD0">C</text>
<text transform="translate(533.76,241.80) scale(1.2338,0.1819)" x="-0.410" y="-0.098" font-size="10" font-weight="bold" fill="#FFB000">G</text>
<text transform="translate(533.76,240.51) scale(1.2410,0.4212)" x="-0.249" y="0.000" font-size="10" font-weight="bold" fill="#1FB41F">A</text>
<text transform="translate(533.76,237.61) scale(1.4138,0.7020)" x="-0.112" y="0.000" font-size="10" font-weight="bold" fill="#D00000">T</text>
<text transform="translate(533.76,232.78) scale(1.2735,0.7959)" x="-0.410" y="-0.098" font-size="10" font-weight="bold" fill="#1A1AD0">C</text>
<text transform="translate(542.81,241.80) scale(1.2735,0.1819)" x="-0.410" y="-0.098" font-size="10" font-weight="bold" fill="#1A1AD0">C</text>
<text transform="translate(542.81,240.51) scale(1.4138,0.3276)" x="-0.112" y="0.000" font-size="10" font-weight="bold" fill="#D00000">T</text>
<text transform="translate(542.81,238.26) scale(1.2338,0.6367)" x="-0.410" y="-0.098" font-size="10" font-weight="bold" fill="#FFB000">G</text>
<text transform="translate(542.81,233.75) scale(1.2410,0.8892)" x="-0.249" y="0.000" font-size="10" font-weight="bold" fill="#1FB41F">A</text>
<text transform="translate(551.86,241.80) scale(1.2735,0.1819)" x="-0.410" y="-0.098" font-size="10" font-weight="bold" fill="#1A1AD0">C</text>
<text transform="translate(551.86,240.51) scale(1.2410,0.5850)" x="-0.249" y="0.000" font-size="10" font-weight="bold" fill="#1FB41F">A</text>
<text transform="translate(551.86,236.49) scale(1.2338,1.2507)" x="-0.410" y="-0.098" font-size="10" font-weight="bold" fill="#FFB000">G</text>
<text transform="translate(560.91,241.80) scale(1.4138,0.1404)" x="-0.112" y="0.000" font-size="10" font-weight="bold" fill="#D00000">T</text>
<text transform="translate(560.91,240.83) scale(1.2338,0.7959)" x="-0.410" y="-0.098" font-size="10" font-weight="bold" fill="#FFB000">G</text>
<text transform="translate(560.91,235.20) scale(1.2410,1.0531)" x="-0.249" y="0.000" font-size="10" font-weight="bold" fill="#1FB41F">A</text>
<text transform="translate(569.96,241.80) scale(1.2735,2.2740)" x="-0.410" y="-0.098" font-size="10" font-weight="bold" fill="#1A1AD0">C</text>
<text transform="translate(579.01,241.80) scale(1.2735,0.1137)" x="-0.410" y="-0.098" font-size="10" font-weight="bold" fill="#1A1AD0">C</text>
<text transform="translate(579.01,241.00) scale(1.4138,0.2340)" x="-0.112" y="0.000" font-size="10" font-weight="bold" fill="#D00000">T</text>
<text transform="translate(579.01,239.38) scale(1.2410,1.8721)" x="-0.249" y="0.000" font-size="10" font-weight="bold" fill="#1FB41F">A</text>
<text transform="translate(588.06,241.80) scale(1.2410,0.5148)" x="-0.249" y="0.000" font-size="10" font-weight="bold" fill="#1FB41F">A</text>
<text transform="translate(588.06,238.26) scale(1.4138,1.6849)" x="-0.112" y="0.000" font-size="10" font-weight="bold" fill="#D00000">T</text>
<text transform="translate(597.11,241.80) scale(1.2338,2.2740)" x="-0.410" y="-0.098" font-size="10" font-weight="bold" fill="#FFB000">G</text>
<text transform="translate(606.16,241.80) scale(1.2410,0.2808)" x="-0.249" y="0.000" font-size="10" font-weight="bold" fill="#1FB41F">A</text>
<text transform="translate(606.16,239.87) scale(1.2735,0.6822)" x="-0.410" y="-0.098" font-size="10" font-weight="bold" fill="#1A1AD0">C</text>
<text transform="translate(606.16,235.04) scale(1.4138,1.0531)" x="-0.112" y="0.000" font-size="10" font-weight="bold" fill="#D00000">T</text>
<text transform="translate(615.21,241.80) scale(1.2338,0.2274)" x="-0.410" y="-0.098" font-size="10" font-weight="bold" fill="#FFB000">G</text>
<text transform="translate(615.21,240.19) scale(1.2410,0.4212)" x="-0.249" y="0.000" font-size="10" font-weight="bold" fill="#1FB41F">A</text>
<text transform="translate(615.21,237.29) scale(1.4138,0.6552)" x="-0.112" y="0.000" font-size="10" font-weight="bold" fill="#D00000">T</text>
<text transform="translate(615.21,232.78) scale(1.2735,0.7959)" x="-0.410" y="-0.098" font-size="10" font-weight="bold" fill="#1A1AD0">C</text>
<text transform="translate(624.26,241.80) scale(1.2338,0.2274)" x="-0.410" y="-0.098" font-size="10" font-weight="bold" fill="#FFB000">G</text>
<text transform="translate(624.26,240.19) scale(1.2410,0.4212)" x="-0.249" y="0.000" font-size="10" font-weight="bold" fill="#1FB41F">A</text>
<text transform="translate(624.26,237.29) scale(1.4138,0.6552)" x="-0.112" y="0.000" font-size="10" font-weight="bold" fill="#D00000">T</text>
<text transform="translate(624.26,232.78) scale(1.2735,0.7959)" x="-0.410" y="-0.098" font-size="10" font-weight="bold" fill="#1A1AD0">C</text>
<text transform="translate(633.31,241.80) scale(1.2338,0.3184)" x="-0.410" y="-0.098" font-size="10" font-weight="bold" fill="#FFB000">G</text>
<text transform="translate(633.31,239.55) scale(1.4138,0.4680)" x="-0.112" y="0.000" font-size="10" font-weight="bold" fill="#D00000">T</text>
<text transform="translate(633.31,236.33) scale(1.2410,0.5850)" x="-0.249" y="0.000" font-size="10" font-weight="bold" fill="#1FB41F">A</text>
<text transform="translate(633.31,232.30) scale(1.2735,0.7277)" x="-0.410" y="-0.098" font-size="10" font-weight="bold" fill="#1A1AD0">C</text>
<text transform="translate(461.36,261.50) scale(1.4138,0.4924)" x="-0.112" y="0.000" font-size="10" font-weight="bold" fill="#D00000">T</text>
<text transform="translate(461.36,258.11) scale(1.2338,0.5438)" x="-0.410" y="-0.098" font-size="10" font-weight="bold" fill="#FFB000">G</text>
<text transform="translate(461.36,254.26) scale(1.2735,0.5655)" x="-0.410" y="-0.098" font-size="10" font-weight="bold" fill="#1A1AD0">C</text>
<text transform="translate(461.36,250.26) scale(1.2410,0.4924)" x="-0.249" y="0.000" font-size="10" font-weight="bold" fill="#1FB41F">A</text>
<text transform="translate(470.41,261.50) scale(1.2338,0.2828)" x="-0.410" y="-0.098" font-size="10" font-weight="bold" fill="#FFB000">G</text>
<text transform="translate(470.41,259.50) scale(1.2410,1.8355)" x="-0.249" y="0.000" font-size="10" font-weight="bold" fill="#1FB41F">A</text>
<text transform="translate(479.46,261.50) scale(1.2735,2.1751)" x="-0.410" y="-0.098" font-size="10" font-weight="bold" fill="#1A1AD0">C</text>
<text transform="translate(488.51,261.50) scale(1.4138,0.1791)" x="-0.112" y="0.000" font-size="10" font-weight="bold" fill="#D00000">T</text>
<text transform="translate(488.51,260.27) scale(1.2410,1.9026)" x="-0.249" y="0.000" font-size="10" font-weight="bold" fill="#1FB41F">A</text>
<text transform="translate(497.56,261.50) scale(1.2410,0.2238)" x="-0.249" y="0.000" font-size="10" font-weight="bold" fill="#1FB41F">A</text>
<text transform="translate(497.56,259.96) scale(1.4138,1.9026)" x="-0.112" y="0.000" font-size="10" font-weight="bold" fill="#D00000">T</text>
<text transform="translate(506.61,261.50) scale(1.2338,2.1751)" x="-0.410" y="-0.098" font-size="10" font-weight="bold" fill="#FFB000">G</text>
<text transform="translate(515.66,261.50) scale(1.2338,0.1305)" x="-0.410" y="-0.098" font-size="10" font-weight="bold" fill="#FFB000">G</text>
<text transform="translate(515.66,260.58) scale(1.2410,0.4477)" x="-0.249" y="0.000" font-size="10" font-weight="bold" fill="#1FB41F">A</text>
<text transform="translate(515.66,257.50) scale(1.2735,0.6525)" x="-0.410" y="-0.098" font-size="10" font-weight="bold" fill="#1A1AD0">C</text>
<text transform="translate(515.66,252.88) scale(1.4138,0.7834)" x="-0.112" y="0.000" font-size="10" font-weight="bold" fill="#D00000">T</text>
<text transform="translate(524.71,261.50) scale(1.2410,0.4029)" x="-0.249" y="0.000" font-size="10" font-weight="bold" fill="#1FB41F">A</text>
<text transform="translate(524.71,258.73) scale(1.4138,0.6267)" x="-0.112" y="0.000" font-size="10" font-weight="bold" fill="#D00000">T</text>
<text transform="translate(524.71,254.42) scale(1.2735,0.9136)" x="-0.410" y="-0.098" font-size="10" font-weight="bold" fill="#1A1AD0">C</text>
<text transform="translate(533.76,261.50) scale(1.2410,0.2686)" x="-0.249" y="0.000" font-size="10" font-weight="bold" fill="#1FB41F">A</text>
<text transform="translate(533.76,259.65) scale(1.2735,1.7401)" x="-0.410" y="-0.098" font-size="10" font-weight="bold" fill="#1A1AD0">C</text>
<text transform="translate(542.81,261.50) scale(1.4138,0.1791)" x="-0.112" y="0.000" font-size="10" font-weight="bold" fill="#D00000">T</text>
<text transform="translate(542.81,260.27) scale(1.2410,1.9026)" x="-0.249" y="0.000" font-size="10" font-weight="bold" fill="#1FB41F">A</text>
<text transform="translate(551.86,261.50) scale(1.2410,0.2238)" x="-0.249" y="0.000" font-size="10" font-weight="bold" fill="#1FB41F">A</text>
<text transform="translate(551.86,259.96) scale(1.2338,1.8489)" x="-0.410" y="-0.098" font-size="10" font-weight="bold" fill="#FFB000">G</text>
<text transform="translate(560.91,261.50) scale(1.2735,0.1740)" x="-0.410" y="-0.098" font-size="10" font-weight="bold" fill="#1A1AD0">C</text>
<text transform="translate(560.91,260.27) scale(1.2410,1.9026)" x="-0.249" y="0.000" font-size="10" font-weight="bold" fill="#1FB41F">A</text>
<text transform="translate(569.96,261.50) scale(1.2735,2.1751)" x="-0.410" y="-0.098" font-size="10" font-weight="bold" fill="#1A1AD0">C</text>
<text transform="translate(579.01,261.50) scale(1.2410,2.2384)" x="-0.249" y="0.000" font-size="10" font-weight="bold" fill="#1FB41F">A</text>
<text transform="translate(588.06,261.50) scale(1.4138,2.2384)" x="-0.112" y="0.000" font-size="10" font-weight="bold" fill="#D00000">T</text>
<text transform="translate(597.11,261.50) scale(1.2338,2.1751)" x="-0.410" y="-0.098" font-size="10" font-weight="bold" fill="#FFB000">G</text>
<text transform="translate(606.16,261.50) scale(1.4138,2.0593)" x="-0.112" y="0.000" font-size="10" font-weight="bold" fill="#D00000">T</text>
<text transform="translate(615.21,261.50) scale(1.2410,0.2686)" x="-0.249" y="0.000" font-size="10" font-weight="bold" fill="#1FB41F">A</text>
<text transform="translate(615.21,259.65) scale(1.2735,0.5438)" x="-0.410" y="-0.098" font-size="10" font-weight="bold" fill="#1A1AD0">C</text>
<text transform="translate(615.21,255.80) scale(1.4138,1.2311)" x="-0.112" y="0.000" font-size="10" font-weight="bold" fill="#D00000">T</text>
<text transform="translate(624.26,261.50) scale(1.2410,0.4029)" x="-0.249" y="0.000" font-size="10" font-weight="bold" fill="#1FB41F">A</text>
<text transform="translate(624.26,258.73) scale(1.2735,0.6090)" x="-0.410" y="-0.098" font-size="10" font-weight="bold" fill="#1A1AD0">C</text>
<text transform="translate(624.26,254.42) scale(1.4138,1.0073)" x="-0.112" y="0.000" font-size="10" font-weight="bold" fill="#D00000">T</text>
<text transform="translate(633.31,261.50) scale(1.4138,0.4924)" x="-0.112" y="0.000" font-size="10" font-weight="bold" fill="#D00000">T</text>
<text transform="translate(633.31,258.11) scale(1.2338,0.5438)" x="-0.410" y="-0.098" font-size="10" font-weight="bold" fill="#FFB000">G</text>
<text transform="translate(633.31,254.26) scale(1.2735,0.5655)" x="-0.410" y="-0.098" font-size="10" font-weight="bold" fill="#1A1AD0">C</text>
<text transform="translate(633.31,250.26) scale(1.2410,0.4924)" x="-0.249" y="0.000" font-size="10" font-weight="bold" fill="#1FB41F">A</text>
<text transform="translate(461.36,281.20) scale(1.4138,0.4924)" x="-0.112" y="0.000" font-size="10" font-weight="bold" fill="#D00000">T</text>
<text transform="translate(461.36,277.81) scale(1.2338,0.5438)" x="-0.410" y="-0.098" font-size="10" font-weight="bold" fill="#FFB000">G</text>
<text transform="translate(461.36,273.96) scale(1.2735,0.5655)" x="-0.410" y="-0.098" font-size="10" font-weight="bold" fill="#1A1AD0">C</text>
<text transform="translate(461.36,269.96) scale(1.2410,0.4924)" x="-0.249" y="0.000" font-size="10" font-weight="bold" fill="#1FB41F">A</text>
<text transform="translate(470.41,281.20) scale(1.4138,0.4924)" x="-0.112" y="0.000" font-size="10" font-weight="bold" fill="#D00000">T</text>
<text transform="translate(470.41,277.81) scale(1.2338,0.5438)" x="-0.410" y="-0.098" font-size="10" font-weight="bold" fill="#FFB000">G</text>
<text transform="translate(470.41,273.96) scale(1.2735,0.5655)" x="-0.410" y="-0.098" font-size="10" font-weight="bold" fill="#1A1AD0">C</text>
<text transform="translate(470.41,269.96) scale(1.2410,0.4924)" x="-0.249" y="0.000" font-size="10" font-weight="bold" fill="#1FB41F">A</text>
<text transform="translate(479.46,281.20) scale(1.4138,0.4924)" x="-0.112" y="0.000" font-size="10" font-weight="bold" fill="#D00000">T</text>
<text transform="translate(479.46,277.81) scale(1.2338,0.5438)" x="-0.410" y="-0.098" font-size="10" font-weight="bold" fill="#FFB000">G</text>
<text transform="translate(479.46,273.96) scale(1.2735,0.5655)" x="-0.410" y="-0.098" font-size="10" font-weight="bold" fill="#1A1AD0">C</text>
<text transform="translate(479.46,269.96) scale(1.2410,0.4924)" x="-0.249" y="0.000" font-size="10" font-weight="bold" fill="#1FB41F">A</text>
<text transform="translate(488.51,281.20) scale(1.4138,0.4924)" x="-0.112" y="0.000" font-size="10" font-weight="bold" fill="#D00000">T</text>
<text transform="translate(488.51,277.81) scale(1.2338,0.5438)" x="-0.410" y="-0.098" font-size="10" font-weight="bold" fill="#FFB000">G</text>
<text transform="translate(488.51,273.96) scale(1.2735,0.5655)" x="-0.410" y="-0.098" font-size="10" font-weight="bold" fill="#1A1AD0">C</text>
<text transform="translate(488.51,269.96) scale(1.2410,0.4924)" x="-0.249" y="0.000" font-size="10" font-weight="bold" fill="#1FB41F">A</text>
<text transform="translate(497.56,281.20) scale(1.4138,0.4924)" x="-0.112" y="0.000" font-size="10" font-weight="bold" fill="#D00000">T</text>
<text transform="translate(497.56,277.81) scale(1.2338,0.5438)" x="-0.410" y="-0.098" font-size="10" font-weight="bold" fill="#FFB000">G</text>
<text transform="translate(497.56,273.96) scale(1.2735,0.5655)" x="-0.410" y="-0.098" font-size="10" font-weight="bold" fill="#1A1AD0">C</text>
<text transform="translate(497.56,269.96) scale(1.2410,0.4924)" x="-0.249" y="0.000" font-size="10" font-weight="bold" fill="#1FB41F">A</text>
<text transform="translate(506.61,281.20) scale(1.2338,2.1751)" x="-0.410" y="-0.098" font-size="10" font-weight="bold" fill="#FFB000">G</text>
<text transform="translate(515.66,281.20) scale(1.4138,2.2384)" x="-0.112" y="0.000" font-size="10" font-weight="bold" fill="#D00000">T</text>
<text transform="translate(524.71,281.20) scale(1.2735,2.1751)" x="-0.410" y="-0.098" font-size="10" font-weight="bold" fill="#1A1AD0">C</text>
<text transform="translate(533.76,281.20) scale(1.2410,0.1791)" x="-0.249" y="0.000" font-size="10" font-weight="bold" fill="#1FB41F">A</text>
<text transform="translate(533.76,279.97) scale(1.2735,1.8489)" x="-0.410" y="-0.098" font-size="10" font-weight="bold" fill="#1A1AD0">C</text>
<text transform="translate(542.81,281.20) scale(1.2735,0.8701)" x="-0.410" y="-0.098" font-size="10" font-weight="bold" fill="#1A1AD0">C</text>
<text transform="translate(542.81,275.04) scale(1.4138,1.1192)" x="-0.112" y="0.000" font-size="10" font-weight="bold" fill="#D00000">T</text>
<text transform="translate(551.86,281.20) scale(1.2338,2.1751)" x="-0.410" y="-0.098" font-size="10" font-weight="bold" fill="#FFB000">G</text>
<text transform="translate(560.91,281.20) scale(1.4138,2.2384)" x="-0.112" y="0.000" font-size="10" font-weight="bold" fill="#D00000">T</text>
<text transform="translate(569.96,281.20) scale(1.2735,2.1751)" x="-0.410" y="-0.098" font-size="10" font-weight="bold" fill="#1A1AD0">C</text>
<text transform="translate(579.01,281.20) scale(1.2410,0.4029)" x="-0.249" y="0.000" font-size="10" font-weight="bold" fill="#1FB41F">A</text>
<text transform="translate(579.01,278.43) scale(1.2735,1.6314)" x="-0.410" y="-0.098" font-size="10" font-weight="bold" fill="#1A1AD0">C</text>
<text transform="translate(588.06,281.20) scale(1.4138,2.2384)" x="-0.112" y="0.000" font-size="10" font-weight="bold" fill="#D00000">T</text>
<text transform="translate(597.11,281.20) scale(1.2338,2.1751)" x="-0.410" y="-0.098" font-size="10" font-weight="bold" fill="#FFB000">G</text>
<text transform="translate(606.16,281.20) scale(1.2735,0.3263)" x="-0.410" y="-0.098" font-size="10" font-weight="bold" fill="#1A1AD0">C</text>
<text transform="translate(606.16,278.89) scale(1.4138,1.7907)" x="-0.112" y="0.000" font-size="10" font-weight="bold" fill="#D00000">T</text>
<text transform="translate(615.21,281.20) scale(1.4138,0.4924)" x="-0.112" y="0.000" font-size="10" font-weight="bold" fill="#D00000">T</text>
<text transform="translate(615.21,277.81) scale(1.2338,0.5438)" x="-0.410" y="-0.098" font-size="10" font-weight="bold" fill="#FFB000">G</text>
<text transform="translate(615.21,273.96) scale(1.2735,0.5655)" x="-0.410" y="-0.098" font-size="10" font-weight="bold" fill="#1A1AD0">C</text>
<text transform="translate(615.21,269.96) scale(1.2410,0.4924)" x="-0.249" y="0.000" font-size="10" font-weight="bold" fill="#1FB41F">A</text>
<text transform="translate(498.39,335.20) scale(1.3720,0.3124)" x="-0.410" y="-0.098" font-size="10" font-weight="bold" fill="#1A1AD0">C</text>
<text transform="translate(498.39,332.99) scale(1.5232,0.4134)" x="-0.112" y="0.000" font-size="10" font-weight="bold" fill="#D00000">T</text>
<text transform="translate(498.39,330.14) scale(1.3370,0.7349)" x="-0.249" y="0.000" font-size="10" font-weight="bold" fill="#1FB41F">A</text>
<text transform="translate(498.39,325.09) scale(1.3293,0.6695)" x="-0.410" y="-0.098" font-size="10" font-weight="bold" fill="#FFB000">G</text>
<text transform="translate(508.14,335.20) scale(1.3720,0.4017)" x="-0.410" y="-0.098" font-size="10" font-weight="bold" fill="#1A1AD0">C</text>
<text transform="translate(508.14,332.36) scale(1.3293,0.6249)" x="-0.410" y="-0.098" font-size="10" font-weight="bold" fill="#FFB000">G</text>
<text transform="translate(508.14,327.93) scale(1.3370,1.0334)" x="-0.249" y="0.000" font-size="10" font-weight="bold" fill="#1FB41F">A</text>
<text transform="translate(517.89,335.20) scale(1.5232,2.2965)" x="-0.112" y="0.000" font-size="10" font-weight="bold" fill="#D00000">T</text>
<text transform="translate(527.64,335.20) scale(1.3293,2.2316)" x="-0.410" y="-0.098" font-size="10" font-weight="bold" fill="#FFB000">G</text>
<text transform="translate(537.39,335.20) scale(1.3370,2.2965)" x="-0.249" y="0.000" font-size="10" font-weight="bold" fill="#1FB41F">A</text>
<text transform="translate(547.14,335.20) scale(1.3293,0.9373)" x="-0.410" y="-0.098" font-size="10" font-weight="bold" fill="#FFB000">G</text>
<text transform="translate(547.14,328.56) scale(1.3720,1.2274)" x="-0.410" y="-0.098" font-size="10" font-weight="bold" fill="#1A1AD0">C</text>
<text transform="translate(556.89,335.20) scale(1.5232,2.2965)" x="-0.112" y="0.000" font-size="10" font-weight="bold" fill="#D00000">T</text>
<text transform="translate(566.64,335.20) scale(1.3720,2.2316)" x="-0.410" y="-0.098" font-size="10" font-weight="bold" fill="#1A1AD0">C</text>
<text transform="translate(576.39,335.20) scale(1.3370,2.2965)" x="-0.249" y="0.000" font-size="10" font-weight="bold" fill="#1FB41F">A</text>
<text transform="translate(586.14,335.20) scale(1.3293,0.4910)" x="-0.410" y="-0.098" font-size="10" font-weight="bold" fill="#FFB000">G</text>
<text transform="translate(586.14,331.72) scale(1.3720,0.6695)" x="-0.410" y="-0.098" font-size="10" font-weight="bold" fill="#1A1AD0">C</text>
<text transform="translate(586.14,326.98) scale(1.5232,0.9186)" x="-0.112" y="0.000" font-size="10" font-weight="bold" fill="#D00000">T</text>
<text transform="translate(595.89,335.20) scale(1.3293,0.3347)" x="-0.410" y="-0.098" font-size="10" font-weight="bold" fill="#FFB000">G</text>
<text transform="translate(595.89,332.83) scale(1.3370,0.5741)" x="-0.249" y="0.000" font-size="10" font-weight="bold" fill="#1FB41F">A</text>
<text transform="translate(595.89,328.88) scale(1.5232,0.5741)" x="-0.112" y="0.000" font-size="10" font-weight="bold" fill="#D00000">T</text>
<text transform="translate(595.89,324.93) scale(1.3720,0.6695)" x="-0.410" y="-0.098" font-size="10" font-weight="bold" fill="#1A1AD0">C</text>
<text transform="translate(605.64,335.20) scale(1.3293,0.3347)" x="-0.410" y="-0.098" font-size="10" font-weight="bold" fill="#FFB000">G</text>
<text transform="translate(605.64,332.83) scale(1.5232,0.5052)" x="-0.112" y="0.000" font-size="10" font-weight="bold" fill="#D00000">T</text>
<text transform="translate(605.64,329.35) scale(1.3370,0.6890)" x="-0.249" y="0.000" font-size="10" font-weight="bold" fill="#1FB41F">A</text>
<text transform="translate(605.64,324.61) scale(1.3720,0.6695)" x="-0.410" y="-0.098" font-size="10" font-weight="bold" fill="#1A1AD0">C</text>
<text transform="translate(498.38,355.20) scale(1.4997,0.2669)" x="-0.112" y="0.000" font-size="10" font-weight="bold" fill="#D00000">T</text>
<text transform="translate(498.38,353.36) scale(1.3164,0.4448)" x="-0.249" y="0.000" font-size="10" font-weight="bold" fill="#1FB41F">A</text>
<text transform="translate(498.38,350.30) scale(1.3088,0.5403)" x="-0.410" y="-0.098" font-size="10" font-weight="bold" fill="#FFB000">G</text>
<text transform="translate(498.38,346.48) scale(1.3509,0.8644)" x="-0.410" y="-0.098" font-size="10" font-weight="bold" fill="#1A1AD0">C</text>
<text transform="translate(507.98,355.20) scale(1.4997,0.2669)" x="-0.112" y="0.000" font-size="10" font-weight="bold" fill="#D00000">T</text>
<text transform="translate(507.98,353.36) scale(1.3164,0.4448)" x="-0.249" y="0.000" font-size="10" font-weight="bold" fill="#1FB41F">A</text>
<text transform="translate(507.98,350.30) scale(1.3088,0.5403)" x="-0.410" y="-0.098" font-size="10" font-weight="bold" fill="#FFB000">G</text>
<text transform="translate(507.98,346.48) scale(1.3509,0.8644)" x="-0.410" y="-0.098" font-size="10" font-weight="bold" fill="#1A1AD0">C</text>
<text transform="translate(517.58,355.20) scale(1.3088,0.3242)" x="-0.410" y="-0.098" font-size="10" font-weight="bold" fill="#FFB000">G</text>
<text transform="translate(517.58,352.90) scale(1.3509,0.4322)" x="-0.410" y="-0.098" font-size="10" font-weight="bold" fill="#1A1AD0">C</text>
<text transform="translate(517.58,349.84) scale(1.4997,0.6672)" x="-0.112" y="0.000" font-size="10" font-weight="bold" fill="#D00000">T</text>
<text transform="translate(517.58,345.25) scale(1.3164,0.7116)" x="-0.249" y="0.000" font-size="10" font-weight="bold" fill="#1FB41F">A</text>
<text transform="translate(527.18,355.20) scale(1.3088,2.1610)" x="-0.410" y="-0.098" font-size="10" font-weight="bold" fill="#FFB000">G</text>
<text transform="translate(536.78,355.20) scale(1.3088,2.1610)" x="-0.410" y="-0.098" font-size="10" font-weight="bold" fill="#FFB000">G</text>
<text transform="translate(546.38,355.20) scale(1.3509,0.1729)" x="-0.410" y="-0.098" font-size="10" font-weight="bold" fill="#1A1AD0">C</text>
<text transform="translate(546.38,353.98) scale(1.4997,0.2224)" x="-0.112" y="0.000" font-size="10" font-weight="bold" fill="#D00000">T</text>
<text transform="translate(546.38,352.45) scale(1.3164,1.7346)" x="-0.249" y="0.000" font-size="10" font-weight="bold" fill="#1FB41F">A</text>
<text transform="translate(555.98,355.20) scale(1.3164,2.2238)" x="-0.249" y="0.000" font-size="10" font-weight="bold" fill="#1FB41F">A</text>
<text transform="translate(565.58,355.20) scale(1.4997,2.2238)" x="-0.112" y="0.000" font-size="10" font-weight="bold" fill="#D00000">T</text>
<text transform="translate(575.18,355.20) scale(1.3509,0.4754)" x="-0.410" y="-0.098" font-size="10" font-weight="bold" fill="#1A1AD0">C</text>
<text transform="translate(575.18,351.83) scale(1.4997,0.6672)" x="-0.112" y="0.000" font-size="10" font-weight="bold" fill="#D00000">T</text>
<text transform="translate(575.18,347.24) scale(1.3088,0.8644)" x="-0.410" y="-0.098" font-size="10" font-weight="bold" fill="#FFB000">G</text>
<text transform="translate(584.78,355.20) scale(1.4997,0.9340)" x="-0.112" y="0.000" font-size="10" font-weight="bold" fill="#D00000">T</text>
<text transform="translate(584.78,348.77) scale(1.3509,1.0805)" x="-0.410" y="-0.098" font-size="10" font-weight="bold" fill="#1A1AD0">C</text>
<text transform="translate(498.36,375.60) scale(1.2366,2.0763)" x="-0.410" y="-0.098" font-size="10" font-weight="bold" fill="#FFB000">G</text>
<text transform="translate(507.43,375.60) scale(1.2366,2.0763)" x="-0.410" y="-0.098" font-size="10" font-weight="bold" fill="#FFB000">G</text>
<text transform="translate(516.50,375.60) scale(1.4169,0.1282)" x="-0.112" y="0.000" font-size="10" font-weight="bold" fill="#D00000">T</text>
<text transform="translate(516.50,374.72) scale(1.2763,0.2076)" x="-0.410" y="-0.098" font-size="10" font-weight="bold" fill="#1A1AD0">C</text>
<text transform="translate(516.50,373.25) scale(1.2438,0.3846)" x="-0.249" y="0.000" font-size="10" font-weight="bold" fill="#1FB41F">A</text>
<text transform="translate(516.50,370.60) scale(1.2366,1.2873)" x="-0.410" y="-0.098" font-size="10" font-weight="bold" fill="#FFB000">G</text>
<text transform="translate(525.57,375.60) scale(1.4169,0.1282)" x="-0.112" y="0.000" font-size="10" font-weight="bold" fill="#D00000">T</text>
<text transform="translate(525.57,374.72) scale(1.2763,0.2076)" x="-0.410" y="-0.098" font-size="10" font-weight="bold" fill="#1A1AD0">C</text>
<text transform="translate(525.57,373.25) scale(1.2438,0.3846)" x="-0.249" y="0.000" font-size="10" font-weight="bold" fill="#1FB41F">A</text>
<text transform="translate(525.57,370.60) scale(1.2366,1.2873)" x="-0.410" y="-0.098" font-size="10" font-weight="bold" fill="#FFB000">G</text>
<text transform="translate(534.64,375.60) scale(1.2763,0.1246)" x="-0.410" y="-0.098" font-size="10" font-weight="bold" fill="#1A1AD0">C</text>
<text transform="translate(534.64,374.72) scale(1.2438,0.2137)" x="-0.249" y="0.000" font-size="10" font-weight="bold" fill="#1FB41F">A</text>
<text transform="translate(534.64,373.25) scale(1.2366,1.6610)" x="-0.410" y="-0.098" font-size="10" font-weight="bold" fill="#FFB000">G</text>
<text transform="translate(543.71,375.60) scale(1.2366,2.0763)" x="-0.410" y="-0.098" font-size="10" font-weight="bold" fill="#FFB000">G</text>
<text transform="translate(552.78,375.60) scale(1.2366,2.0763)" x="-0.410" y="-0.098" font-size="10" font-weight="bold" fill="#FFB000">G</text>
<text transform="translate(561.85,375.60) scale(1.2366,2.0763)" x="-0.410" y="-0.098" font-size="10" font-weight="bold" fill="#FFB000">G</text>
<text transform="translate(498.40,396.00) scale(1.3973,0.1729)" x="-0.410" y="-0.098" font-size="10" font-weight="bold" fill="#1A1AD0">C</text>
<text transform="translate(498.40,394.78) scale(1.3538,1.8369)" x="-0.410" y="-0.098" font-size="10" font-weight="bold" fill="#FFB000">G</text>
<text transform="translate(508.33,396.00) scale(1.3538,0.1729)" x="-0.410" y="-0.098" font-size="10" font-weight="bold" fill="#FFB000">G</text>
<text transform="translate(508.33,394.78) scale(1.3973,1.8369)" x="-0.410" y="-0.098" font-size="10" font-weight="bold" fill="#1A1AD0">C</text>
<text transform="translate(518.26,396.00) scale(1.3617,0.1334)" x="-0.249" y="0.000" font-size="10" font-weight="bold" fill="#1FB41F">A</text>
<text transform="translate(518.26,395.08) scale(1.5513,1.9570)" x="-0.112" y="0.000" font-size="10" font-weight="bold" fill="#D00000">T</text>
<text transform="translate(528.19,396.00) scale(1.3617,0.2224)" x="-0.249" y="0.000" font-size="10" font-weight="bold" fill="#1FB41F">A</text>
<text transform="translate(528.19,394.47) scale(1.3538,1.7720)" x="-0.410" y="-0.098" font-size="10" font-weight="bold" fill="#FFB000">G</text>
<text transform="translate(538.12,396.00) scale(1.3617,2.2238)" x="-0.249" y="0.000" font-size="10" font-weight="bold" fill="#1FB41F">A</text>
<text transform="translate(548.05,396.00) scale(1.3538,1.0157)" x="-0.410" y="-0.098" font-size="10" font-weight="bold" fill="#FFB000">G</text>
<text transform="translate(548.05,388.81) scale(1.3973,1.0805)" x="-0.410" y="-0.098" font-size="10" font-weight="bold" fill="#1A1AD0">C</text>
<text transform="translate(557.98,396.00) scale(1.5513,2.2238)" x="-0.112" y="0.000" font-size="10" font-weight="bold" fill="#D00000">T</text>
<text transform="translate(567.91,396.00) scale(1.3973,2.1610)" x="-0.410" y="-0.098" font-size="10" font-weight="bold" fill="#1A1AD0">C</text>
<text transform="translate(577.84,396.00) scale(1.3617,2.2238)" x="-0.249" y="0.000" font-size="10" font-weight="bold" fill="#1FB41F">A</text>
<text transform="translate(587.77,396.00) scale(1.5513,0.3336)" x="-0.112" y="0.000" font-size="10" font-weight="bold" fill="#D00000">T</text>
<text transform="translate(587.77,393.70) scale(1.3538,1.6856)" x="-0.410" y="-0.098" font-size="10" font-weight="bold" fill="#FFB000">G</text>
<text transform="translate(597.70,396.00) scale(1.3538,0.1729)" x="-0.410" y="-0.098" font-size="10" font-weight="bold" fill="#FFB000">G</text>
<text transform="translate(597.70,394.78) scale(1.3617,0.2669)" x="-0.249" y="0.000" font-size="10" font-weight="bold" fill="#1FB41F">A</text>
<text transform="translate(597.70,392.94) scale(1.3973,1.6208)" x="-0.410" y="-0.098" font-size="10" font-weight="bold" fill="#1A1AD0">C</text>
<text transform="translate(607.63,396.00) scale(1.3538,0.2161)" x="-0.410" y="-0.098" font-size="10" font-weight="bold" fill="#FFB000">G</text>
<text transform="translate(607.63,394.47) scale(1.3973,0.2161)" x="-0.410" y="-0.098" font-size="10" font-weight="bold" fill="#1A1AD0">C</text>
<text transform="translate(607.63,392.94) scale(1.3617,1.6679)" x="-0.249" y="0.000" font-size="10" font-weight="bold" fill="#1FB41F">A</text>
<text x="544.60" y="219.90" font-size="4.96" font-weight="bold" text-anchor="middle" fill="#111" stroke="#111" stroke-width="0.18">De-novo motifs: p53</text>
<text x="453.50" y="233.90" font-size="5.85" text-anchor="end" fill="#222" stroke="#222" stroke-width="0.18">JASPAR</text>
<text x="453.50" y="240.00" font-size="5.85" text-anchor="end" fill="#222" stroke="#222" stroke-width="0.18">MA0106.3</text>
<text x="453.70" y="261.50" font-size="5.85" text-anchor="end" fill="#222" stroke="#222" stroke-width="0.18">2 fold loss</text>
<text x="453.70" y="268.50" font-size="5.85" text-anchor="end" fill="#222" stroke="#222" stroke-width="0.18">in DAXX KO</text>
<path d="M457.2,245.3 L455.5,246.3 L455.5,280.2 L457.2,281.2" fill="none" stroke="#888" stroke-width="0.7"/>
<text x="649.00" y="253.40" font-size="5.85" fill="#222" stroke="#222" stroke-width="0.18">#1: similarity</text>
<text x="649.00" y="260.40" font-size="5.85" fill="#222" stroke="#222" stroke-width="0.18">score 0.91</text>
<text x="649.00" y="273.50" font-size="5.85" fill="#222" stroke="#222" stroke-width="0.18">#2: similarity</text>
<text x="649.00" y="280.30" font-size="5.85" fill="#222" stroke="#222" stroke-width="0.18">score 0.60</text>
<text x="532.80" y="315.30" font-size="4.95" font-weight="bold" fill="#111" stroke="#111" stroke-width="0.18">Known motifs</text>
<text x="494.90" y="324.10" font-size="5.85" text-anchor="end" fill="#222" stroke="#222" stroke-width="0.18">TGAC/GTCA bZIP:</text>
<text x="494.90" y="331.10" font-size="5.85" text-anchor="end" fill="#222" stroke="#222" stroke-width="0.18">ATF3, FRA1, BATF, FASL2,</text>
<text x="494.90" y="337.80" font-size="5.85" text-anchor="end" fill="#222" stroke="#222" stroke-width="0.18">AP-1, JunB, Fra2</text>
<text x="496.60" y="350.10" font-size="5.85" text-anchor="end" fill="#222" stroke="#222" stroke-width="0.18">TEAD4</text>
<text x="496.60" y="372.60" font-size="5.85" text-anchor="end" fill="#222" stroke="#222" stroke-width="0.18">MAZ</text>
<text x="496.60" y="389.30" font-size="5.85" text-anchor="end" fill="#222" stroke="#222" stroke-width="0.18">MAFK</text>
<text x="622.00" y="330.90" font-size="5.85" fill="#222"><tspan font-style="italic">p</tspan> = 10<tspan font-size="3.6" dy="-2.4">-28</tspan></text>
<text x="624.10" y="349.40" font-size="5.85" fill="#222"><tspan font-style="italic">p</tspan> = 10<tspan font-size="3.6" dy="-2.4">-9</tspan></text>
<text x="624.10" y="371.60" font-size="5.85" fill="#222"><tspan font-style="italic">p</tspan> = 10<tspan font-size="3.6" dy="-2.4">-8</tspan></text>
<text x="624.10" y="392.20" font-size="5.85" fill="#222"><tspan font-style="italic">p</tspan> = 10<tspan font-size="3.6" dy="-2.4">-8</tspan></text>
<line x1="43.60" y1="472.90" x2="43.60" y2="540.50" stroke="#111" stroke-width="0.9"/>
<line x1="43.20" y1="540.10" x2="110.60" y2="540.10" stroke="#111" stroke-width="0.9"/>
<line x1="40.80" y1="540.10" x2="43.60" y2="540.10" stroke="#111" stroke-width="0.7"/>
<text x="40.10" y="542.44" font-size="5.1" font-weight="bold" text-anchor="end" fill="#222" stroke="#222" stroke-width="0.18">0.0</text>
<line x1="40.80" y1="517.70" x2="43.60" y2="517.70" stroke="#111" stroke-width="0.7"/>
<text x="40.10" y="520.04" font-size="5.1" font-weight="bold" text-anchor="end" fill="#222" stroke="#222" stroke-width="0.18">0.2</text>
<line x1="40.80" y1="495.30" x2="43.60" y2="495.30" stroke="#111" stroke-width="0.7"/>
<text x="40.10" y="497.64" font-size="5.1" font-weight="bold" text-anchor="end" fill="#222" stroke="#222" stroke-width="0.18">0.4</text>
<line x1="40.80" y1="472.90" x2="43.60" y2="472.90" stroke="#111" stroke-width="0.7"/>
<text x="40.10" y="475.24" font-size="5.1" font-weight="bold" text-anchor="end" fill="#222" stroke="#222" stroke-width="0.18">0.6</text>
<line x1="59.50" y1="540.10" x2="59.50" y2="542.50" stroke="#111" stroke-width="0.7"/>
<line x1="94.90" y1="540.10" x2="94.90" y2="542.50" stroke="#111" stroke-width="0.7"/>
<rect x="48.00" y="537.30" width="8.70" height="2.80" fill="#7a7a7a" stroke="#111" stroke-width="0.7"/>
<circle cx="49.45" cy="536.52" r="1.45" fill="#111" stroke="none" stroke-width="0.5"/>
<circle cx="52.35" cy="537.30" r="1.45" fill="#111" stroke="none" stroke-width="0.5"/>
<circle cx="55.25" cy="537.86" r="1.45" fill="#111" stroke="none" stroke-width="0.5"/>
<rect x="61.80" y="488.58" width="8.40" height="51.52" fill="#A00000" stroke="#111" stroke-width="0.7"/>
<line x1="66.00" y1="488.58" x2="66.00" y2="484.66" stroke="#111" stroke-width="0.7"/>
<line x1="64.00" y1="484.66" x2="68.00" y2="484.66" stroke="#111" stroke-width="0.7"/>
<circle cx="66.00" cy="481.86" r="1.45" fill="#111" stroke="none" stroke-width="0.5"/>
<circle cx="66.00" cy="487.46" r="1.45" fill="#111" stroke="none" stroke-width="0.5"/>
<circle cx="66.00" cy="496.42" r="1.45" fill="#111" stroke="none" stroke-width="0.5"/>
<rect x="83.90" y="532.26" width="8.70" height="7.84" fill="#7a7a7a" stroke="#111" stroke-width="0.7"/>
<circle cx="85.35" cy="530.58" r="1.45" fill="#111" stroke="none" stroke-width="0.5"/>
<circle cx="88.25" cy="532.26" r="1.45" fill="#111" stroke="none" stroke-width="0.5"/>
<circle cx="91.15" cy="532.82" r="1.45" fill="#111" stroke="none" stroke-width="0.5"/>
<rect x="97.70" y="519.38" width="8.40" height="20.72" fill="#A00000" stroke="#111" stroke-width="0.7"/>
<line x1="101.90" y1="519.38" x2="101.90" y2="518.93" stroke="#111" stroke-width="0.7"/>
<line x1="99.90" y1="518.93" x2="103.90" y2="518.93" stroke="#111" stroke-width="0.7"/>
<circle cx="99.00" cy="518.82" r="1.45" fill="#111" stroke="none" stroke-width="0.5"/>
<circle cx="101.90" cy="518.82" r="1.45" fill="#111" stroke="none" stroke-width="0.5"/>
<circle cx="104.80" cy="519.16" r="1.45" fill="#111" stroke="none" stroke-width="0.5"/>
<text x="83.05" y="454.20" font-size="10.0" font-weight="bold" text-anchor="middle" fill="#111" stroke="#111" stroke-width="0.18">p21 promoter</text>
<text x="83.75" y="468.00" font-size="10.2" text-anchor="middle" fill="#333" stroke="#333" stroke-width="0.18">p=.0176</text>
<path d="M66.60,478.90 L66.60,471.80 L102.50,471.80 L102.50,510.40" fill="none" stroke="#555" stroke-width="0.8"/>
<text x="58.05" y="550.50" font-size="8.7" font-weight="bold" text-anchor="middle" fill="#111" stroke="#111" stroke-width="0.18">Ctrl</text>
<text x="95.80" y="550.50" font-size="8.7" font-weight="bold" text-anchor="middle" fill="#111" stroke="#111" stroke-width="0.18">DAXX_KO</text>
<text transform="translate(29.10,506.90) rotate(-90)" x="-10.00" y="0" font-size="6.0" font-weight="bold" fill="#333" textLength="20.0" lengthAdjust="spacingAndGlyphs">% input</text>
<line x1="140.80" y1="472.90" x2="140.80" y2="540.50" stroke="#111" stroke-width="0.9"/>
<line x1="140.40" y1="540.10" x2="207.80" y2="540.10" stroke="#111" stroke-width="0.9"/>
<line x1="138.00" y1="540.10" x2="140.80" y2="540.10" stroke="#111" stroke-width="0.7"/>
<text x="137.30" y="542.44" font-size="5.1" font-weight="bold" text-anchor="end" fill="#222" stroke="#222" stroke-width="0.18">0.00</text>
<line x1="138.00" y1="526.66" x2="140.80" y2="526.66" stroke="#111" stroke-width="0.7"/>
<text x="137.30" y="529.00" font-size="5.1" font-weight="bold" text-anchor="end" fill="#222" stroke="#222" stroke-width="0.18">0.05</text>
<line x1="138.00" y1="513.22" x2="140.80" y2="513.22" stroke="#111" stroke-width="0.7"/>
<text x="137.30" y="515.56" font-size="5.1" font-weight="bold" text-anchor="end" fill="#222" stroke="#222" stroke-width="0.18">0.10</text>
<line x1="138.00" y1="499.78" x2="140.80" y2="499.78" stroke="#111" stroke-width="0.7"/>
<text x="137.30" y="502.12" font-size="5.1" font-weight="bold" text-anchor="end" fill="#222" stroke="#222" stroke-width="0.18">0.15</text>
<line x1="138.00" y1="486.34" x2="140.80" y2="486.34" stroke="#111" stroke-width="0.7"/>
<text x="137.30" y="488.68" font-size="5.1" font-weight="bold" text-anchor="end" fill="#222" stroke="#222" stroke-width="0.18">0.20</text>
<line x1="138.00" y1="472.90" x2="140.80" y2="472.90" stroke="#111" stroke-width="0.7"/>
<text x="137.30" y="475.24" font-size="5.1" font-weight="bold" text-anchor="end" fill="#222" stroke="#222" stroke-width="0.18">0.25</text>
<line x1="156.70" y1="540.10" x2="156.70" y2="542.50" stroke="#111" stroke-width="0.7"/>
<line x1="192.10" y1="540.10" x2="192.10" y2="542.50" stroke="#111" stroke-width="0.7"/>
<rect x="145.20" y="538.22" width="8.70" height="1.88" fill="#7a7a7a" stroke="#111" stroke-width="0.7"/>
<circle cx="146.65" cy="535.80" r="1.45" fill="#111" stroke="none" stroke-width="0.5"/>
<circle cx="149.55" cy="538.49" r="1.45" fill="#111" stroke="none" stroke-width="0.5"/>
<circle cx="152.45" cy="539.56" r="1.45" fill="#111" stroke="none" stroke-width="0.5"/>
<rect x="159.00" y="485.00" width="8.40" height="55.10" fill="#A00000" stroke="#111" stroke-width="0.7"/>
<line x1="163.20" y1="485.00" x2="163.20" y2="480.16" stroke="#111" stroke-width="0.7"/>
<line x1="161.20" y1="480.16" x2="165.20" y2="480.16" stroke="#111" stroke-width="0.7"/>
<circle cx="163.20" cy="477.74" r="1.45" fill="#111" stroke="none" stroke-width="0.5"/>
<circle cx="163.20" cy="483.11" r="1.45" fill="#111" stroke="none" stroke-width="0.5"/>
<circle cx="163.20" cy="494.94" r="1.45" fill="#111" stroke="none" stroke-width="0.5"/>
<rect x="181.10" y="536.87" width="8.70" height="3.23" fill="#7a7a7a" stroke="#111" stroke-width="0.7"/>
<circle cx="182.55" cy="534.46" r="1.45" fill="#111" stroke="none" stroke-width="0.5"/>
<circle cx="185.45" cy="537.14" r="1.45" fill="#111" stroke="none" stroke-width="0.5"/>
<circle cx="188.35" cy="537.95" r="1.45" fill="#111" stroke="none" stroke-width="0.5"/>
<rect x="194.90" y="525.32" width="8.40" height="14.78" fill="#A00000" stroke="#111" stroke-width="0.7"/>
<line x1="199.10" y1="525.32" x2="199.10" y2="523.97" stroke="#111" stroke-width="0.7"/>
<line x1="197.10" y1="523.97" x2="201.10" y2="523.97" stroke="#111" stroke-width="0.7"/>
<circle cx="196.20" cy="523.17" r="1.45" fill="#111" stroke="none" stroke-width="0.5"/>
<circle cx="199.10" cy="525.32" r="1.45" fill="#111" stroke="none" stroke-width="0.5"/>
<circle cx="202.00" cy="526.12" r="1.45" fill="#111" stroke="none" stroke-width="0.5"/>
<text x="185.15" y="454.20" font-size="10.0" font-weight="bold" text-anchor="middle" fill="#111" stroke="#111" stroke-width="0.18">GADD45A</text>
<text x="180.50" y="468.00" font-size="10.2" text-anchor="middle" fill="#333" stroke="#333" stroke-width="0.18">p=.0147</text>
<path d="M163.40,476.40 L163.40,471.50 L199.70,471.50 L199.70,511.00" fill="none" stroke="#555" stroke-width="0.8"/>
<text x="155.30" y="550.50" font-size="8.7" font-weight="bold" text-anchor="middle" fill="#111" stroke="#111" stroke-width="0.18">Ctrl</text>
<text x="192.90" y="550.50" font-size="8.7" font-weight="bold" text-anchor="middle" fill="#111" stroke="#111" stroke-width="0.18">DAXX_KO</text>
<text transform="translate(123.80,506.90) rotate(-90)" x="-10.00" y="0" font-size="6.0" font-weight="bold" fill="#333" textLength="20.0" lengthAdjust="spacingAndGlyphs">% input</text>
<line x1="241.60" y1="472.90" x2="241.60" y2="540.50" stroke="#111" stroke-width="0.9"/>
<line x1="241.20" y1="540.10" x2="308.60" y2="540.10" stroke="#111" stroke-width="0.9"/>
<line x1="238.80" y1="540.10" x2="241.60" y2="540.10" stroke="#111" stroke-width="0.7"/>
<text x="238.10" y="542.44" font-size="5.1" font-weight="bold" text-anchor="end" fill="#222" stroke="#222" stroke-width="0.18">0.00</text>
<line x1="238.80" y1="526.66" x2="241.60" y2="526.66" stroke="#111" stroke-width="0.7"/>
<text x="238.10" y="529.00" font-size="5.1" font-weight="bold" text-anchor="end" fill="#222" stroke="#222" stroke-width="0.18">0.02</text>
<line x1="238.80" y1="513.22" x2="241.60" y2="513.22" stroke="#111" stroke-width="0.7"/>
<text x="238.10" y="515.56" font-size="5.1" font-weight="bold" text-anchor="end" fill="#222" stroke="#222" stroke-width="0.18">0.04</text>
<line x1="238.80" y1="499.78" x2="241.60" y2="499.78" stroke="#111" stroke-width="0.7"/>
<text x="238.10" y="502.12" font-size="5.1" font-weight="bold" text-anchor="end" fill="#222" stroke="#222" stroke-width="0.18">0.06</text>
<line x1="238.80" y1="486.34" x2="241.60" y2="486.34" stroke="#111" stroke-width="0.7"/>
<text x="238.10" y="488.68" font-size="5.1" font-weight="bold" text-anchor="end" fill="#222" stroke="#222" stroke-width="0.18">0.08</text>
<line x1="238.80" y1="472.90" x2="241.60" y2="472.90" stroke="#111" stroke-width="0.7"/>
<text x="238.10" y="475.24" font-size="5.1" font-weight="bold" text-anchor="end" fill="#222" stroke="#222" stroke-width="0.18">0.10</text>
<line x1="257.50" y1="540.10" x2="257.50" y2="542.50" stroke="#111" stroke-width="0.7"/>
<line x1="292.90" y1="540.10" x2="292.90" y2="542.50" stroke="#111" stroke-width="0.7"/>
<rect x="246.00" y="537.41" width="8.70" height="2.69" fill="#7a7a7a" stroke="#111" stroke-width="0.7"/>
<circle cx="247.45" cy="536.40" r="1.45" fill="#111" stroke="none" stroke-width="0.5"/>
<circle cx="250.35" cy="537.41" r="1.45" fill="#111" stroke="none" stroke-width="0.5"/>
<circle cx="253.25" cy="538.08" r="1.45" fill="#111" stroke="none" stroke-width="0.5"/>
<rect x="259.80" y="491.04" width="8.40" height="49.06" fill="#A00000" stroke="#111" stroke-width="0.7"/>
<line x1="264.00" y1="491.04" x2="264.00" y2="490.37" stroke="#111" stroke-width="0.7"/>
<line x1="262.00" y1="490.37" x2="266.00" y2="490.37" stroke="#111" stroke-width="0.7"/>
<circle cx="261.10" cy="489.36" r="1.45" fill="#111" stroke="none" stroke-width="0.5"/>
<circle cx="264.00" cy="490.71" r="1.45" fill="#111" stroke="none" stroke-width="0.5"/>
<circle cx="266.90" cy="491.72" r="1.45" fill="#111" stroke="none" stroke-width="0.5"/>
<rect x="281.90" y="538.08" width="8.70" height="2.02" fill="#7a7a7a" stroke="#111" stroke-width="0.7"/>
<circle cx="283.35" cy="538.08" r="1.45" fill="#111" stroke="none" stroke-width="0.5"/>
<circle cx="286.25" cy="538.08" r="1.45" fill="#111" stroke="none" stroke-width="0.5"/>
<circle cx="289.15" cy="538.08" r="1.45" fill="#111" stroke="none" stroke-width="0.5"/>
<rect x="295.70" y="515.24" width="8.40" height="24.86" fill="#A00000" stroke="#111" stroke-width="0.7"/>
<line x1="299.90" y1="515.24" x2="299.90" y2="513.22" stroke="#111" stroke-width="0.7"/>
<line x1="297.90" y1="513.22" x2="301.90" y2="513.22" stroke="#111" stroke-width="0.7"/>
<circle cx="299.90" cy="510.87" r="1.45" fill="#111" stroke="none" stroke-width="0.5"/>
<circle cx="298.45" cy="516.58" r="1.45" fill="#111" stroke="none" stroke-width="0.5"/>
<circle cx="301.35" cy="517.92" r="1.45" fill="#111" stroke="none" stroke-width="0.5"/>
<text x="281.35" y="454.20" font-size="10.0" font-weight="bold" text-anchor="middle" fill="#111" stroke="#111" stroke-width="0.18">18q subtelomere</text>
<text x="280.95" y="468.00" font-size="10.2" text-anchor="middle" fill="#333" stroke="#333" stroke-width="0.18">p=.0138</text>
<path d="M263.40,482.00 L263.40,471.50 L299.70,471.50 L299.70,505.70" fill="none" stroke="#555" stroke-width="0.8"/>
<text x="256.40" y="550.50" font-size="8.7" font-weight="bold" text-anchor="middle" fill="#111" stroke="#111" stroke-width="0.18">Ctrl</text>
<text x="294.00" y="550.50" font-size="8.7" font-weight="bold" text-anchor="middle" fill="#111" stroke="#111" stroke-width="0.18">DAXX_KO</text>
<text transform="translate(224.40,506.90) rotate(-90)" x="-10.00" y="0" font-size="6.0" font-weight="bold" fill="#333" textLength="20.0" lengthAdjust="spacingAndGlyphs">% input</text>
<line x1="342.30" y1="472.90" x2="342.30" y2="540.50" stroke="#111" stroke-width="0.9"/>
<line x1="341.90" y1="540.10" x2="409.30" y2="540.10" stroke="#111" stroke-width="0.9"/>
<line x1="339.50" y1="540.10" x2="342.30" y2="540.10" stroke="#111" stroke-width="0.7"/>
<text x="338.80" y="542.44" font-size="5.1" font-weight="bold" text-anchor="end" fill="#222" stroke="#222" stroke-width="0.18">0.00</text>
<line x1="339.50" y1="526.66" x2="342.30" y2="526.66" stroke="#111" stroke-width="0.7"/>
<text x="338.80" y="529.00" font-size="5.1" font-weight="bold" text-anchor="end" fill="#222" stroke="#222" stroke-width="0.18">0.02</text>
<line x1="339.50" y1="513.22" x2="342.30" y2="513.22" stroke="#111" stroke-width="0.7"/>
<text x="338.80" y="515.56" font-size="5.1" font-weight="bold" text-anchor="end" fill="#222" stroke="#222" stroke-width="0.18">0.04</text>
<line x1="339.50" y1="499.78" x2="342.30" y2="499.78" stroke="#111" stroke-width="0.7"/>
<text x="338.80" y="502.12" font-size="5.1" font-weight="bold" text-anchor="end" fill="#222" stroke="#222" stroke-width="0.18">0.06</text>
<line x1="339.50" y1="486.34" x2="342.30" y2="486.34" stroke="#111" stroke-width="0.7"/>
<text x="338.80" y="488.68" font-size="5.1" font-weight="bold" text-anchor="end" fill="#222" stroke="#222" stroke-width="0.18">0.08</text>
<line x1="339.50" y1="472.90" x2="342.30" y2="472.90" stroke="#111" stroke-width="0.7"/>
<text x="338.80" y="475.24" font-size="5.1" font-weight="bold" text-anchor="end" fill="#222" stroke="#222" stroke-width="0.18">0.10</text>
<line x1="358.20" y1="540.10" x2="358.20" y2="542.50" stroke="#111" stroke-width="0.7"/>
<line x1="393.60" y1="540.10" x2="393.60" y2="542.50" stroke="#111" stroke-width="0.7"/>
<rect x="346.70" y="538.76" width="8.70" height="1.34" fill="#7a7a7a" stroke="#111" stroke-width="0.7"/>
<circle cx="348.15" cy="538.42" r="1.45" fill="#111" stroke="none" stroke-width="0.5"/>
<circle cx="351.05" cy="538.76" r="1.45" fill="#111" stroke="none" stroke-width="0.5"/>
<circle cx="353.95" cy="538.76" r="1.45" fill="#111" stroke="none" stroke-width="0.5"/>
<rect x="360.50" y="495.08" width="8.40" height="45.02" fill="#A00000" stroke="#111" stroke-width="0.7"/>
<line x1="364.70" y1="495.08" x2="364.70" y2="494.74" stroke="#111" stroke-width="0.7"/>
<line x1="362.70" y1="494.74" x2="366.70" y2="494.74" stroke="#111" stroke-width="0.7"/>
<circle cx="361.80" cy="494.40" r="1.45" fill="#111" stroke="none" stroke-width="0.5"/>
<circle cx="364.70" cy="495.08" r="1.45" fill="#111" stroke="none" stroke-width="0.5"/>
<circle cx="367.60" cy="495.75" r="1.45" fill="#111" stroke="none" stroke-width="0.5"/>
<rect x="382.60" y="538.76" width="8.70" height="1.34" fill="#7a7a7a" stroke="#111" stroke-width="0.7"/>
<circle cx="384.05" cy="538.76" r="1.45" fill="#111" stroke="none" stroke-width="0.5"/>
<circle cx="386.95" cy="538.76" r="1.45" fill="#111" stroke="none" stroke-width="0.5"/>
<circle cx="389.85" cy="538.76" r="1.45" fill="#111" stroke="none" stroke-width="0.5"/>
<rect x="396.40" y="523.30" width="8.40" height="16.80" fill="#A00000" stroke="#111" stroke-width="0.7"/>
<line x1="400.60" y1="523.30" x2="400.60" y2="522.63" stroke="#111" stroke-width="0.7"/>
<line x1="398.60" y1="522.63" x2="402.60" y2="522.63" stroke="#111" stroke-width="0.7"/>
<circle cx="397.70" cy="521.62" r="1.45" fill="#111" stroke="none" stroke-width="0.5"/>
<circle cx="400.60" cy="523.30" r="1.45" fill="#111" stroke="none" stroke-width="0.5"/>
<circle cx="403.50" cy="523.97" r="1.45" fill="#111" stroke="none" stroke-width="0.5"/>
<text x="379.65" y="454.20" font-size="10.0" font-weight="bold" text-anchor="middle" fill="#111" stroke="#111" stroke-width="0.18">13q subtelomere</text>
<text x="381.15" y="468.00" font-size="10.2" text-anchor="middle" fill="#333" stroke="#333" stroke-width="0.18">p=.0014</text>
<path d="M364.00,488.20 L364.00,471.50 L400.20,471.50 L400.20,513.60" fill="none" stroke="#555" stroke-width="0.8"/>
<text x="358.70" y="550.50" font-size="8.7" font-weight="bold" text-anchor="middle" fill="#111" stroke="#111" stroke-width="0.18">Ctrl</text>
<text x="396.30" y="550.50" font-size="8.7" font-weight="bold" text-anchor="middle" fill="#111" stroke="#111" stroke-width="0.18">DAXX_KO</text>
<text transform="translate(325.10,506.90) rotate(-90)" x="-10.00" y="0" font-size="6.0" font-weight="bold" fill="#333" textLength="20.0" lengthAdjust="spacingAndGlyphs">% input</text>
<line x1="441.30" y1="472.90" x2="441.30" y2="540.50" stroke="#111" stroke-width="0.9"/>
<line x1="440.90" y1="540.10" x2="508.30" y2="540.10" stroke="#111" stroke-width="0.9"/>
<line x1="438.50" y1="540.10" x2="441.30" y2="540.10" stroke="#111" stroke-width="0.7"/>
<text x="437.80" y="542.44" font-size="5.1" font-weight="bold" text-anchor="end" fill="#222" stroke="#222" stroke-width="0.18">0.00</text>
<line x1="438.50" y1="506.50" x2="441.30" y2="506.50" stroke="#111" stroke-width="0.7"/>
<text x="437.80" y="508.84" font-size="5.1" font-weight="bold" text-anchor="end" fill="#222" stroke="#222" stroke-width="0.18">0.05</text>
<line x1="438.50" y1="472.90" x2="441.30" y2="472.90" stroke="#111" stroke-width="0.7"/>
<text x="437.80" y="475.24" font-size="5.1" font-weight="bold" text-anchor="end" fill="#222" stroke="#222" stroke-width="0.18">0.10</text>
<line x1="457.20" y1="540.10" x2="457.20" y2="542.50" stroke="#111" stroke-width="0.7"/>
<line x1="492.60" y1="540.10" x2="492.60" y2="542.50" stroke="#111" stroke-width="0.7"/>
<rect x="445.70" y="537.08" width="8.70" height="3.02" fill="#7a7a7a" stroke="#111" stroke-width="0.7"/>
<circle cx="447.15" cy="536.74" r="1.45" fill="#111" stroke="none" stroke-width="0.5"/>
<circle cx="450.05" cy="536.74" r="1.45" fill="#111" stroke="none" stroke-width="0.5"/>
<circle cx="452.95" cy="537.41" r="1.45" fill="#111" stroke="none" stroke-width="0.5"/>
<rect x="459.50" y="534.72" width="8.40" height="5.38" fill="#A00000" stroke="#111" stroke-width="0.7"/>
<line x1="463.70" y1="534.72" x2="463.70" y2="532.04" stroke="#111" stroke-width="0.7"/>
<line x1="461.70" y1="532.04" x2="465.70" y2="532.04" stroke="#111" stroke-width="0.7"/>
<circle cx="463.70" cy="530.69" r="1.45" fill="#111" stroke="none" stroke-width="0.5"/>
<circle cx="462.25" cy="536.07" r="1.45" fill="#111" stroke="none" stroke-width="0.5"/>
<circle cx="465.15" cy="538.08" r="1.45" fill="#111" stroke="none" stroke-width="0.5"/>
<rect x="481.60" y="538.76" width="8.70" height="1.34" fill="#7a7a7a" stroke="#111" stroke-width="0.7"/>
<circle cx="483.05" cy="538.42" r="1.45" fill="#111" stroke="none" stroke-width="0.5"/>
<circle cx="485.95" cy="538.76" r="1.45" fill="#111" stroke="none" stroke-width="0.5"/>
<circle cx="488.85" cy="538.76" r="1.45" fill="#111" stroke="none" stroke-width="0.5"/>
<rect x="495.40" y="532.04" width="8.40" height="8.06" fill="#A00000" stroke="#111" stroke-width="0.7"/>
<line x1="499.60" y1="532.04" x2="499.60" y2="531.50" stroke="#111" stroke-width="0.7"/>
<line x1="497.60" y1="531.50" x2="501.60" y2="531.50" stroke="#111" stroke-width="0.7"/>
<circle cx="496.70" cy="531.36" r="1.45" fill="#111" stroke="none" stroke-width="0.5"/>
<circle cx="499.60" cy="531.70" r="1.45" fill="#111" stroke="none" stroke-width="0.5"/>
<circle cx="502.50" cy="531.70" r="1.45" fill="#111" stroke="none" stroke-width="0.5"/>
<text x="477.10" y="454.20" font-size="10.0" font-weight="bold" text-anchor="middle" fill="#111" stroke="#111" stroke-width="0.18">TMCC1</text>
<text x="483.10" y="511.00" font-size="10.2" text-anchor="middle" fill="#333" stroke="#333" stroke-width="0.18">p=.4485</text>
<path d="M464.10,523.20 L464.10,514.50 L500.60,514.50 L500.60,522.70" fill="none" stroke="#555" stroke-width="0.8"/>
<text x="456.10" y="550.50" font-size="8.7" font-weight="bold" text-anchor="middle" fill="#111" stroke="#111" stroke-width="0.18">Ctrl</text>
<text x="493.60" y="550.50" font-size="8.7" font-weight="bold" text-anchor="middle" fill="#111" stroke="#111" stroke-width="0.18">DAXX_KO</text>
<text transform="translate(424.10,506.90) rotate(-90)" x="-10.00" y="0" font-size="6.0" font-weight="bold" fill="#333" textLength="20.0" lengthAdjust="spacingAndGlyphs">% input</text>
<line x1="535.00" y1="472.90" x2="535.00" y2="540.50" stroke="#111" stroke-width="0.9"/>
<line x1="534.60" y1="540.10" x2="602.00" y2="540.10" stroke="#111" stroke-width="0.9"/>
<line x1="532.20" y1="540.10" x2="535.00" y2="540.10" stroke="#111" stroke-width="0.7"/>
<text x="531.50" y="542.44" font-size="5.1" font-weight="bold" text-anchor="end" fill="#222" stroke="#222" stroke-width="0.18">0.00</text>
<line x1="532.20" y1="506.50" x2="535.00" y2="506.50" stroke="#111" stroke-width="0.7"/>
<text x="531.50" y="508.84" font-size="5.1" font-weight="bold" text-anchor="end" fill="#222" stroke="#222" stroke-width="0.18">0.05</text>
<line x1="532.20" y1="472.90" x2="535.00" y2="472.90" stroke="#111" stroke-width="0.7"/>
<text x="531.50" y="475.24" font-size="5.1" font-weight="bold" text-anchor="end" fill="#222" stroke="#222" stroke-width="0.18">0.10</text>
<line x1="550.90" y1="540.10" x2="550.90" y2="542.50" stroke="#111" stroke-width="0.7"/>
<line x1="586.30" y1="540.10" x2="586.30" y2="542.50" stroke="#111" stroke-width="0.7"/>
<rect x="539.40" y="539.50" width="8.70" height="0.60" fill="#7a7a7a" stroke="#111" stroke-width="0.7"/>
<circle cx="540.85" cy="539.70" r="1.45" fill="#111" stroke="none" stroke-width="0.5"/>
<circle cx="543.75" cy="539.76" r="1.45" fill="#111" stroke="none" stroke-width="0.5"/>
<circle cx="546.65" cy="539.83" r="1.45" fill="#111" stroke="none" stroke-width="0.5"/>
<rect x="553.20" y="534.72" width="8.40" height="5.38" fill="#A00000" stroke="#111" stroke-width="0.7"/>
<line x1="557.40" y1="534.72" x2="557.40" y2="532.04" stroke="#111" stroke-width="0.7"/>
<line x1="555.40" y1="532.04" x2="559.40" y2="532.04" stroke="#111" stroke-width="0.7"/>
<circle cx="557.40" cy="530.02" r="1.45" fill="#111" stroke="none" stroke-width="0.5"/>
<circle cx="555.95" cy="536.74" r="1.45" fill="#111" stroke="none" stroke-width="0.5"/>
<circle cx="558.85" cy="538.08" r="1.45" fill="#111" stroke="none" stroke-width="0.5"/>
<rect x="575.30" y="539.43" width="8.70" height="0.67" fill="#7a7a7a" stroke="#111" stroke-width="0.7"/>
<circle cx="576.75" cy="539.09" r="1.45" fill="#111" stroke="none" stroke-width="0.5"/>
<circle cx="579.65" cy="539.43" r="1.45" fill="#111" stroke="none" stroke-width="0.5"/>
<circle cx="582.55" cy="539.76" r="1.45" fill="#111" stroke="none" stroke-width="0.5"/>
<rect x="589.10" y="525.32" width="8.40" height="14.78" fill="#A00000" stroke="#111" stroke-width="0.7"/>
<line x1="593.30" y1="525.32" x2="593.30" y2="519.94" stroke="#111" stroke-width="0.7"/>
<line x1="591.30" y1="519.94" x2="595.30" y2="519.94" stroke="#111" stroke-width="0.7"/>
<circle cx="593.30" cy="515.91" r="1.45" fill="#111" stroke="none" stroke-width="0.5"/>
<circle cx="593.30" cy="526.66" r="1.45" fill="#111" stroke="none" stroke-width="0.5"/>
<circle cx="593.30" cy="533.38" r="1.45" fill="#111" stroke="none" stroke-width="0.5"/>
<text x="566.00" y="454.20" font-size="10.0" font-weight="bold" text-anchor="middle" fill="#111" stroke="#111" stroke-width="0.18">CCDC170</text>
<text x="575.45" y="498.70" font-size="10.2" text-anchor="middle" fill="#333" stroke="#333" stroke-width="0.18">p=.3971</text>
<path d="M557.30,523.70 L557.30,503.10 L593.60,503.10 L593.60,511.00" fill="none" stroke="#555" stroke-width="0.8"/>
<text x="546.20" y="550.50" font-size="8.7" font-weight="bold" text-anchor="middle" fill="#111" stroke="#111" stroke-width="0.18">Ctrl</text>
<text x="584.00" y="550.50" font-size="8.7" font-weight="bold" text-anchor="middle" fill="#111" stroke="#111" stroke-width="0.18">DAXX_KO</text>
<text transform="translate(517.80,506.90) rotate(-90)" x="-10.00" y="0" font-size="6.0" font-weight="bold" fill="#333" textLength="20.0" lengthAdjust="spacingAndGlyphs">% input</text>
<text transform="translate(21.8,505.5) rotate(-90)" x="-8.55" y="0" font-size="10.6" font-weight="bold" fill="#111" textLength="17.1" lengthAdjust="spacingAndGlyphs">p53</text>
<rect x="604.90" y="475.50" width="7.20" height="3.20" fill="#7a7a7a" stroke="#111" stroke-width="0.7"/>
<rect x="604.90" y="485.20" width="7.20" height="3.00" fill="#A00000" stroke="#111" stroke-width="0.7"/>
<text x="614.40" y="480.40" font-size="8.4" font-weight="bold" fill="#111" stroke="#111" stroke-width="0.18">DMSO</text>
<text x="614.40" y="490.50" font-size="8.55" font-weight="bold" fill="#111" stroke="#111" stroke-width="0.18">Etoposide</text>
<line x1="40.40" y1="597.50" x2="40.40" y2="674.60" stroke="#111" stroke-width="0.9"/>
<line x1="40.00" y1="674.20" x2="118.10" y2="674.20" stroke="#111" stroke-width="0.9"/>
<line x1="37.60" y1="674.20" x2="40.40" y2="674.20" stroke="#111" stroke-width="0.7"/>
<text x="36.30" y="676.22" font-size="5.6" font-weight="bold" text-anchor="end" fill="#222" stroke="#222" stroke-width="0.18">0.0</text>
<line x1="37.60" y1="658.86" x2="40.40" y2="658.86" stroke="#111" stroke-width="0.7"/>
<text x="36.30" y="660.88" font-size="5.6" font-weight="bold" text-anchor="end" fill="#222" stroke="#222" stroke-width="0.18">0.5</text>
<line x1="37.60" y1="643.52" x2="40.40" y2="643.52" stroke="#111" stroke-width="0.7"/>
<text x="36.30" y="645.54" font-size="5.6" font-weight="bold" text-anchor="end" fill="#222" stroke="#222" stroke-width="0.18">1.0</text>
<line x1="37.60" y1="628.18" x2="40.40" y2="628.18" stroke="#111" stroke-width="0.7"/>
<text x="36.30" y="630.20" font-size="5.6" font-weight="bold" text-anchor="end" fill="#222" stroke="#222" stroke-width="0.18">1.5</text>
<line x1="37.60" y1="612.84" x2="40.40" y2="612.84" stroke="#111" stroke-width="0.7"/>
<text x="36.30" y="614.86" font-size="5.6" font-weight="bold" text-anchor="end" fill="#222" stroke="#222" stroke-width="0.18">2.0</text>
<line x1="37.60" y1="597.50" x2="40.40" y2="597.50" stroke="#111" stroke-width="0.7"/>
<text x="36.30" y="599.52" font-size="5.6" font-weight="bold" text-anchor="end" fill="#222" stroke="#222" stroke-width="0.18">2.5</text>
<line x1="58.40" y1="674.20" x2="58.40" y2="676.60" stroke="#111" stroke-width="0.7"/>
<line x1="99.30" y1="674.20" x2="99.30" y2="676.60" stroke="#111" stroke-width="0.7"/>
<rect x="46.50" y="673.28" width="9.20" height="0.92" fill="#7a7a7a" stroke="#111" stroke-width="0.7"/>
<circle cx="48.20" cy="673.28" r="1.45" fill="#111" stroke="none" stroke-width="0.5"/>
<circle cx="51.10" cy="673.28" r="1.45" fill="#111" stroke="none" stroke-width="0.5"/>
<circle cx="54.00" cy="673.28" r="1.45" fill="#111" stroke="none" stroke-width="0.5"/>
<rect x="61.40" y="612.23" width="9.40" height="61.97" fill="#A00000" stroke="#111" stroke-width="0.7"/>
<line x1="66.10" y1="612.23" x2="66.10" y2="610.08" stroke="#111" stroke-width="0.7"/>
<line x1="64.10" y1="610.08" x2="68.10" y2="610.08" stroke="#111" stroke-width="0.7"/>
<circle cx="64.65" cy="609.47" r="1.45" fill="#111" stroke="none" stroke-width="0.5"/>
<circle cx="67.55" cy="609.77" r="1.45" fill="#111" stroke="none" stroke-width="0.5"/>
<circle cx="66.10" cy="616.52" r="1.45" fill="#111" stroke="none" stroke-width="0.5"/>
<rect x="86.70" y="669.60" width="9.20" height="4.60" fill="#7a7a7a" stroke="#111" stroke-width="0.7"/>
<circle cx="88.40" cy="668.98" r="1.45" fill="#111" stroke="none" stroke-width="0.5"/>
<circle cx="91.30" cy="669.29" r="1.45" fill="#111" stroke="none" stroke-width="0.5"/>
<circle cx="94.20" cy="669.90" r="1.45" fill="#111" stroke="none" stroke-width="0.5"/>
<rect x="102.60" y="644.75" width="9.30" height="29.45" fill="#A00000" stroke="#111" stroke-width="0.7"/>
<line x1="107.25" y1="644.75" x2="107.25" y2="642.29" stroke="#111" stroke-width="0.7"/>
<line x1="105.25" y1="642.29" x2="109.25" y2="642.29" stroke="#111" stroke-width="0.7"/>
<circle cx="107.25" cy="639.84" r="1.45" fill="#111" stroke="none" stroke-width="0.5"/>
<circle cx="105.80" cy="645.05" r="1.45" fill="#111" stroke="none" stroke-width="0.5"/>
<circle cx="108.70" cy="648.12" r="1.45" fill="#111" stroke="none" stroke-width="0.5"/>
<text x="88.90" y="577.60" font-size="9.6" font-weight="bold" text-anchor="middle" fill="#111" stroke="#111" stroke-width="0.18">p21 promoter</text>
<text x="87.35" y="592.00" font-size="10.2" text-anchor="middle" fill="#333" stroke="#333" stroke-width="0.18">p=.0072</text>
<path d="M65.90,600.50 L65.90,595.40 L107.40,595.40 L107.40,632.50" fill="none" stroke="#555" stroke-width="0.8"/>
<text x="56.60" y="688.00" font-size="8.7" font-weight="bold" text-anchor="middle" fill="#111" stroke="#111" stroke-width="0.18">Ctrl</text>
<text x="101.40" y="688.00" font-size="8.7" font-weight="bold" text-anchor="middle" fill="#111" stroke="#111" stroke-width="0.18">ATRX_KO</text>
<text transform="translate(23.50,636.50) rotate(-90)" x="-11.85" y="0" font-size="6.0" font-weight="bold" fill="#333" textLength="23.7" lengthAdjust="spacingAndGlyphs">% input</text>
<line x1="140.60" y1="597.50" x2="140.60" y2="674.60" stroke="#111" stroke-width="0.9"/>
<line x1="140.20" y1="674.20" x2="218.30" y2="674.20" stroke="#111" stroke-width="0.9"/>
<line x1="137.80" y1="674.20" x2="140.60" y2="674.20" stroke="#111" stroke-width="0.7"/>
<text x="136.50" y="676.22" font-size="5.6" font-weight="bold" text-anchor="end" fill="#222" stroke="#222" stroke-width="0.18">0.0</text>
<line x1="137.80" y1="658.86" x2="140.60" y2="658.86" stroke="#111" stroke-width="0.7"/>
<text x="136.50" y="660.88" font-size="5.6" font-weight="bold" text-anchor="end" fill="#222" stroke="#222" stroke-width="0.18">0.2</text>
<line x1="137.80" y1="643.52" x2="140.60" y2="643.52" stroke="#111" stroke-width="0.7"/>
<text x="136.50" y="645.54" font-size="5.6" font-weight="bold" text-anchor="end" fill="#222" stroke="#222" stroke-width="0.18">0.4</text>
<line x1="137.80" y1="628.18" x2="140.60" y2="628.18" stroke="#111" stroke-width="0.7"/>
<text x="136.50" y="630.20" font-size="5.6" font-weight="bold" text-anchor="end" fill="#222" stroke="#222" stroke-width="0.18">0.6</text>
<line x1="137.80" y1="612.84" x2="140.60" y2="612.84" stroke="#111" stroke-width="0.7"/>
<text x="136.50" y="614.86" font-size="5.6" font-weight="bold" text-anchor="end" fill="#222" stroke="#222" stroke-width="0.18">0.8</text>
<line x1="137.80" y1="597.50" x2="140.60" y2="597.50" stroke="#111" stroke-width="0.7"/>
<text x="136.50" y="599.52" font-size="5.6" font-weight="bold" text-anchor="end" fill="#222" stroke="#222" stroke-width="0.18">1.0</text>
<line x1="158.60" y1="674.20" x2="158.60" y2="676.60" stroke="#111" stroke-width="0.7"/>
<line x1="199.50" y1="674.20" x2="199.50" y2="676.60" stroke="#111" stroke-width="0.7"/>
<rect x="146.70" y="673.28" width="9.20" height="0.92" fill="#7a7a7a" stroke="#111" stroke-width="0.7"/>
<circle cx="148.40" cy="672.67" r="1.45" fill="#111" stroke="none" stroke-width="0.5"/>
<circle cx="151.30" cy="673.28" r="1.45" fill="#111" stroke="none" stroke-width="0.5"/>
<circle cx="154.20" cy="673.43" r="1.45" fill="#111" stroke="none" stroke-width="0.5"/>
<rect x="161.60" y="608.24" width="9.40" height="65.96" fill="#A00000" stroke="#111" stroke-width="0.7"/>
<line x1="166.30" y1="608.24" x2="166.30" y2="604.79" stroke="#111" stroke-width="0.7"/>
<line x1="164.30" y1="604.79" x2="168.30" y2="604.79" stroke="#111" stroke-width="0.7"/>
<circle cx="164.85" cy="602.87" r="1.45" fill="#111" stroke="none" stroke-width="0.5"/>
<circle cx="167.75" cy="605.17" r="1.45" fill="#111" stroke="none" stroke-width="0.5"/>
<circle cx="166.30" cy="615.91" r="1.45" fill="#111" stroke="none" stroke-width="0.5"/>
<rect x="186.90" y="671.13" width="9.20" height="3.07" fill="#7a7a7a" stroke="#111" stroke-width="0.7"/>
<circle cx="188.60" cy="670.37" r="1.45" fill="#111" stroke="none" stroke-width="0.5"/>
<circle cx="191.50" cy="670.75" r="1.45" fill="#111" stroke="none" stroke-width="0.5"/>
<circle cx="194.40" cy="671.90" r="1.45" fill="#111" stroke="none" stroke-width="0.5"/>
<rect x="202.80" y="648.12" width="9.30" height="26.08" fill="#A00000" stroke="#111" stroke-width="0.7"/>
<line x1="207.45" y1="648.12" x2="207.45" y2="646.59" stroke="#111" stroke-width="0.7"/>
<line x1="205.45" y1="646.59" x2="209.45" y2="646.59" stroke="#111" stroke-width="0.7"/>
<circle cx="204.55" cy="644.67" r="1.45" fill="#111" stroke="none" stroke-width="0.5"/>
<circle cx="207.45" cy="647.74" r="1.45" fill="#111" stroke="none" stroke-width="0.5"/>
<circle cx="210.35" cy="648.89" r="1.45" fill="#111" stroke="none" stroke-width="0.5"/>
<text x="178.85" y="577.60" font-size="9.6" font-weight="bold" text-anchor="middle" fill="#111" stroke="#111" stroke-width="0.18">GADD45A</text>
<text x="187.60" y="591.70" font-size="10.2" text-anchor="middle" fill="#333" stroke="#333" stroke-width="0.18">p=.0057</text>
<path d="M166.30,600.50 L166.30,594.90 L207.80,594.90 L207.80,632.50" fill="none" stroke="#555" stroke-width="0.8"/>
<text x="157.70" y="688.00" font-size="8.7" font-weight="bold" text-anchor="middle" fill="#111" stroke="#111" stroke-width="0.18">Ctrl</text>
<text x="202.30" y="688.00" font-size="8.7" font-weight="bold" text-anchor="middle" fill="#111" stroke="#111" stroke-width="0.18">ATRX_KO</text>
<text transform="translate(124.20,636.50) rotate(-90)" x="-11.85" y="0" font-size="6.0" font-weight="bold" fill="#333" textLength="23.7" lengthAdjust="spacingAndGlyphs">% input</text>
<line x1="239.80" y1="597.50" x2="239.80" y2="674.60" stroke="#111" stroke-width="0.9"/>
<line x1="239.40" y1="674.20" x2="317.50" y2="674.20" stroke="#111" stroke-width="0.9"/>
<line x1="237.00" y1="674.20" x2="239.80" y2="674.20" stroke="#111" stroke-width="0.7"/>
<text x="235.70" y="676.22" font-size="5.6" font-weight="bold" text-anchor="end" fill="#222" stroke="#222" stroke-width="0.18">0.0</text>
<line x1="237.00" y1="655.03" x2="239.80" y2="655.03" stroke="#111" stroke-width="0.7"/>
<text x="235.70" y="657.04" font-size="5.6" font-weight="bold" text-anchor="end" fill="#222" stroke="#222" stroke-width="0.18">0.2</text>
<line x1="237.00" y1="635.85" x2="239.80" y2="635.85" stroke="#111" stroke-width="0.7"/>
<text x="235.70" y="637.87" font-size="5.6" font-weight="bold" text-anchor="end" fill="#222" stroke="#222" stroke-width="0.18">0.4</text>
<line x1="237.00" y1="616.68" x2="239.80" y2="616.68" stroke="#111" stroke-width="0.7"/>
<text x="235.70" y="618.69" font-size="5.6" font-weight="bold" text-anchor="end" fill="#222" stroke="#222" stroke-width="0.18">0.6</text>
<line x1="237.00" y1="597.50" x2="239.80" y2="597.50" stroke="#111" stroke-width="0.7"/>
<text x="235.70" y="599.52" font-size="5.6" font-weight="bold" text-anchor="end" fill="#222" stroke="#222" stroke-width="0.18">0.8</text>
<line x1="257.80" y1="674.20" x2="257.80" y2="676.60" stroke="#111" stroke-width="0.7"/>
<line x1="298.70" y1="674.20" x2="298.70" y2="676.60" stroke="#111" stroke-width="0.7"/>
<rect x="245.90" y="673.24" width="9.20" height="0.96" fill="#7a7a7a" stroke="#111" stroke-width="0.7"/>
<circle cx="247.60" cy="673.24" r="1.45" fill="#111" stroke="none" stroke-width="0.5"/>
<circle cx="250.50" cy="673.24" r="1.45" fill="#111" stroke="none" stroke-width="0.5"/>
<circle cx="253.40" cy="673.24" r="1.45" fill="#111" stroke="none" stroke-width="0.5"/>
<rect x="260.80" y="624.35" width="9.40" height="49.86" fill="#A00000" stroke="#111" stroke-width="0.7"/>
<line x1="265.50" y1="624.35" x2="265.50" y2="620.51" stroke="#111" stroke-width="0.7"/>
<line x1="263.50" y1="620.51" x2="267.50" y2="620.51" stroke="#111" stroke-width="0.7"/>
<circle cx="265.50" cy="616.68" r="1.45" fill="#111" stroke="none" stroke-width="0.5"/>
<circle cx="264.05" cy="626.26" r="1.45" fill="#111" stroke="none" stroke-width="0.5"/>
<circle cx="266.95" cy="630.10" r="1.45" fill="#111" stroke="none" stroke-width="0.5"/>
<rect x="286.10" y="671.80" width="9.20" height="2.40" fill="#7a7a7a" stroke="#111" stroke-width="0.7"/>
<circle cx="287.80" cy="670.37" r="1.45" fill="#111" stroke="none" stroke-width="0.5"/>
<circle cx="290.70" cy="672.28" r="1.45" fill="#111" stroke="none" stroke-width="0.5"/>
<circle cx="293.60" cy="672.28" r="1.45" fill="#111" stroke="none" stroke-width="0.5"/>
<rect x="302.00" y="667.01" width="9.30" height="7.19" fill="#A00000" stroke="#111" stroke-width="0.7"/>
<line x1="306.65" y1="667.01" x2="306.65" y2="666.24" stroke="#111" stroke-width="0.7"/>
<line x1="304.65" y1="666.24" x2="308.65" y2="666.24" stroke="#111" stroke-width="0.7"/>
<circle cx="303.75" cy="666.05" r="1.45" fill="#111" stroke="none" stroke-width="0.5"/>
<circle cx="306.65" cy="667.01" r="1.45" fill="#111" stroke="none" stroke-width="0.5"/>
<circle cx="309.55" cy="667.49" r="1.45" fill="#111" stroke="none" stroke-width="0.5"/>
<text x="280.65" y="577.60" font-size="9.6" font-weight="bold" text-anchor="middle" fill="#111" stroke="#111" stroke-width="0.18">18q subtelomere</text>
<text x="285.55" y="591.70" font-size="10.2" text-anchor="middle" fill="#333" stroke="#333" stroke-width="0.18">p=.0096</text>
<path d="M264.60,610.90 L264.60,594.90 L305.70,594.90 L305.70,650.40" fill="none" stroke="#555" stroke-width="0.8"/>
<text x="258.70" y="688.00" font-size="8.7" font-weight="bold" text-anchor="middle" fill="#111" stroke="#111" stroke-width="0.18">Ctrl</text>
<text x="303.20" y="688.00" font-size="8.7" font-weight="bold" text-anchor="middle" fill="#111" stroke="#111" stroke-width="0.18">ATRX_KO</text>
<text transform="translate(223.30,636.50) rotate(-90)" x="-11.85" y="0" font-size="6.0" font-weight="bold" fill="#333" textLength="23.7" lengthAdjust="spacingAndGlyphs">% input</text>
<line x1="339.00" y1="597.50" x2="339.00" y2="674.60" stroke="#111" stroke-width="0.9"/>
<line x1="338.60" y1="674.20" x2="416.70" y2="674.20" stroke="#111" stroke-width="0.9"/>
<line x1="336.20" y1="674.20" x2="339.00" y2="674.20" stroke="#111" stroke-width="0.7"/>
<text x="334.90" y="676.22" font-size="5.6" font-weight="bold" text-anchor="end" fill="#222" stroke="#222" stroke-width="0.18">0.0</text>
<line x1="336.20" y1="655.03" x2="339.00" y2="655.03" stroke="#111" stroke-width="0.7"/>
<text x="334.90" y="657.04" font-size="5.6" font-weight="bold" text-anchor="end" fill="#222" stroke="#222" stroke-width="0.18">0.2</text>
<line x1="336.20" y1="635.85" x2="339.00" y2="635.85" stroke="#111" stroke-width="0.7"/>
<text x="334.90" y="637.87" font-size="5.6" font-weight="bold" text-anchor="end" fill="#222" stroke="#222" stroke-width="0.18">0.4</text>
<line x1="336.20" y1="616.68" x2="339.00" y2="616.68" stroke="#111" stroke-width="0.7"/>
<text x="334.90" y="618.69" font-size="5.6" font-weight="bold" text-anchor="end" fill="#222" stroke="#222" stroke-width="0.18">0.6</text>
<line x1="336.20" y1="597.50" x2="339.00" y2="597.50" stroke="#111" stroke-width="0.7"/>
<text x="334.90" y="599.52" font-size="5.6" font-weight="bold" text-anchor="end" fill="#222" stroke="#222" stroke-width="0.18">0.8</text>
<line x1="357.00" y1="674.20" x2="357.00" y2="676.60" stroke="#111" stroke-width="0.7"/>
<line x1="397.90" y1="674.20" x2="397.90" y2="676.60" stroke="#111" stroke-width="0.7"/>
<rect x="345.10" y="673.24" width="9.20" height="0.96" fill="#7a7a7a" stroke="#111" stroke-width="0.7"/>
<circle cx="346.80" cy="673.24" r="1.45" fill="#111" stroke="none" stroke-width="0.5"/>
<circle cx="349.70" cy="673.24" r="1.45" fill="#111" stroke="none" stroke-width="0.5"/>
<circle cx="352.60" cy="673.24" r="1.45" fill="#111" stroke="none" stroke-width="0.5"/>
<rect x="360.00" y="619.55" width="9.40" height="54.65" fill="#A00000" stroke="#111" stroke-width="0.7"/>
<line x1="364.70" y1="619.55" x2="364.70" y2="612.84" stroke="#111" stroke-width="0.7"/>
<line x1="362.70" y1="612.84" x2="366.70" y2="612.84" stroke="#111" stroke-width="0.7"/>
<circle cx="363.25" cy="610.92" r="1.45" fill="#111" stroke="none" stroke-width="0.5"/>
<circle cx="366.15" cy="614.76" r="1.45" fill="#111" stroke="none" stroke-width="0.5"/>
<circle cx="364.70" cy="632.01" r="1.45" fill="#111" stroke="none" stroke-width="0.5"/>
<rect x="385.30" y="673.24" width="9.20" height="0.96" fill="#7a7a7a" stroke="#111" stroke-width="0.7"/>
<circle cx="387.00" cy="673.24" r="1.45" fill="#111" stroke="none" stroke-width="0.5"/>
<circle cx="389.90" cy="673.24" r="1.45" fill="#111" stroke="none" stroke-width="0.5"/>
<circle cx="392.80" cy="673.24" r="1.45" fill="#111" stroke="none" stroke-width="0.5"/>
<rect x="401.20" y="667.68" width="9.30" height="6.52" fill="#A00000" stroke="#111" stroke-width="0.7"/>
<line x1="405.85" y1="667.68" x2="405.85" y2="667.30" stroke="#111" stroke-width="0.7"/>
<line x1="403.85" y1="667.30" x2="407.85" y2="667.30" stroke="#111" stroke-width="0.7"/>
<circle cx="402.95" cy="667.49" r="1.45" fill="#111" stroke="none" stroke-width="0.5"/>
<circle cx="405.85" cy="667.49" r="1.45" fill="#111" stroke="none" stroke-width="0.5"/>
<circle cx="408.75" cy="667.97" r="1.45" fill="#111" stroke="none" stroke-width="0.5"/>
<text x="378.25" y="577.60" font-size="9.6" font-weight="bold" text-anchor="middle" fill="#111" stroke="#111" stroke-width="0.18">13q subtelomere</text>
<text x="385.55" y="591.70" font-size="10.2" text-anchor="middle" fill="#333" stroke="#333" stroke-width="0.18">p=.0172</text>
<path d="M365.60,609.90 L365.60,594.90 L406.50,594.90 L406.50,650.10" fill="none" stroke="#555" stroke-width="0.8"/>
<text x="356.60" y="688.00" font-size="8.7" font-weight="bold" text-anchor="middle" fill="#111" stroke="#111" stroke-width="0.18">Ctrl</text>
<text x="401.40" y="688.00" font-size="8.7" font-weight="bold" text-anchor="middle" fill="#111" stroke="#111" stroke-width="0.18">ATRX_KO</text>
<text transform="translate(322.50,636.50) rotate(-90)" x="-11.85" y="0" font-size="6.0" font-weight="bold" fill="#333" textLength="23.7" lengthAdjust="spacingAndGlyphs">% input</text>
<line x1="441.60" y1="597.50" x2="441.60" y2="674.60" stroke="#111" stroke-width="0.9"/>
<line x1="441.20" y1="674.20" x2="519.30" y2="674.20" stroke="#111" stroke-width="0.9"/>
<line x1="438.80" y1="674.20" x2="441.60" y2="674.20" stroke="#111" stroke-width="0.7"/>
<text x="437.50" y="676.22" font-size="5.6" font-weight="bold" text-anchor="end" fill="#222" stroke="#222" stroke-width="0.18">0.0</text>
<line x1="438.80" y1="655.03" x2="441.60" y2="655.03" stroke="#111" stroke-width="0.7"/>
<text x="437.50" y="657.04" font-size="5.6" font-weight="bold" text-anchor="end" fill="#222" stroke="#222" stroke-width="0.18">0.2</text>
<line x1="438.80" y1="635.85" x2="441.60" y2="635.85" stroke="#111" stroke-width="0.7"/>
<text x="437.50" y="637.87" font-size="5.6" font-weight="bold" text-anchor="end" fill="#222" stroke="#222" stroke-width="0.18">0.4</text>
<line x1="438.80" y1="616.68" x2="441.60" y2="616.68" stroke="#111" stroke-width="0.7"/>
<text x="437.50" y="618.69" font-size="5.6" font-weight="bold" text-anchor="end" fill="#222" stroke="#222" stroke-width="0.18">0.6</text>
<line x1="438.80" y1="597.50" x2="441.60" y2="597.50" stroke="#111" stroke-width="0.7"/>
<text x="437.50" y="599.52" font-size="5.6" font-weight="bold" text-anchor="end" fill="#222" stroke="#222" stroke-width="0.18">0.8</text>
<line x1="459.60" y1="674.20" x2="459.60" y2="676.60" stroke="#111" stroke-width="0.7"/>
<line x1="500.50" y1="674.20" x2="500.50" y2="676.60" stroke="#111" stroke-width="0.7"/>
<rect x="447.70" y="673.24" width="9.20" height="0.96" fill="#7a7a7a" stroke="#111" stroke-width="0.7"/>
<circle cx="449.40" cy="673.24" r="1.45" fill="#111" stroke="none" stroke-width="0.5"/>
<circle cx="452.30" cy="673.24" r="1.45" fill="#111" stroke="none" stroke-width="0.5"/>
<circle cx="455.20" cy="673.24" r="1.45" fill="#111" stroke="none" stroke-width="0.5"/>
<rect x="462.60" y="667.49" width="9.40" height="6.71" fill="#A00000" stroke="#111" stroke-width="0.7"/>
<line x1="467.30" y1="667.49" x2="467.30" y2="666.72" stroke="#111" stroke-width="0.7"/>
<line x1="465.30" y1="666.72" x2="469.30" y2="666.72" stroke="#111" stroke-width="0.7"/>
<circle cx="464.40" cy="665.57" r="1.45" fill="#111" stroke="none" stroke-width="0.5"/>
<circle cx="467.30" cy="667.49" r="1.45" fill="#111" stroke="none" stroke-width="0.5"/>
<circle cx="470.20" cy="668.45" r="1.45" fill="#111" stroke="none" stroke-width="0.5"/>
<rect x="487.90" y="673.24" width="9.20" height="0.96" fill="#7a7a7a" stroke="#111" stroke-width="0.7"/>
<circle cx="489.60" cy="673.24" r="1.45" fill="#111" stroke="none" stroke-width="0.5"/>
<circle cx="492.50" cy="673.24" r="1.45" fill="#111" stroke="none" stroke-width="0.5"/>
<circle cx="495.40" cy="673.24" r="1.45" fill="#111" stroke="none" stroke-width="0.5"/>
<rect x="503.80" y="673.24" width="9.30" height="0.96" fill="#A00000" stroke="#111" stroke-width="0.7"/>
<circle cx="505.55" cy="673.24" r="1.45" fill="#111" stroke="none" stroke-width="0.5"/>
<circle cx="508.45" cy="673.24" r="1.45" fill="#111" stroke="none" stroke-width="0.5"/>
<circle cx="511.35" cy="673.24" r="1.45" fill="#111" stroke="none" stroke-width="0.5"/>
<text x="482.20" y="577.60" font-size="9.6" font-weight="bold" text-anchor="middle" fill="#111" stroke="#111" stroke-width="0.18">TMCC1</text>
<text x="488.50" y="648.50" font-size="10.2" text-anchor="middle" fill="#333" stroke="#333" stroke-width="0.18">p=.0208</text>
<path d="M468.60,658.00 L468.60,653.60 L509.50,653.60 L509.50,667.40" fill="none" stroke="#555" stroke-width="0.8"/>
<text x="457.70" y="688.00" font-size="8.7" font-weight="bold" text-anchor="middle" fill="#111" stroke="#111" stroke-width="0.18">Ctrl</text>
<text x="502.30" y="688.00" font-size="8.7" font-weight="bold" text-anchor="middle" fill="#111" stroke="#111" stroke-width="0.18">ATRX_KO</text>
<text transform="translate(425.10,636.50) rotate(-90)" x="-11.85" y="0" font-size="6.0" font-weight="bold" fill="#333" textLength="23.7" lengthAdjust="spacingAndGlyphs">% input</text>
<line x1="539.30" y1="597.50" x2="539.30" y2="674.60" stroke="#111" stroke-width="0.9"/>
<line x1="538.90" y1="674.20" x2="617.00" y2="674.20" stroke="#111" stroke-width="0.9"/>
<line x1="536.50" y1="674.20" x2="539.30" y2="674.20" stroke="#111" stroke-width="0.7"/>
<text x="535.20" y="676.22" font-size="5.6" font-weight="bold" text-anchor="end" fill="#222" stroke="#222" stroke-width="0.18">0.0</text>
<line x1="536.50" y1="655.03" x2="539.30" y2="655.03" stroke="#111" stroke-width="0.7"/>
<text x="535.20" y="657.04" font-size="5.6" font-weight="bold" text-anchor="end" fill="#222" stroke="#222" stroke-width="0.18">0.2</text>
<line x1="536.50" y1="635.85" x2="539.30" y2="635.85" stroke="#111" stroke-width="0.7"/>
<text x="535.20" y="637.87" font-size="5.6" font-weight="bold" text-anchor="end" fill="#222" stroke="#222" stroke-width="0.18">0.4</text>
<line x1="536.50" y1="616.68" x2="539.30" y2="616.68" stroke="#111" stroke-width="0.7"/>
<text x="535.20" y="618.69" font-size="5.6" font-weight="bold" text-anchor="end" fill="#222" stroke="#222" stroke-width="0.18">0.6</text>
<line x1="536.50" y1="597.50" x2="539.30" y2="597.50" stroke="#111" stroke-width="0.7"/>
<text x="535.20" y="599.52" font-size="5.6" font-weight="bold" text-anchor="end" fill="#222" stroke="#222" stroke-width="0.18">0.8</text>
<line x1="557.30" y1="674.20" x2="557.30" y2="676.60" stroke="#111" stroke-width="0.7"/>
<line x1="598.20" y1="674.20" x2="598.20" y2="676.60" stroke="#111" stroke-width="0.7"/>
<rect x="545.40" y="673.24" width="9.20" height="0.96" fill="#7a7a7a" stroke="#111" stroke-width="0.7"/>
<circle cx="547.10" cy="673.24" r="1.45" fill="#111" stroke="none" stroke-width="0.5"/>
<circle cx="550.00" cy="673.24" r="1.45" fill="#111" stroke="none" stroke-width="0.5"/>
<circle cx="552.90" cy="673.24" r="1.45" fill="#111" stroke="none" stroke-width="0.5"/>
<rect x="560.30" y="663.65" width="9.40" height="10.55" fill="#A00000" stroke="#111" stroke-width="0.7"/>
<line x1="565.00" y1="663.65" x2="565.00" y2="661.74" stroke="#111" stroke-width="0.7"/>
<line x1="563.00" y1="661.74" x2="567.00" y2="661.74" stroke="#111" stroke-width="0.7"/>
<circle cx="562.10" cy="660.78" r="1.45" fill="#111" stroke="none" stroke-width="0.5"/>
<circle cx="565.00" cy="662.70" r="1.45" fill="#111" stroke="none" stroke-width="0.5"/>
<circle cx="567.90" cy="666.53" r="1.45" fill="#111" stroke="none" stroke-width="0.5"/>
<rect x="585.60" y="673.24" width="9.20" height="0.96" fill="#7a7a7a" stroke="#111" stroke-width="0.7"/>
<circle cx="587.30" cy="673.24" r="1.45" fill="#111" stroke="none" stroke-width="0.5"/>
<circle cx="590.20" cy="673.24" r="1.45" fill="#111" stroke="none" stroke-width="0.5"/>
<circle cx="593.10" cy="673.24" r="1.45" fill="#111" stroke="none" stroke-width="0.5"/>
<rect x="601.50" y="673.24" width="9.30" height="0.96" fill="#A00000" stroke="#111" stroke-width="0.7"/>
<circle cx="603.25" cy="673.24" r="1.45" fill="#111" stroke="none" stroke-width="0.5"/>
<circle cx="606.15" cy="673.24" r="1.45" fill="#111" stroke="none" stroke-width="0.5"/>
<circle cx="609.05" cy="673.24" r="1.45" fill="#111" stroke="none" stroke-width="0.5"/>
<text x="581.45" y="577.60" font-size="9.6" font-weight="bold" text-anchor="middle" fill="#111" stroke="#111" stroke-width="0.18">CCDC170</text>
<text x="585.25" y="650.80" font-size="10.2" text-anchor="middle" fill="#333" stroke="#333" stroke-width="0.18">p=.0333</text>
<path d="M564.80,657.60 L564.80,654.60 L606.30,654.60 L606.30,667.80" fill="none" stroke="#555" stroke-width="0.8"/>
<text x="553.70" y="688.00" font-size="8.7" font-weight="bold" text-anchor="middle" fill="#111" stroke="#111" stroke-width="0.18">Ctrl</text>
<text x="598.30" y="688.00" font-size="8.7" font-weight="bold" text-anchor="middle" fill="#111" stroke="#111" stroke-width="0.18">ATRX_KO</text>
<text transform="translate(522.80,636.50) rotate(-90)" x="-11.85" y="0" font-size="6.0" font-weight="bold" fill="#333" textLength="23.7" lengthAdjust="spacingAndGlyphs">% input</text>
<text transform="translate(17.8,637.0) rotate(-90)" x="-7.9" y="0" font-size="10.6" font-weight="bold" fill="#111" textLength="15.8" lengthAdjust="spacingAndGlyphs">p53</text>
<rect x="605.70" y="598.10" width="7.00" height="3.00" fill="#7a7a7a" stroke="#111" stroke-width="0.7"/>
<rect x="605.70" y="607.10" width="7.00" height="3.00" fill="#A00000" stroke="#111" stroke-width="0.7"/>
<text x="615.10" y="602.40" font-size="8.4" font-weight="bold" fill="#111" stroke="#111" stroke-width="0.18">DMSO</text>
<text x="615.10" y="611.80" font-size="8.55" font-weight="bold" fill="#111" stroke="#111" stroke-width="0.18">Etoposide</text>
</svg>
</body></html>
